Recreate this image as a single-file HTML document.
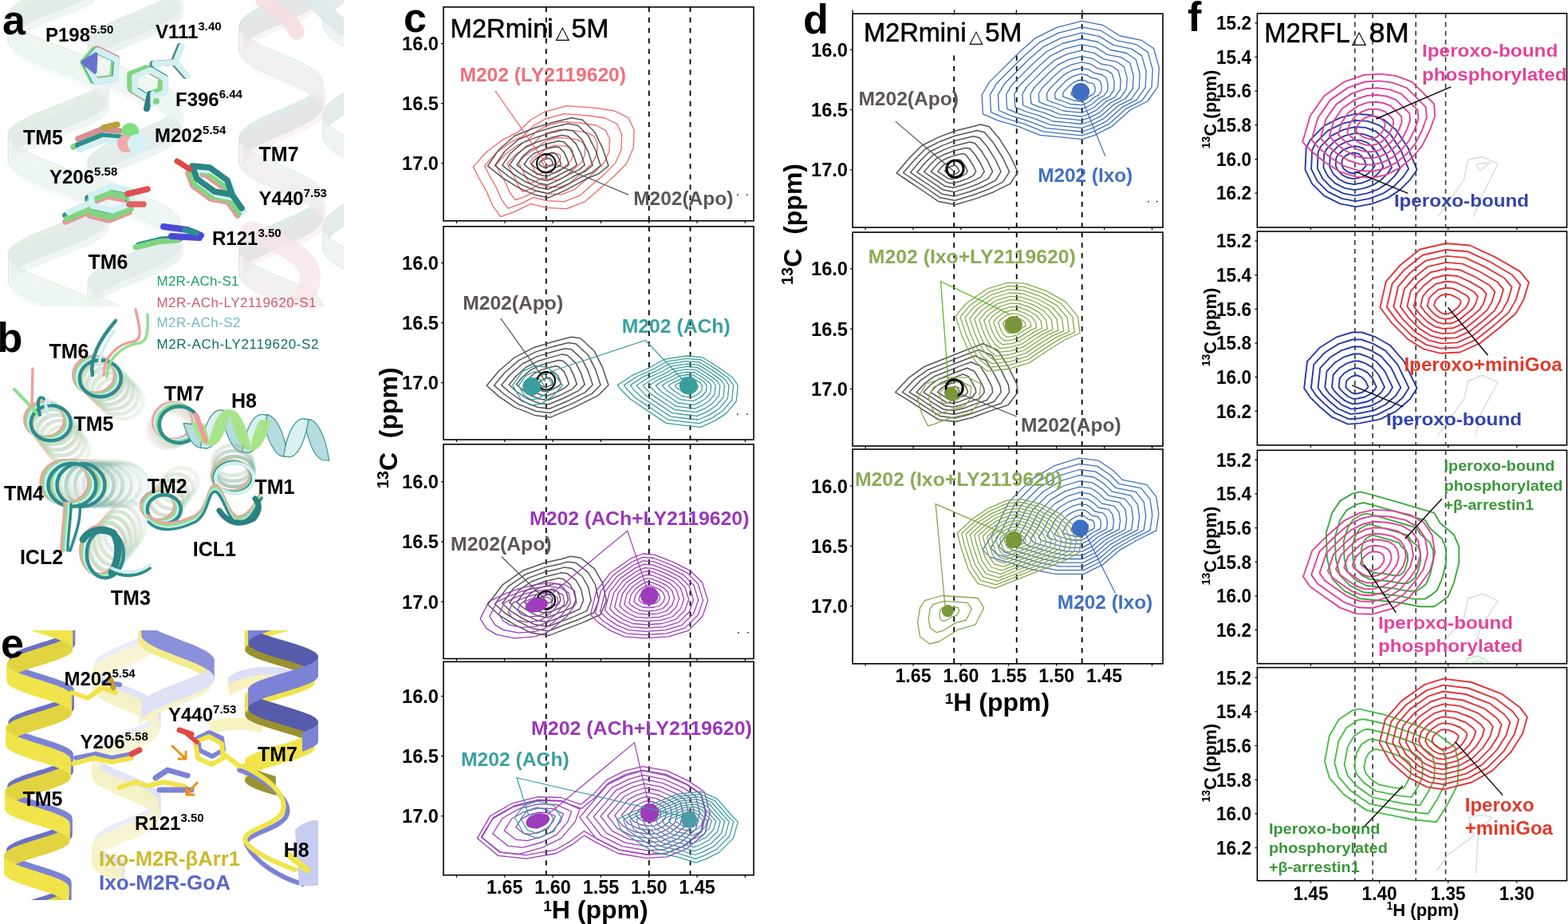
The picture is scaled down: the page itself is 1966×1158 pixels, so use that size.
<!DOCTYPE html>
<html><head><meta charset="utf-8"><title>figure</title>
<style>html,body{margin:0;padding:0;background:#fff;width:1966px;height:1158px;overflow:hidden}
svg{display:block;font-family:"Liberation Sans",Arial,sans-serif}</style></head>
<body><svg width="1966" height="1158" viewBox="0 0 1966 1158">
<rect width="1966" height="1158" fill="#fff"/>
<rect x="556" y="8.8" width="389" height="268" fill="#fff" stroke="#000" stroke-width="1.6"/>
<line x1="684.8" y1="8.8" x2="684.8" y2="276.8" stroke="#000" stroke-width="1.8" stroke-dasharray="6.3 6.8"/>
<line x1="813.8" y1="8.8" x2="813.8" y2="276.8" stroke="#000" stroke-width="1.8" stroke-dasharray="6.3 6.8"/>
<line x1="865.5" y1="8.8" x2="865.5" y2="276.8" stroke="#000" stroke-width="1.8" stroke-dasharray="6.3 6.8"/>
<rect x="556" y="283.8" width="389" height="267.2" fill="#fff" stroke="#000" stroke-width="1.6"/>
<line x1="684.8" y1="283.8" x2="684.8" y2="551" stroke="#000" stroke-width="1.8" stroke-dasharray="6.3 6.8"/>
<line x1="813.8" y1="283.8" x2="813.8" y2="551" stroke="#000" stroke-width="1.8" stroke-dasharray="6.3 6.8"/>
<line x1="865.5" y1="283.8" x2="865.5" y2="551" stroke="#000" stroke-width="1.8" stroke-dasharray="6.3 6.8"/>
<rect x="556" y="556.8" width="389" height="268.7" fill="#fff" stroke="#000" stroke-width="1.6"/>
<line x1="684.8" y1="556.8" x2="684.8" y2="825.5" stroke="#000" stroke-width="1.8" stroke-dasharray="6.3 6.8"/>
<line x1="813.8" y1="556.8" x2="813.8" y2="825.5" stroke="#000" stroke-width="1.8" stroke-dasharray="6.3 6.8"/>
<line x1="865.5" y1="556.8" x2="865.5" y2="825.5" stroke="#000" stroke-width="1.8" stroke-dasharray="6.3 6.8"/>
<rect x="556" y="829.3" width="389" height="267.4" fill="#fff" stroke="#000" stroke-width="1.6"/>
<line x1="684.8" y1="829.3" x2="684.8" y2="1096.7" stroke="#000" stroke-width="1.8" stroke-dasharray="6.3 6.8"/>
<line x1="813.8" y1="829.3" x2="813.8" y2="1096.7" stroke="#000" stroke-width="1.8" stroke-dasharray="6.3 6.8"/>
<line x1="865.5" y1="829.3" x2="865.5" y2="1096.7" stroke="#000" stroke-width="1.8" stroke-dasharray="6.3 6.8"/>
<line x1="572.5" y1="276.8" x2="572.5" y2="279.8" stroke="#000" stroke-width="1.2"/>
<line x1="632.8" y1="276.8" x2="632.8" y2="279.8" stroke="#000" stroke-width="1.2"/>
<line x1="693.1" y1="276.8" x2="693.1" y2="279.8" stroke="#000" stroke-width="1.2"/>
<line x1="753.4" y1="276.8" x2="753.4" y2="279.8" stroke="#000" stroke-width="1.2"/>
<line x1="813.7" y1="276.8" x2="813.7" y2="279.8" stroke="#000" stroke-width="1.2"/>
<line x1="874" y1="276.8" x2="874" y2="279.8" stroke="#000" stroke-width="1.2"/>
<line x1="934.3" y1="276.8" x2="934.3" y2="279.8" stroke="#000" stroke-width="1.2"/>
<line x1="572.5" y1="551" x2="572.5" y2="554" stroke="#000" stroke-width="1.2"/>
<line x1="632.8" y1="551" x2="632.8" y2="554" stroke="#000" stroke-width="1.2"/>
<line x1="693.1" y1="551" x2="693.1" y2="554" stroke="#000" stroke-width="1.2"/>
<line x1="753.4" y1="551" x2="753.4" y2="554" stroke="#000" stroke-width="1.2"/>
<line x1="813.7" y1="551" x2="813.7" y2="554" stroke="#000" stroke-width="1.2"/>
<line x1="874" y1="551" x2="874" y2="554" stroke="#000" stroke-width="1.2"/>
<line x1="934.3" y1="551" x2="934.3" y2="554" stroke="#000" stroke-width="1.2"/>
<line x1="572.5" y1="825.5" x2="572.5" y2="828.5" stroke="#000" stroke-width="1.2"/>
<line x1="632.8" y1="825.5" x2="632.8" y2="828.5" stroke="#000" stroke-width="1.2"/>
<line x1="693.1" y1="825.5" x2="693.1" y2="828.5" stroke="#000" stroke-width="1.2"/>
<line x1="753.4" y1="825.5" x2="753.4" y2="828.5" stroke="#000" stroke-width="1.2"/>
<line x1="813.7" y1="825.5" x2="813.7" y2="828.5" stroke="#000" stroke-width="1.2"/>
<line x1="874" y1="825.5" x2="874" y2="828.5" stroke="#000" stroke-width="1.2"/>
<line x1="934.3" y1="825.5" x2="934.3" y2="828.5" stroke="#000" stroke-width="1.2"/>
<line x1="572.5" y1="1096.7" x2="572.5" y2="1099.7" stroke="#000" stroke-width="1.2"/>
<line x1="632.8" y1="1096.7" x2="632.8" y2="1099.7" stroke="#000" stroke-width="1.2"/>
<line x1="693.1" y1="1096.7" x2="693.1" y2="1099.7" stroke="#000" stroke-width="1.2"/>
<line x1="753.4" y1="1096.7" x2="753.4" y2="1099.7" stroke="#000" stroke-width="1.2"/>
<line x1="813.7" y1="1096.7" x2="813.7" y2="1099.7" stroke="#000" stroke-width="1.2"/>
<line x1="874" y1="1096.7" x2="874" y2="1099.7" stroke="#000" stroke-width="1.2"/>
<line x1="934.3" y1="1096.7" x2="934.3" y2="1099.7" stroke="#000" stroke-width="1.2"/>
<text x="550" y="63.1" font-size="24" fill="#000" font-weight="bold" text-anchor="end" textLength="46" lengthAdjust="spacingAndGlyphs" >16.0</text>
<line x1="553" y1="54.6" x2="556" y2="54.6" stroke="#000" stroke-width="1.2"/>
<text x="550" y="138.2" font-size="24" fill="#000" font-weight="bold" text-anchor="end" textLength="46" lengthAdjust="spacingAndGlyphs" >16.5</text>
<line x1="553" y1="129.7" x2="556" y2="129.7" stroke="#000" stroke-width="1.2"/>
<text x="550" y="213.3" font-size="24" fill="#000" font-weight="bold" text-anchor="end" textLength="46" lengthAdjust="spacingAndGlyphs" >17.0</text>
<line x1="553" y1="204.8" x2="556" y2="204.8" stroke="#000" stroke-width="1.2"/>
<text x="550" y="338" font-size="24" fill="#000" font-weight="bold" text-anchor="end" textLength="46" lengthAdjust="spacingAndGlyphs" >16.0</text>
<line x1="553" y1="329.5" x2="556" y2="329.5" stroke="#000" stroke-width="1.2"/>
<text x="550" y="413.1" font-size="24" fill="#000" font-weight="bold" text-anchor="end" textLength="46" lengthAdjust="spacingAndGlyphs" >16.5</text>
<line x1="553" y1="404.6" x2="556" y2="404.6" stroke="#000" stroke-width="1.2"/>
<text x="550" y="488.2" font-size="24" fill="#000" font-weight="bold" text-anchor="end" textLength="46" lengthAdjust="spacingAndGlyphs" >17.0</text>
<line x1="553" y1="479.7" x2="556" y2="479.7" stroke="#000" stroke-width="1.2"/>
<text x="550" y="612.3" font-size="24" fill="#000" font-weight="bold" text-anchor="end" textLength="46" lengthAdjust="spacingAndGlyphs" >16.0</text>
<line x1="553" y1="603.8" x2="556" y2="603.8" stroke="#000" stroke-width="1.2"/>
<text x="550" y="687.4" font-size="24" fill="#000" font-weight="bold" text-anchor="end" textLength="46" lengthAdjust="spacingAndGlyphs" >16.5</text>
<line x1="553" y1="678.9" x2="556" y2="678.9" stroke="#000" stroke-width="1.2"/>
<text x="550" y="762.5" font-size="24" fill="#000" font-weight="bold" text-anchor="end" textLength="46" lengthAdjust="spacingAndGlyphs" >17.0</text>
<line x1="553" y1="754" x2="556" y2="754" stroke="#000" stroke-width="1.2"/>
<text x="550" y="881" font-size="24" fill="#000" font-weight="bold" text-anchor="end" textLength="46" lengthAdjust="spacingAndGlyphs" >16.0</text>
<line x1="553" y1="872.5" x2="556" y2="872.5" stroke="#000" stroke-width="1.2"/>
<text x="550" y="956.1" font-size="24" fill="#000" font-weight="bold" text-anchor="end" textLength="46" lengthAdjust="spacingAndGlyphs" >16.5</text>
<line x1="553" y1="947.6" x2="556" y2="947.6" stroke="#000" stroke-width="1.2"/>
<text x="550" y="1031.2" font-size="24" fill="#000" font-weight="bold" text-anchor="end" textLength="46" lengthAdjust="spacingAndGlyphs" >17.0</text>
<line x1="553" y1="1022.7" x2="556" y2="1022.7" stroke="#000" stroke-width="1.2"/>
<text x="632.8" y="1120" font-size="24" fill="#000" font-weight="bold" text-anchor="middle" textLength="45.5" lengthAdjust="spacingAndGlyphs" >1.65</text>
<text x="693.1" y="1120" font-size="24" fill="#000" font-weight="bold" text-anchor="middle" textLength="45.5" lengthAdjust="spacingAndGlyphs" >1.60</text>
<text x="753.4" y="1120" font-size="24" fill="#000" font-weight="bold" text-anchor="middle" textLength="45.5" lengthAdjust="spacingAndGlyphs" >1.55</text>
<text x="813.7" y="1120" font-size="24" fill="#000" font-weight="bold" text-anchor="middle" textLength="45.5" lengthAdjust="spacingAndGlyphs" >1.50</text>
<text x="874" y="1120" font-size="24" fill="#000" font-weight="bold" text-anchor="middle" textLength="45.5" lengthAdjust="spacingAndGlyphs" >1.45</text>
<text x="747" y="1151" font-size="32" font-weight="bold" text-anchor="middle" fill="#000"><tspan font-size="19" dy="-9">1</tspan><tspan dy="9">H (ppm)</tspan></text>
<text transform="translate(498 536.3) rotate(-90)" font-size="32" font-weight="bold" text-anchor="middle" fill="#000" style="white-space:pre"><tspan font-size="20" dy="-11">13</tspan><tspan dy="11">C  (ppm)</tspan></text>
<text x="564.6" y="46.5" font-size="33" fill="#000" font-weight="normal" text-anchor="start" textLength="129" lengthAdjust="spacingAndGlyphs" stroke="#000" stroke-width="0.55">M2Rmini</text>
<text x="696.6" y="48" font-size="23" font-family="DejaVu Sans" fill="#000" textLength="17.7" lengthAdjust="spacingAndGlyphs" transform="translate(0 46.5) scale(1 0.97) translate(0 -46.5)">△</text>
<text x="716.6" y="46.5" font-size="33" fill="#000" font-weight="normal" text-anchor="start" textLength="46.9" lengthAdjust="spacingAndGlyphs" stroke="#000" stroke-width="0.55">5M</text>
<path d="M593.4 209.1 L610.2 190.3 L630.2 175.3 L650.3 165.2 L665.3 150.2 L682.8 140.2 L710.4 132.7 L745.4 135.2 L770.5 139 L788 147.7 L795 162.7 L794.2 185.3 L785.5 205.3 L770.5 220.3 L750.4 237.9 L732.9 252.9 L710.4 261.6 L685.3 260.4 L665.3 255.4 L645.3 265.4 L627.7 271.7 L617.7 257.9 L610.2 240.4 L600.2 222.8Z" fill="none" stroke="#f2666a" stroke-width="1.3" stroke-linejoin="round" />
<path d="M607.6 207.8 L622 191.8 L639.1 178.9 L656.1 170.4 L669 157.6 L683.9 149 L707.4 142.6 L737.3 144.8 L758.7 148 L773.7 155.4 L779.6 168.3 L779 187.5 L771.5 204.6 L758.7 217.4 L741.6 232.3 L726.7 245.2 L707.4 252.6 L686.1 251.6 L669 247.3 L651.9 255.9 L636.9 261.2 L628.4 249.4 L622 234.5 L613.4 219.5Z" fill="none" stroke="#f2666a" stroke-width="1.3" stroke-linejoin="round" />
<path d="M621.9 206.5 L633.7 193.2 L647.9 182.6 L662 175.5 L672.6 164.9 L685 157.8 L704.5 152.5 L729.3 154.3 L746.9 157 L759.3 163.1 L764.3 173.8 L763.8 189.7 L757.6 203.8 L746.9 214.5 L732.8 226.8 L720.4 237.5 L704.5 243.6 L686.8 242.8 L672.6 239.2 L658.5 246.3 L646.1 250.7 L639 241 L633.7 228.6 L626.6 216.2Z" fill="none" stroke="#f2666a" stroke-width="1.3" stroke-linejoin="round" />
<path d="M636.1 205.2 L645.5 194.7 L656.7 186.3 L667.9 180.7 L676.3 172.3 L686.1 166.6 L701.5 162.4 L721.2 163.8 L735.2 165.9 L745 170.9 L748.9 179.3 L748.5 191.9 L743.6 203.1 L735.2 211.5 L724 221.3 L714.2 229.7 L701.5 234.7 L687.5 234 L676.3 231.1 L665.1 236.8 L655.3 240.3 L649.7 232.5 L645.5 222.7 L639.9 212.9Z" fill="none" stroke="#f2666a" stroke-width="1.3" stroke-linejoin="round" />
<path d="M650.3 203.9 L657.2 196.2 L665.5 190 L673.8 185.8 L680 179.6 L687.2 175.5 L698.6 172.4 L713.1 173.4 L723.4 174.9 L730.7 178.6 L733.6 184.8 L733.3 194.1 L729.7 202.4 L723.4 208.6 L715.2 215.8 L707.9 222 L698.6 225.7 L688.3 225.1 L680 223.1 L671.7 227.2 L664.5 229.8 L660.3 224.1 L657.2 216.9 L653.1 209.6Z" fill="none" stroke="#f2666a" stroke-width="1.3" stroke-linejoin="round" />
<path d="M664.5 202.6 L669 197.6 L674.3 193.6 L679.6 191 L683.7 186.9 L688.3 184.3 L695.7 182.3 L705 182.9 L711.7 183.9 L716.4 186.3 L718.2 190.3 L718 196.3 L715.7 201.6 L711.7 205.6 L706.4 210.3 L701.7 214.3 L695.7 216.7 L689 216.3 L683.7 215 L678.3 217.7 L673.6 219.3 L671 215.7 L669 211 L666.3 206.3Z" fill="none" stroke="#f2666a" stroke-width="1.3" stroke-linejoin="round" />
<path d="M678.7 201.4 L680.7 199.1 L683.1 197.3 L685.5 196.1 L687.3 194.3 L689.4 193.1 L692.7 192.2 L696.9 192.5 L699.9 192.9 L702 194 L702.9 195.8 L702.8 198.5 L701.7 200.9 L699.9 202.7 L697.5 204.8 L695.4 206.6 L692.7 207.7 L689.7 207.5 L687.3 206.9 L684.9 208.1 L682.8 208.9 L681.6 207.2 L680.7 205.1 L679.5 203Z" fill="none" stroke="#f2666a" stroke-width="1.3" stroke-linejoin="round" />
<path d="M611.5 207.8 L625.2 187.8 L645.3 170.3 L670.3 160.2 L695.3 152.7 L716.6 147.7 L730.4 150.2 L745.4 165.2 L755.4 185.3 L762.9 207.8 L750.4 217.8 L732.9 225.3 L710.4 237.9 L687.8 247.9 L670.3 244.1 L650.3 235.4 L630.2 222.8Z" fill="none" stroke="#555555" stroke-width="1.5" stroke-linejoin="round" />
<path d="M620.6 207.5 L632.6 190 L650.1 174.7 L672 165.9 L693.9 159.3 L712.5 155 L724.6 157.2 L737.7 170.3 L746.5 187.8 L753 207.5 L742.1 216.3 L726.8 222.8 L707.1 233.8 L687.4 242.5 L672 239.2 L654.5 231.6 L637 220.6Z" fill="none" stroke="#555555" stroke-width="1.5" stroke-linejoin="round" />
<path d="M629.7 207.2 L640 192.2 L655 179.1 L673.8 171.6 L692.5 165.9 L708.4 162.2 L718.7 164.1 L730 175.3 L737.5 190.3 L743.1 207.2 L733.7 214.7 L720.6 220.3 L703.8 229.7 L686.9 237.2 L673.8 234.4 L658.8 227.8 L643.8 218.4Z" fill="none" stroke="#555555" stroke-width="1.5" stroke-linejoin="round" />
<path d="M638.8 206.9 L647.4 194.4 L659.9 183.5 L675.5 177.2 L691.1 172.6 L704.3 169.4 L712.9 171 L722.3 180.4 L728.5 192.8 L733.2 206.9 L725.4 213.1 L714.5 217.8 L700.4 225.6 L686.4 231.8 L675.5 229.5 L663 224 L650.5 216.2Z" fill="none" stroke="#555555" stroke-width="1.5" stroke-linejoin="round" />
<path d="M648 206.6 L654.8 196.6 L664.8 187.9 L677.2 182.9 L689.7 179.2 L700.3 176.7 L707.1 177.9 L714.6 185.4 L719.5 195.4 L723.3 206.6 L717.1 211.5 L708.3 215.3 L697.1 221.5 L685.9 226.5 L677.2 224.6 L667.3 220.2 L657.3 214Z" fill="none" stroke="#555555" stroke-width="1.5" stroke-linejoin="round" />
<path d="M657.1 206.2 L662.2 198.8 L669.7 192.3 L679 188.6 L688.3 185.8 L696.2 183.9 L701.3 184.8 L706.9 190.4 L710.6 197.9 L713.4 206.2 L708.7 210 L702.2 212.7 L693.8 217.4 L685.5 221.1 L679 219.7 L671.5 216.5 L664.1 211.8Z" fill="none" stroke="#555555" stroke-width="1.5" stroke-linejoin="round" />
<path d="M666.2 205.9 L669.6 201 L674.5 196.7 L680.7 194.2 L686.8 192.4 L692.1 191.2 L695.5 191.8 L699.1 195.5 L701.6 200.4 L703.5 205.9 L700.4 208.4 L696.1 210.2 L690.5 213.3 L685 215.8 L680.7 214.8 L675.8 212.7 L670.8 209.6Z" fill="none" stroke="#555555" stroke-width="1.5" stroke-linejoin="round" />
<path d="M675.4 205.6 L677 203.2 L679.4 201.1 L682.4 199.9 L685.4 199 L688 198.4 L689.6 198.7 L691.4 200.5 L692.6 202.9 L693.5 205.6 L692 206.8 L689.9 207.7 L687.2 209.2 L684.5 210.4 L682.4 210 L680 208.9 L677.6 207.4Z" fill="none" stroke="#555555" stroke-width="1.5" stroke-linejoin="round" />
<circle cx="684.8" cy="204.8" r="11.8" fill="none" stroke="#000" stroke-width="1.9"/>
<path d="M621 113.9 L684.8 205.3" fill="none" stroke="#f2666a" stroke-width="1.2"/>
<path d="M695.3 205.3 L788 244.1" fill="none" stroke="#555555" stroke-width="1.2"/>
<text x="576.4" y="102.2" font-size="24" fill="#f0707a" font-weight="bold" text-anchor="start" textLength="208.6" lengthAdjust="spacingAndGlyphs" >M202 (LY2119620)</text>
<text x="794.2" y="256.6" font-size="24" fill="#5b5555" font-weight="bold" text-anchor="start" textLength="125.2" lengthAdjust="spacingAndGlyphs" >M202(Apo)</text>
<path d="M610.2 483.3 L625.2 465.3 L645.3 447.8 L670.3 435.2 L695.3 427.7 L716.6 422.2 L727.9 424 L745.4 440.3 L755.4 460.3 L762.9 482.8 L750.4 495.3 L720.4 510.4 L690.3 522.9 L670.3 520.4 L645.3 510.4 L625.2 496.6Z" fill="none" stroke="#555555" stroke-width="1.5" stroke-linejoin="round" />
<path d="M619.5 482.9 L632.6 467.2 L650.1 451.9 L672 440.9 L693.9 434.3 L712.5 429.5 L722.4 431.1 L737.7 445.3 L746.5 462.8 L753 482.5 L742.1 493.4 L715.8 506.6 L689.5 517.5 L672 515.3 L650.1 506.6 L632.6 494.5Z" fill="none" stroke="#555555" stroke-width="1.5" stroke-linejoin="round" />
<path d="M628.8 482.6 L640 469.1 L655 456 L673.8 446.6 L692.5 441 L708.4 436.8 L716.9 438.1 L730 450.3 L737.5 465.3 L743.1 482.2 L733.7 491.6 L711.2 502.8 L688.8 512.2 L673.8 510.3 L655 502.8 L640 492.5Z" fill="none" stroke="#555555" stroke-width="1.5" stroke-linejoin="round" />
<path d="M638.1 482.2 L647.4 471 L659.9 460 L675.5 452.2 L691.1 447.6 L704.3 444.1 L711.4 445.2 L722.3 455.4 L728.5 467.8 L733.2 481.9 L725.4 489.7 L706.7 499 L688 506.8 L675.5 505.3 L659.9 499 L647.4 490.5Z" fill="none" stroke="#555555" stroke-width="1.5" stroke-linejoin="round" />
<path d="M647.4 481.8 L654.8 472.8 L664.8 464.1 L677.2 457.9 L689.7 454.2 L700.3 451.4 L705.9 452.3 L714.6 460.4 L719.5 470.4 L723.3 481.6 L717.1 487.8 L702.1 495.3 L687.2 501.5 L677.2 500.2 L664.8 495.3 L654.8 488.4Z" fill="none" stroke="#555555" stroke-width="1.5" stroke-linejoin="round" />
<path d="M656.6 481.4 L662.2 474.7 L669.7 468.2 L679 463.6 L688.3 460.8 L696.2 458.7 L700.3 459.4 L706.9 465.4 L710.6 472.9 L713.4 481.2 L708.7 485.9 L697.6 491.5 L686.4 496.1 L679 495.2 L669.7 491.5 L662.2 486.4Z" fill="none" stroke="#555555" stroke-width="1.5" stroke-linejoin="round" />
<path d="M665.9 481.1 L669.6 476.6 L674.5 472.3 L680.7 469.2 L686.8 467.4 L692.1 466 L694.8 466.5 L699.1 470.5 L701.6 475.4 L703.5 480.9 L700.4 484 L693 487.7 L685.6 490.8 L680.7 490.2 L674.5 487.7 L669.6 484.3Z" fill="none" stroke="#555555" stroke-width="1.5" stroke-linejoin="round" />
<path d="M675.2 480.7 L677 478.5 L679.4 476.4 L682.4 474.9 L685.4 474 L688 473.3 L689.3 473.6 L691.4 475.5 L692.6 477.9 L693.5 480.6 L692 482.1 L688.4 483.9 L684.8 485.4 L682.4 485.1 L679.4 483.9 L677 482.3Z" fill="none" stroke="#555555" stroke-width="1.5" stroke-linejoin="round" />
<path d="M642.8 482.8 L655.3 465.3 L670.3 458.3 L687.8 460.3 L705.4 482.8 L692.8 496.6 L677.8 506.6 L665.3 507.9 L652.8 500.3Z" fill="none" stroke="#3a9e9e" stroke-width="1.3" stroke-linejoin="round" />
<path d="M650.3 483.2 L659 470.9 L669.5 466 L681.8 467.4 L694.1 483.2 L685.3 492.8 L674.8 499.8 L666 500.7 L657.3 495.5Z" fill="none" stroke="#3a9e9e" stroke-width="1.3" stroke-linejoin="round" />
<path d="M657.8 483.6 L662.8 476.6 L668.8 473.8 L675.8 474.6 L682.8 483.6 L677.8 489.1 L671.8 493.1 L666.8 493.6 L661.8 490.6Z" fill="none" stroke="#3a9e9e" stroke-width="1.3" stroke-linejoin="round" />
<path d="M774.2 482.8 L793 470.3 L815.5 460.3 L833 450.3 L860.6 446 L880.6 447.8 L900.6 460.3 L918.2 472.8 L925.2 482.8 L923.2 502.8 L910.7 517.9 L895.6 527.9 L878.1 535.4 L855.6 532.9 L835.5 530.4 L820.5 520.4 L805.5 510.4 L790.5 500.3 L780.5 490.3Z" fill="none" stroke="#3a9e9e" stroke-width="1.3" stroke-linejoin="round" />
<path d="M782.2 482.9 L799.3 471.5 L819.8 462.4 L835.7 453.2 L860.8 449.4 L879 451 L897.3 462.4 L913.2 473.8 L919.6 482.9 L917.8 501.1 L906.4 514.8 L892.7 523.9 L876.8 530.7 L856.3 528.4 L838 526.2 L824.4 517 L810.7 507.9 L797 498.8 L787.9 489.7Z" fill="none" stroke="#3a9e9e" stroke-width="1.3" stroke-linejoin="round" />
<path d="M790.2 482.9 L805.6 472.6 L824.1 464.4 L838.5 456.2 L861 452.7 L877.5 454.2 L893.9 464.4 L908.3 474.7 L914 482.9 L912.4 499.3 L902.1 511.7 L889.8 519.9 L875.4 526 L856.9 524 L840.5 521.9 L828.2 513.7 L815.9 505.5 L803.6 497.3 L795.3 489.1Z" fill="none" stroke="#3a9e9e" stroke-width="1.3" stroke-linejoin="round" />
<path d="M798.2 483 L811.9 473.8 L828.4 466.5 L841.2 459.2 L861.3 456.1 L875.9 457.4 L890.5 466.5 L903.3 475.6 L908.4 483 L907 497.6 L897.8 508.5 L886.9 515.9 L874.1 521.3 L857.6 519.5 L843 517.7 L832 510.4 L821.1 503.1 L810.1 495.7 L802.8 488.4Z" fill="none" stroke="#3a9e9e" stroke-width="1.3" stroke-linejoin="round" />
<path d="M806.2 483 L818.2 475 L832.6 468.6 L843.9 462.2 L861.5 459.4 L874.3 460.6 L887.1 468.6 L898.3 476.6 L902.8 483 L901.5 495.8 L893.5 505.4 L883.9 511.8 L872.7 516.6 L858.3 515 L845.5 513.4 L835.8 507 L826.2 500.6 L816.6 494.2 L810.2 487.8Z" fill="none" stroke="#3a9e9e" stroke-width="1.3" stroke-linejoin="round" />
<path d="M814.2 483 L824.5 476.2 L836.9 470.7 L846.6 465.1 L861.7 462.8 L872.7 463.8 L883.7 470.7 L893.4 477.5 L897.2 483 L896.1 494.1 L889.3 502.3 L881 507.8 L871.4 512 L859 510.6 L847.9 509.2 L839.7 503.7 L831.4 498.2 L823.2 492.7 L817.6 487.2Z" fill="none" stroke="#3a9e9e" stroke-width="1.3" stroke-linejoin="round" />
<path d="M822.2 483.1 L830.8 477.3 L841.2 472.7 L849.3 468.1 L861.9 466.2 L871.2 467 L880.4 472.7 L888.4 478.5 L891.7 483.1 L890.7 492.3 L885 499.2 L878.1 503.8 L870 507.3 L859.6 506.1 L850.4 505 L843.5 500.4 L836.6 495.8 L829.7 491.2 L825.1 486.5Z" fill="none" stroke="#3a9e9e" stroke-width="1.3" stroke-linejoin="round" />
<path d="M830.2 483.1 L837.2 478.5 L845.5 474.8 L852 471.1 L862.2 469.5 L869.6 470.2 L877 474.8 L883.5 479.4 L886.1 483.1 L885.3 490.5 L880.7 496.1 L875.1 499.8 L868.6 502.6 L860.3 501.7 L852.9 500.7 L847.3 497 L841.8 493.3 L836.2 489.6 L832.5 485.9Z" fill="none" stroke="#3a9e9e" stroke-width="1.3" stroke-linejoin="round" />
<path d="M838.2 483.2 L843.5 479.7 L849.8 476.9 L854.7 474.1 L862.4 472.9 L868 473.4 L873.6 476.9 L878.5 480.4 L880.5 483.2 L879.9 488.8 L876.4 493 L872.2 495.8 L867.3 497.9 L861 497.2 L855.4 496.5 L851.2 493.7 L847 490.9 L842.8 488.1 L840 485.3Z" fill="none" stroke="#3a9e9e" stroke-width="1.3" stroke-linejoin="round" />
<path d="M846.2 483.2 L849.8 480.8 L854.1 478.9 L857.4 477 L862.6 476.2 L866.4 476.6 L870.2 478.9 L873.6 481.3 L874.9 483.2 L874.5 487 L872.1 489.9 L869.3 491.8 L865.9 493.2 L861.7 492.7 L857.9 492.3 L855 490.4 L852.1 488.5 L849.3 486.6 L847.4 484.7Z" fill="none" stroke="#3a9e9e" stroke-width="1.3" stroke-linejoin="round" />
<path d="M854.2 483.3 L856.1 482 L858.3 481 L860.1 480 L862.8 479.6 L864.8 479.8 L866.8 481 L868.6 482.3 L869.3 483.3 L869.1 485.3 L867.8 486.8 L866.3 487.8 L864.6 488.5 L862.3 488.3 L860.3 488 L858.8 487 L857.3 486 L855.8 485 L854.8 484Z" fill="none" stroke="#3a9e9e" stroke-width="1.3" stroke-linejoin="round" />
<circle cx="684.8" cy="477.3" r="11.3" fill="none" stroke="#000" stroke-width="1.9"/>
<circle cx="666.5" cy="484.6" r="11.3" fill="#3a9e9e"/>
<circle cx="863.1" cy="483.3" r="11.3" fill="#3a9e9e"/>
<path d="M627.7 398.9 L684.1 477.8" fill="none" stroke="#555555" stroke-width="1.2"/>
<path d="M687.8 466.5 L809.3 426.5 L863.1 483.3" fill="none" stroke="#3a9e9e" stroke-width="1.2"/>
<text x="580.2" y="387.7" font-size="24" fill="#5b5555" font-weight="bold" text-anchor="start" textLength="125.9" lengthAdjust="spacingAndGlyphs" >M202(Apo)</text>
<text x="779.7" y="416.5" font-size="24" fill="#3aa0a0" font-weight="bold" text-anchor="start" textLength="136" lengthAdjust="spacingAndGlyphs" >M202 (ACh)</text>
<path d="M611.5 757.8 L630.2 732.8 L655.3 715.3 L682.8 705.2 L705.4 700.2 L715.4 697.2 L727.9 699 L745.4 712.8 L755.4 730.3 L760.4 752.8 L752.9 770.3 L730.4 780.4 L710.4 787.9 L687.8 796.6 L665.3 792.9 L645.3 782.9 L625.2 770.3Z" fill="none" stroke="#555555" stroke-width="1.5" stroke-linejoin="round" />
<path d="M620.6 757 L637 735.1 L658.9 719.8 L683 711.1 L702.7 706.7 L711.4 704.1 L722.4 705.6 L737.7 717.6 L746.5 733 L750.8 752.7 L744.3 768 L724.6 776.7 L707.1 783.3 L687.4 791 L667.7 787.7 L650.1 778.9 L632.6 768Z" fill="none" stroke="#555555" stroke-width="1.5" stroke-linejoin="round" />
<path d="M629.7 756.3 L643.8 737.5 L662.5 724.4 L683.1 716.9 L700 713.1 L707.5 710.9 L716.9 712.2 L730 722.5 L737.5 735.6 L741.2 752.5 L735.6 765.6 L718.7 773.1 L703.8 778.7 L686.9 785.3 L670 782.5 L655 775 L640 765.6Z" fill="none" stroke="#555555" stroke-width="1.5" stroke-linejoin="round" />
<path d="M638.8 755.5 L650.5 739.9 L666.1 729 L683.3 722.7 L697.3 719.6 L703.6 717.7 L711.4 718.8 L722.3 727.4 L728.5 738.3 L731.6 752.3 L727 763.3 L712.9 769.5 L700.4 774.2 L686.4 779.6 L672.4 777.3 L659.9 771.1 L647.4 763.3Z" fill="none" stroke="#555555" stroke-width="1.5" stroke-linejoin="round" />
<path d="M648 754.7 L657.3 742.2 L669.8 733.5 L683.4 728.5 L694.7 726.1 L699.6 724.6 L705.9 725.4 L714.6 732.3 L719.5 741 L722 752.2 L718.3 760.9 L707.1 765.9 L697.1 769.6 L685.9 774 L674.7 772.1 L664.8 767.1 L654.8 760.9Z" fill="none" stroke="#555555" stroke-width="1.5" stroke-linejoin="round" />
<path d="M657.1 753.9 L664.1 744.6 L673.4 738.1 L683.6 734.4 L692 732.5 L695.7 731.4 L700.3 732 L706.9 737.2 L710.6 743.7 L712.4 752 L709.6 758.5 L701.3 762.3 L693.8 765.1 L685.5 768.3 L677.1 766.9 L669.7 763.2 L662.2 758.5Z" fill="none" stroke="#555555" stroke-width="1.5" stroke-linejoin="round" />
<path d="M666.2 753.1 L670.8 747 L677 742.6 L683.8 740.2 L689.3 739 L691.8 738.2 L694.8 738.6 L699.1 742 L701.6 746.3 L702.8 751.9 L701 756.2 L695.5 758.6 L690.5 760.5 L685 762.6 L679.5 761.7 L674.5 759.3 L669.6 756.2Z" fill="none" stroke="#555555" stroke-width="1.5" stroke-linejoin="round" />
<path d="M675.4 752.3 L677.6 749.3 L680.6 747.2 L683.9 746 L686.6 745.4 L687.8 745 L689.3 745.3 L691.4 746.9 L692.6 749 L693.2 751.7 L692.3 753.8 L689.6 755 L687.2 755.9 L684.5 757 L681.8 756.5 L679.4 755.3 L677 753.8Z" fill="none" stroke="#555555" stroke-width="1.5" stroke-linejoin="round" />
<path d="M602.2 775.4 L612.7 754.1 L630.2 745.3 L650.3 737.8 L670.3 732.8 L690.3 730.3 L707.9 732.8 L720.4 740.3 L722.9 755.3 L710.4 772.8 L695.3 785.4 L685.3 792.9 L670.3 797.9 L645.3 799.9 L622.7 795.4 L610.2 787.9Z" fill="none" stroke="#9d3cbd" stroke-width="1.3" stroke-linejoin="round" />
<path d="M613.9 772.5 L622.7 754.7 L637.5 747.3 L654.3 741 L671.1 736.8 L687.9 734.7 L702.6 736.8 L713.2 743.1 L715.3 755.7 L704.8 770.4 L692.1 781 L683.7 787.3 L671.1 791.5 L650.1 793.2 L631.1 789.4 L620.6 783.1Z" fill="none" stroke="#9d3cbd" stroke-width="1.3" stroke-linejoin="round" />
<path d="M625.6 769.7 L632.7 755.3 L644.7 749.3 L658.3 744.2 L671.9 740.8 L685.5 739.1 L697.4 740.8 L706 745.9 L707.7 756.1 L699.1 768 L688.9 776.6 L682.1 781.7 L671.9 785.1 L654.9 786.4 L639.6 783.4 L631 778.3Z" fill="none" stroke="#9d3cbd" stroke-width="1.3" stroke-linejoin="round" />
<path d="M637.3 766.9 L642.8 755.9 L651.9 751.3 L662.3 747.4 L672.7 744.8 L683.1 743.5 L692.2 744.8 L698.7 748.7 L700 756.5 L693.5 765.6 L685.7 772.1 L680.5 776.1 L672.7 778.7 L659.7 779.7 L648 777.4 L641.5 773.5Z" fill="none" stroke="#9d3cbd" stroke-width="1.3" stroke-linejoin="round" />
<path d="M649 764.1 L652.8 756.5 L659.1 753.3 L666.3 750.6 L673.5 748.8 L680.7 747.9 L687 748.8 L691.5 751.5 L692.4 756.9 L687.9 763.2 L682.5 767.7 L678.9 770.4 L673.5 772.2 L664.5 773 L656.4 771.3 L651.9 768.6Z" fill="none" stroke="#9d3cbd" stroke-width="1.3" stroke-linejoin="round" />
<path d="M660.7 761.3 L662.8 757.1 L666.3 755.3 L670.3 753.8 L674.3 752.8 L678.3 752.3 L681.8 752.8 L684.3 754.3 L684.8 757.3 L682.3 760.8 L679.3 763.3 L677.3 764.8 L674.3 765.8 L669.3 766.2 L664.8 765.3 L662.3 763.8Z" fill="none" stroke="#9d3cbd" stroke-width="1.3" stroke-linejoin="round" />
<path d="M740.4 770.3 L747.9 740.3 L765.4 717.8 L790.5 700.2 L805.5 694 L820.5 695.2 L845.6 705.2 L865.6 715.3 L880.6 730.3 L887.6 752.8 L880.6 772.8 L863.1 790.4 L838.1 797.9 L808 799.9 L783 797.9 L765.4 790.4 L750.4 780.4Z" fill="none" stroke="#9d3cbd" stroke-width="1.3" stroke-linejoin="round" />
<path d="M746.4 768.5 L753.3 740.9 L769.4 720.2 L792.4 704.1 L806.2 698.4 L820 699.5 L843 708.7 L861.4 717.9 L875.2 731.7 L881.6 752.4 L875.2 770.8 L859.1 786.9 L836.1 793.8 L808.5 795.6 L785.5 793.8 L769.4 786.9 L755.6 777.7Z" fill="none" stroke="#9d3cbd" stroke-width="1.3" stroke-linejoin="round" />
<path d="M752.5 766.7 L758.8 741.5 L773.4 722.7 L794.4 708 L806.9 702.8 L819.5 703.8 L840.4 712.2 L857.2 720.6 L869.8 733.2 L875.6 752 L869.8 768.8 L855.1 783.4 L834.2 789.7 L809 791.4 L788.1 789.7 L773.4 783.4 L760.9 775Z" fill="none" stroke="#9d3cbd" stroke-width="1.3" stroke-linejoin="round" />
<path d="M758.5 764.8 L764.2 742.1 L777.4 725.1 L796.3 711.9 L807.7 707.2 L819 708.1 L837.9 715.7 L853 723.3 L864.3 734.6 L869.6 751.6 L864.3 766.7 L851.1 779.9 L832.2 785.6 L809.5 787.1 L790.7 785.6 L777.4 779.9 L766.1 772.4Z" fill="none" stroke="#9d3cbd" stroke-width="1.3" stroke-linejoin="round" />
<path d="M764.6 763 L769.6 742.8 L781.4 727.6 L798.3 715.8 L808.4 711.6 L818.5 712.4 L835.3 719.2 L848.8 725.9 L858.9 736 L863.6 751.2 L858.9 764.7 L847.1 776.4 L830.3 781.5 L810.1 782.8 L793.2 781.5 L781.4 776.4 L771.3 769.7Z" fill="none" stroke="#9d3cbd" stroke-width="1.3" stroke-linejoin="round" />
<path d="M770.6 761.1 L775.1 743.4 L785.4 730.1 L800.2 719.7 L809.1 716 L818 716.7 L832.8 722.7 L844.6 728.6 L853.5 737.5 L857.6 750.8 L853.5 762.6 L843.1 773 L828.3 777.4 L810.6 778.6 L795.8 777.4 L785.4 773 L776.5 767Z" fill="none" stroke="#9d3cbd" stroke-width="1.3" stroke-linejoin="round" />
<path d="M776.7 759.3 L780.5 744 L789.4 732.5 L802.2 723.6 L809.8 720.4 L817.5 721 L830.2 726.1 L840.4 731.2 L848 738.9 L851.6 750.4 L848 760.6 L839.1 769.5 L826.4 773.3 L811.1 774.3 L798.3 773.3 L789.4 769.5 L781.8 764.4Z" fill="none" stroke="#9d3cbd" stroke-width="1.3" stroke-linejoin="round" />
<path d="M782.7 757.4 L785.9 744.6 L793.4 735 L804.1 727.5 L810.5 724.8 L816.9 725.3 L827.6 729.6 L836.2 733.9 L842.6 740.3 L845.6 750 L842.6 758.5 L835.1 766 L824.4 769.2 L811.6 770.1 L800.9 769.2 L793.4 766 L787 761.7Z" fill="none" stroke="#9d3cbd" stroke-width="1.3" stroke-linejoin="round" />
<path d="M788.8 755.6 L791.3 745.2 L797.4 737.4 L806 731.4 L811.2 729.2 L816.4 729.6 L825.1 733.1 L832 736.6 L837.2 741.8 L839.6 749.5 L837.2 756.5 L831.1 762.5 L822.5 765.1 L812.1 765.8 L803.5 765.1 L797.4 762.5 L792.2 759.1Z" fill="none" stroke="#9d3cbd" stroke-width="1.3" stroke-linejoin="round" />
<path d="M794.8 753.8 L796.8 745.8 L801.4 739.9 L808 735.3 L812 733.6 L815.9 734 L822.5 736.6 L827.8 739.2 L831.8 743.2 L833.6 749.1 L831.8 754.4 L827.1 759 L820.5 761 L812.6 761.5 L806 761 L801.4 759 L797.4 756.4Z" fill="none" stroke="#9d3cbd" stroke-width="1.3" stroke-linejoin="round" />
<path d="M800.8 751.9 L802.2 746.4 L805.4 742.3 L809.9 739.2 L812.7 738 L815.4 738.3 L820 740.1 L823.6 741.9 L826.3 744.6 L827.6 748.7 L826.3 752.4 L823.1 755.6 L818.6 756.9 L813.1 757.3 L808.6 756.9 L805.4 755.6 L802.7 753.7Z" fill="none" stroke="#9d3cbd" stroke-width="1.3" stroke-linejoin="round" />
<path d="M806.9 750.1 L807.6 747.1 L809.4 744.8 L811.9 743.1 L813.4 742.4 L814.9 742.6 L817.4 743.6 L819.4 744.6 L820.9 746.1 L821.6 748.3 L820.9 750.3 L819.1 752.1 L816.6 752.8 L813.6 753 L811.1 752.8 L809.4 752.1 L807.9 751.1Z" fill="none" stroke="#9d3cbd" stroke-width="1.3" stroke-linejoin="round" />
<circle cx="684.8" cy="752.3" r="11.3" fill="none" stroke="#000" stroke-width="1.9"/>
<ellipse cx="672.8" cy="758.3" rx="14.5" ry="8.8" fill="#9d3cbd" transform="rotate(-15 672.8 758.3)"/>
<circle cx="814.3" cy="746.6" r="11.3" fill="#9d3cbd"/>
<path d="M629 697.7 L682.8 750.3" fill="none" stroke="#555555" stroke-width="1.2"/>
<path d="M690.3 745.3 L786.7 665.2 L814.3 746.6" fill="none" stroke="#9d3cbd" stroke-width="1.2"/>
<text x="664" y="657.7" font-size="24" fill="#9a36bb" font-weight="bold" text-anchor="start" textLength="275.4" lengthAdjust="spacingAndGlyphs" >M202 (ACh+LY2119620)</text>
<text x="565.1" y="690.2" font-size="24" fill="#5b5555" font-weight="bold" text-anchor="start" textLength="126.4" lengthAdjust="spacingAndGlyphs" >M202(Apo)</text>
<path d="M598.4 1050.6 L624.7 1072.4 L659.7 1076.2 L697.6 1069.5 L718.1 1057.9 L732.7 1047.1 L745.8 1054.9 L775 1069.5 L810 1075.4 L836.3 1073.9 L861.1 1063.7 L883.8 1044.7 L890.3 1018.5 L883 992.2 L864 979.1 L836.3 965.9 L805.6 960.7 L783.7 965.9 L760.4 977.6 L744.3 995.1 L728.3 1008.2 L703.5 999.5 L674.3 998.6 L642.2 1006.8 L614.5 1022.8Z" fill="none" stroke="#9d3cbd" stroke-width="1.3" stroke-linejoin="round" />
<path d="M604.2 1049.5 L626.5 1068.1 L659.5 1071.7 L696.1 1065.2 L715.6 1054.1 L732.4 1041.6 L748 1051 L776.4 1065.2 L810.2 1070.8 L835.3 1069.5 L858.7 1059.8 L879.8 1042.2 L885.6 1018.5 L879.1 995 L861.7 983 L834.9 970.3 L805.8 965.3 L785.3 970.2 L763.1 981.2 L747.4 998.4 L729.2 1013.3 L702.6 1004 L674.8 1003.1 L643.9 1011 L617.8 1026.1Z" fill="none" stroke="#9d3cbd" stroke-width="1.3" stroke-linejoin="round" />
<path d="M603.4 1049.1 L618.8 1024.3 L645.1 1009.7 L674.3 1002.4 L703.5 1003.3 L726.8 1014.1 L721 1030.1 L703.5 1050.6 L680.1 1062.2 L650.9 1070.4 L627.6 1068.1Z" fill="none" stroke="#9d3cbd" stroke-width="1.3" stroke-linejoin="round" />
<path d="M617.8 1045 L630.2 1025.2 L651.2 1013.5 L674.6 1007.7 L697.9 1008.4 L716.6 1017 L711.9 1029.8 L697.9 1046.2 L679.3 1055.5 L655.9 1062.1 L637.2 1060.2Z" fill="none" stroke="#9d3cbd" stroke-width="1.3" stroke-linejoin="round" />
<path d="M632.3 1040.9 L641.6 1026 L657.4 1017.3 L674.9 1012.9 L692.4 1013.4 L706.4 1019.9 L702.9 1029.5 L692.4 1041.8 L678.4 1048.8 L660.9 1053.7 L646.9 1052.3Z" fill="none" stroke="#9d3cbd" stroke-width="1.3" stroke-linejoin="round" />
<path d="M646.8 1036.8 L653 1026.9 L663.5 1021.1 L675.2 1018.2 L686.8 1018.5 L696.2 1022.8 L693.8 1029.3 L686.8 1037.4 L677.5 1042.1 L665.8 1045.4 L656.5 1044.4Z" fill="none" stroke="#9d3cbd" stroke-width="1.3" stroke-linejoin="round" />
<path d="M661.3 1032.8 L664.4 1027.8 L669.6 1024.9 L675.5 1023.4 L681.3 1023.6 L686 1025.7 L684.8 1029 L681.3 1033 L676.6 1035.4 L670.8 1037 L666.1 1036.5Z" fill="none" stroke="#9d3cbd" stroke-width="1.3" stroke-linejoin="round" />
<path d="M726.8 1024.3 L744.3 1003.9 L761.8 983.4 L785.2 971.8 L805.6 965.9 L834.8 971.8 L861.1 983.4 L878.6 995.1 L884.4 1018.5 L878.6 1041.8 L858.2 1059.3 L834.8 1069.5 L811.5 1071 L776.4 1065.1 L747.3 1050.6Z" fill="none" stroke="#9d3cbd" stroke-width="1.3" stroke-linejoin="round" />
<path d="M735.6 1023.9 L751.3 1005.5 L767.1 987.1 L788.1 976.6 L806.5 971.3 L832.8 976.6 L856.4 987.1 L872.2 997.6 L877.4 1018.6 L872.2 1039.6 L853.8 1055.4 L832.8 1064.6 L811.7 1065.9 L780.2 1060.6 L754 1047.5Z" fill="none" stroke="#9d3cbd" stroke-width="1.3" stroke-linejoin="round" />
<path d="M744.3 1023.4 L758.3 1007.1 L772.3 990.7 L791 981.4 L807.4 976.7 L830.7 981.4 L851.7 990.7 L865.7 1000.1 L870.4 1018.7 L865.7 1037.4 L849.4 1051.4 L830.7 1059.6 L812 1060.8 L784 1056.1 L760.7 1044.4Z" fill="none" stroke="#9d3cbd" stroke-width="1.3" stroke-linejoin="round" />
<path d="M753.1 1023 L765.3 1008.7 L777.6 994.4 L793.9 986.2 L808.2 982.1 L828.7 986.2 L847.1 994.4 L859.3 1002.5 L863.4 1018.9 L859.3 1035.2 L845 1047.5 L828.7 1054.6 L812.3 1055.7 L787.8 1051.6 L767.4 1041.4Z" fill="none" stroke="#9d3cbd" stroke-width="1.3" stroke-linejoin="round" />
<path d="M761.8 1022.5 L772.3 1010.3 L782.9 998 L796.9 991 L809.1 987.5 L826.6 991 L842.4 998 L852.9 1005 L856.4 1019 L852.9 1033 L840.6 1043.6 L826.6 1049.7 L812.6 1050.6 L791.6 1047.1 L774.1 1038.3Z" fill="none" stroke="#9d3cbd" stroke-width="1.3" stroke-linejoin="round" />
<path d="M770.6 1022.1 L779.4 1011.9 L788.1 1001.7 L799.8 995.8 L810 992.9 L824.6 995.8 L837.7 1001.7 L846.5 1007.5 L849.4 1019.2 L846.5 1030.9 L836.3 1039.6 L824.6 1044.7 L812.9 1045.4 L795.4 1042.5 L780.8 1035.2Z" fill="none" stroke="#9d3cbd" stroke-width="1.3" stroke-linejoin="round" />
<path d="M779.4 1021.7 L786.4 1013.5 L793.4 1005.3 L802.7 1000.7 L810.9 998.3 L822.5 1000.7 L833.1 1005.3 L840.1 1010 L842.4 1019.3 L840.1 1028.7 L831.9 1035.7 L822.5 1039.8 L813.2 1040.3 L799.2 1038 L787.5 1032.2Z" fill="none" stroke="#9d3cbd" stroke-width="1.3" stroke-linejoin="round" />
<path d="M788.1 1021.2 L793.4 1015.1 L798.6 1009 L805.6 1005.5 L811.7 1003.7 L820.5 1005.5 L828.4 1009 L833.6 1012.5 L835.4 1019.5 L833.6 1026.5 L827.5 1031.7 L820.5 1034.8 L813.5 1035.2 L803 1033.5 L794.2 1029.1Z" fill="none" stroke="#9d3cbd" stroke-width="1.3" stroke-linejoin="round" />
<path d="M796.9 1020.8 L800.4 1016.7 L803.9 1012.6 L808.5 1010.3 L812.6 1009.1 L818.5 1010.3 L823.7 1012.6 L827.2 1015 L828.4 1019.6 L827.2 1024.3 L823.1 1027.8 L818.5 1029.8 L813.8 1030.1 L806.8 1029 L800.9 1026Z" fill="none" stroke="#9d3cbd" stroke-width="1.3" stroke-linejoin="round" />
<path d="M805.6 1020.4 L807.4 1018.3 L809.1 1016.3 L811.5 1015.1 L813.5 1014.5 L816.4 1015.1 L819 1016.3 L820.8 1017.4 L821.4 1019.8 L820.8 1022.1 L818.8 1023.9 L816.4 1024.9 L814.1 1025 L810.6 1024.4 L807.7 1023Z" fill="none" stroke="#9d3cbd" stroke-width="1.3" stroke-linejoin="round" />
<path d="M645.1 1024.3 L656.8 1009.7 L674.3 1003.9 L694.7 1009.7 L703.5 1024.3 L694.7 1041.8 L674.3 1050.6 L656.8 1044.7Z" fill="none" stroke="#3a9e9e" stroke-width="1.3" stroke-linejoin="round" />
<path d="M653 1026 L661.2 1015.8 L673.4 1011.7 L687.7 1015.8 L693.8 1026 L687.7 1038.3 L673.4 1044.4 L661.2 1040.3Z" fill="none" stroke="#3a9e9e" stroke-width="1.3" stroke-linejoin="round" />
<path d="M660.9 1027.8 L665.5 1022 L672.5 1019.6 L680.7 1022 L684.2 1027.8 L680.7 1034.8 L672.5 1038.3 L665.5 1036Z" fill="none" stroke="#3a9e9e" stroke-width="1.3" stroke-linejoin="round" />
<path d="M773.5 1027.2 L791 1018.5 L820.2 1006.8 L849.4 995.1 L878.6 992.2 L899 1000.9 L919.4 1024.3 L925.3 1030.1 L919.4 1050.6 L901.9 1068.1 L884.4 1076.8 L872.7 1081.2 L849.4 1073.9 L820.2 1068.1 L796.9 1053.5 L779.4 1041.8Z" fill="none" stroke="#3a9e9e" stroke-width="1.3" stroke-linejoin="round" />
<path d="M781.7 1027.2 L797.6 1019.2 L824.2 1008.6 L850.7 998 L877.3 995.3 L895.9 1003.3 L914.4 1024.6 L919.8 1029.9 L914.4 1048.5 L898.5 1064.4 L882.6 1072.4 L872 1076.3 L850.7 1069.7 L824.2 1064.4 L802.9 1051.1 L787 1040.5Z" fill="none" stroke="#3a9e9e" stroke-width="1.3" stroke-linejoin="round" />
<path d="M789.8 1027.2 L804.2 1020 L828.1 1010.5 L852 1000.9 L876 998.5 L892.7 1005.7 L909.5 1024.8 L914.2 1029.6 L909.5 1046.4 L895.1 1060.7 L880.7 1067.9 L871.2 1071.5 L852 1065.5 L828.1 1060.7 L808.9 1048.7 L794.6 1039.2Z" fill="none" stroke="#3a9e9e" stroke-width="1.3" stroke-linejoin="round" />
<path d="M797.9 1027.2 L810.7 1020.8 L832 1012.3 L853.3 1003.8 L874.6 1001.6 L889.6 1008 L904.5 1025.1 L908.7 1029.3 L904.5 1044.3 L891.7 1057 L878.9 1063.4 L870.4 1066.6 L853.3 1061.3 L832 1057 L815 1046.4 L802.2 1037.9Z" fill="none" stroke="#3a9e9e" stroke-width="1.3" stroke-linejoin="round" />
<path d="M806.1 1027.2 L817.3 1021.6 L836 1014.1 L854.6 1006.7 L873.3 1004.8 L886.4 1010.4 L899.5 1025.3 L903.2 1029.1 L899.5 1042.2 L888.3 1053.4 L877.1 1059 L869.6 1061.8 L854.6 1057.1 L836 1053.4 L821 1044 L809.8 1036.5Z" fill="none" stroke="#3a9e9e" stroke-width="1.3" stroke-linejoin="round" />
<path d="M814.2 1027.2 L823.9 1022.4 L839.9 1016 L856 1009.6 L872 1007.9 L883.2 1012.8 L894.5 1025.6 L897.7 1028.8 L894.5 1040 L884.9 1049.7 L875.2 1054.5 L868.8 1056.9 L856 1052.9 L839.9 1049.7 L827.1 1041.7 L817.4 1035.2Z" fill="none" stroke="#3a9e9e" stroke-width="1.3" stroke-linejoin="round" />
<path d="M822.4 1027.2 L830.4 1023.2 L843.9 1017.8 L857.3 1012.4 L870.7 1011.1 L880.1 1015.1 L889.5 1025.9 L892.2 1028.6 L889.5 1037.9 L881.4 1046 L873.4 1050 L868 1052 L857.3 1048.7 L843.9 1046 L833.1 1039.3 L825.1 1033.9Z" fill="none" stroke="#3a9e9e" stroke-width="1.3" stroke-linejoin="round" />
<path d="M830.5 1027.2 L837 1024 L847.8 1019.6 L858.6 1015.3 L869.4 1014.3 L876.9 1017.5 L884.5 1026.1 L886.7 1028.3 L884.5 1035.8 L878 1042.3 L871.5 1045.6 L867.2 1047.2 L858.6 1044.5 L847.8 1042.3 L839.2 1036.9 L832.7 1032.6Z" fill="none" stroke="#3a9e9e" stroke-width="1.3" stroke-linejoin="round" />
<path d="M838.7 1027.2 L843.6 1024.8 L851.7 1021.5 L859.9 1018.2 L868.1 1017.4 L873.8 1019.9 L879.5 1026.4 L881.1 1028 L879.5 1033.7 L874.6 1038.6 L869.7 1041.1 L866.4 1042.3 L859.9 1040.3 L851.7 1038.6 L845.2 1034.6 L840.3 1031.3Z" fill="none" stroke="#3a9e9e" stroke-width="1.3" stroke-linejoin="round" />
<path d="M846.8 1027.2 L850.1 1025.5 L855.7 1023.3 L861.2 1021.1 L866.8 1020.6 L870.6 1022.2 L874.5 1026.7 L875.6 1027.8 L874.5 1031.6 L871.2 1035 L867.9 1036.6 L865.7 1037.5 L861.2 1036.1 L855.7 1035 L851.2 1032.2 L847.9 1030Z" fill="none" stroke="#3a9e9e" stroke-width="1.3" stroke-linejoin="round" />
<path d="M854.9 1027.2 L856.7 1026.3 L859.6 1025.2 L862.5 1024 L865.4 1023.7 L867.5 1024.6 L869.5 1026.9 L870.1 1027.5 L869.5 1029.5 L867.8 1031.3 L866 1032.2 L864.9 1032.6 L862.5 1031.9 L859.6 1031.3 L857.3 1029.8 L855.5 1028.7Z" fill="none" stroke="#3a9e9e" stroke-width="1.3" stroke-linejoin="round" />
<circle cx="864" cy="1027.2" r="10.2" fill="#4a9aa8"/>
<ellipse cx="674.3" cy="1028.7" rx="15.2" ry="8.8" fill="#9d3cbd" transform="rotate(-15 674.3 1028.7)"/>
<circle cx="814.4" cy="1018.5" r="11.7" fill="#9d3cbd"/>
<path d="M662.6 1021.4 L648 974.7 L861.1 1024.3" fill="none" stroke="#3a9e9e" stroke-width="1.2"/>
<path d="M686 1021.4 L795.4 930.9 L815.8 1018.5" fill="none" stroke="#9d3cbd" stroke-width="1.2"/>
<text x="666.1" y="920.7" font-size="24" fill="#9a36bb" font-weight="bold" text-anchor="start" textLength="276.7" lengthAdjust="spacingAndGlyphs" >M202 (ACh+LY2119620)</text>
<text x="578" y="960.1" font-size="24" fill="#3aa0a0" font-weight="bold" text-anchor="start" textLength="135.7" lengthAdjust="spacingAndGlyphs" >M202 (ACh)</text>
<rect x="1069" y="17.2" width="389" height="267.8" fill="#fff" stroke="#000" stroke-width="1.6"/>
<line x1="1196.2" y1="17.2" x2="1196.2" y2="285" stroke="#000" stroke-width="1.8" stroke-dasharray="6.3 6.8"/>
<line x1="1274.7" y1="17.2" x2="1274.7" y2="285" stroke="#000" stroke-width="1.8" stroke-dasharray="6.3 6.8"/>
<line x1="1356.7" y1="17.2" x2="1356.7" y2="285" stroke="#000" stroke-width="1.8" stroke-dasharray="6.3 6.8"/>
<rect x="1069" y="291.1" width="389" height="267.9" fill="#fff" stroke="#000" stroke-width="1.6"/>
<line x1="1196.2" y1="291.1" x2="1196.2" y2="559" stroke="#000" stroke-width="1.8" stroke-dasharray="6.3 6.8"/>
<line x1="1274.7" y1="291.1" x2="1274.7" y2="559" stroke="#000" stroke-width="1.8" stroke-dasharray="6.3 6.8"/>
<line x1="1356.7" y1="291.1" x2="1356.7" y2="559" stroke="#000" stroke-width="1.8" stroke-dasharray="6.3 6.8"/>
<rect x="1069" y="563" width="389" height="268.8" fill="#fff" stroke="#000" stroke-width="1.6"/>
<line x1="1196.2" y1="563" x2="1196.2" y2="831.8" stroke="#000" stroke-width="1.8" stroke-dasharray="6.3 6.8"/>
<line x1="1274.7" y1="563" x2="1274.7" y2="831.8" stroke="#000" stroke-width="1.8" stroke-dasharray="6.3 6.8"/>
<line x1="1356.7" y1="563" x2="1356.7" y2="831.8" stroke="#000" stroke-width="1.8" stroke-dasharray="6.3 6.8"/>
<line x1="1085.1" y1="285" x2="1085.1" y2="288" stroke="#000" stroke-width="1.2"/>
<line x1="1145" y1="285" x2="1145" y2="288" stroke="#000" stroke-width="1.2"/>
<line x1="1204.9" y1="285" x2="1204.9" y2="288" stroke="#000" stroke-width="1.2"/>
<line x1="1264.8" y1="285" x2="1264.8" y2="288" stroke="#000" stroke-width="1.2"/>
<line x1="1324.7" y1="285" x2="1324.7" y2="288" stroke="#000" stroke-width="1.2"/>
<line x1="1384.6" y1="285" x2="1384.6" y2="288" stroke="#000" stroke-width="1.2"/>
<line x1="1444.5" y1="285" x2="1444.5" y2="288" stroke="#000" stroke-width="1.2"/>
<line x1="1085.1" y1="559" x2="1085.1" y2="562" stroke="#000" stroke-width="1.2"/>
<line x1="1145" y1="559" x2="1145" y2="562" stroke="#000" stroke-width="1.2"/>
<line x1="1204.9" y1="559" x2="1204.9" y2="562" stroke="#000" stroke-width="1.2"/>
<line x1="1264.8" y1="559" x2="1264.8" y2="562" stroke="#000" stroke-width="1.2"/>
<line x1="1324.7" y1="559" x2="1324.7" y2="562" stroke="#000" stroke-width="1.2"/>
<line x1="1384.6" y1="559" x2="1384.6" y2="562" stroke="#000" stroke-width="1.2"/>
<line x1="1444.5" y1="559" x2="1444.5" y2="562" stroke="#000" stroke-width="1.2"/>
<line x1="1085.1" y1="831.8" x2="1085.1" y2="834.8" stroke="#000" stroke-width="1.2"/>
<line x1="1145" y1="831.8" x2="1145" y2="834.8" stroke="#000" stroke-width="1.2"/>
<line x1="1204.9" y1="831.8" x2="1204.9" y2="834.8" stroke="#000" stroke-width="1.2"/>
<line x1="1264.8" y1="831.8" x2="1264.8" y2="834.8" stroke="#000" stroke-width="1.2"/>
<line x1="1324.7" y1="831.8" x2="1324.7" y2="834.8" stroke="#000" stroke-width="1.2"/>
<line x1="1384.6" y1="831.8" x2="1384.6" y2="834.8" stroke="#000" stroke-width="1.2"/>
<line x1="1444.5" y1="831.8" x2="1444.5" y2="834.8" stroke="#000" stroke-width="1.2"/>
<text x="1063" y="70.7" font-size="24" fill="#000" font-weight="bold" text-anchor="end" textLength="46" lengthAdjust="spacingAndGlyphs" >16.0</text>
<line x1="1066" y1="62.2" x2="1069" y2="62.2" stroke="#000" stroke-width="1.2"/>
<text x="1063" y="146" font-size="24" fill="#000" font-weight="bold" text-anchor="end" textLength="46" lengthAdjust="spacingAndGlyphs" >16.5</text>
<line x1="1066" y1="137.5" x2="1069" y2="137.5" stroke="#000" stroke-width="1.2"/>
<text x="1063" y="221.3" font-size="24" fill="#000" font-weight="bold" text-anchor="end" textLength="46" lengthAdjust="spacingAndGlyphs" >17.0</text>
<line x1="1066" y1="212.8" x2="1069" y2="212.8" stroke="#000" stroke-width="1.2"/>
<text x="1063" y="345.4" font-size="24" fill="#000" font-weight="bold" text-anchor="end" textLength="46" lengthAdjust="spacingAndGlyphs" >16.0</text>
<line x1="1066" y1="336.9" x2="1069" y2="336.9" stroke="#000" stroke-width="1.2"/>
<text x="1063" y="420.7" font-size="24" fill="#000" font-weight="bold" text-anchor="end" textLength="46" lengthAdjust="spacingAndGlyphs" >16.5</text>
<line x1="1066" y1="412.2" x2="1069" y2="412.2" stroke="#000" stroke-width="1.2"/>
<text x="1063" y="496" font-size="24" fill="#000" font-weight="bold" text-anchor="end" textLength="46" lengthAdjust="spacingAndGlyphs" >17.0</text>
<line x1="1066" y1="487.5" x2="1069" y2="487.5" stroke="#000" stroke-width="1.2"/>
<text x="1063" y="617.5" font-size="24" fill="#000" font-weight="bold" text-anchor="end" textLength="46" lengthAdjust="spacingAndGlyphs" >16.0</text>
<line x1="1066" y1="609" x2="1069" y2="609" stroke="#000" stroke-width="1.2"/>
<text x="1063" y="692.8" font-size="24" fill="#000" font-weight="bold" text-anchor="end" textLength="46" lengthAdjust="spacingAndGlyphs" >16.5</text>
<line x1="1066" y1="684.3" x2="1069" y2="684.3" stroke="#000" stroke-width="1.2"/>
<text x="1063" y="768.1" font-size="24" fill="#000" font-weight="bold" text-anchor="end" textLength="46" lengthAdjust="spacingAndGlyphs" >17.0</text>
<line x1="1066" y1="759.6" x2="1069" y2="759.6" stroke="#000" stroke-width="1.2"/>
<text x="1145" y="855" font-size="24" fill="#000" font-weight="bold" text-anchor="middle" textLength="45" lengthAdjust="spacingAndGlyphs" >1.65</text>
<text x="1204.9" y="855" font-size="24" fill="#000" font-weight="bold" text-anchor="middle" textLength="45" lengthAdjust="spacingAndGlyphs" >1.60</text>
<text x="1264.8" y="855" font-size="24" fill="#000" font-weight="bold" text-anchor="middle" textLength="45" lengthAdjust="spacingAndGlyphs" >1.55</text>
<text x="1324.7" y="855" font-size="24" fill="#000" font-weight="bold" text-anchor="middle" textLength="45" lengthAdjust="spacingAndGlyphs" >1.50</text>
<text x="1384.6" y="855" font-size="24" fill="#000" font-weight="bold" text-anchor="middle" textLength="45" lengthAdjust="spacingAndGlyphs" >1.45</text>
<text x="1250.5" y="891" font-size="32" font-weight="bold" text-anchor="middle" fill="#000"><tspan font-size="19" dy="-9">1</tspan><tspan dy="9">H (ppm)</tspan></text>
<text transform="translate(1005 281) rotate(-90)" font-size="32" font-weight="bold" text-anchor="middle" fill="#000" style="white-space:pre"><tspan font-size="20" dy="-11">13</tspan><tspan dy="11">C  (ppm)</tspan></text>
<path d="M1070.5 18.5 L1296 18.5 L1296 52 L1278 66 L1070.5 66 Z" fill="#fff"/>
<text x="1082.9" y="51.5" font-size="33" fill="#000" font-weight="normal" text-anchor="start" textLength="128.5" lengthAdjust="spacingAndGlyphs" stroke="#000" stroke-width="0.55">M2Rmini</text>
<text x="1215.3" y="53" font-size="23" font-family="DejaVu Sans" fill="#000" textLength="17.4" lengthAdjust="spacingAndGlyphs" transform="translate(0 51.5) scale(1 0.97) translate(0 -51.5)">△</text>
<text x="1235" y="51.5" font-size="33" fill="#000" font-weight="normal" text-anchor="start" textLength="46.5" lengthAdjust="spacingAndGlyphs" stroke="#000" stroke-width="0.55">5M</text>
<path d="M1124 216.9 L1139.8 198.4 L1155.7 182.5 L1176.9 171.9 L1198 164 L1229.8 156 L1240.3 158.7 L1253.6 174.6 L1266.8 195.7 L1276.1 215.6 L1266.8 230.1 L1245.6 240.7 L1224.5 248.6 L1198 256.5 L1176.9 252.6 L1155.7 238 L1139.8 227.5Z" fill="none" stroke="#555555" stroke-width="1.5" stroke-linejoin="round" />
<path d="M1132.6 216.5 L1146.5 200.4 L1160.4 186.5 L1178.9 177.2 L1197.4 170.3 L1225.1 163.4 L1234.4 165.7 L1245.9 179.5 L1257.5 198 L1265.6 215.4 L1257.5 228.1 L1239 237.4 L1220.5 244.3 L1197.4 251.2 L1178.9 247.8 L1160.4 235 L1146.5 225.8Z" fill="none" stroke="#555555" stroke-width="1.5" stroke-linejoin="round" />
<path d="M1141.3 216.2 L1153.1 202.4 L1165 190.5 L1180.9 182.6 L1196.7 176.6 L1220.5 170.7 L1228.4 172.7 L1238.3 184.5 L1248.2 200.4 L1255.1 215.2 L1248.2 226.1 L1232.3 234 L1216.5 240 L1196.7 245.9 L1180.9 242.9 L1165 232 L1153.1 224.1Z" fill="none" stroke="#555555" stroke-width="1.5" stroke-linejoin="round" />
<path d="M1149.9 215.9 L1159.8 204.3 L1169.7 194.5 L1182.9 187.9 L1196 182.9 L1215.8 178 L1222.4 179.6 L1230.6 189.5 L1238.9 202.7 L1244.6 215.1 L1238.9 224.1 L1225.7 230.7 L1212.5 235.6 L1196 240.6 L1182.9 238.1 L1169.7 229.1 L1159.8 222.5Z" fill="none" stroke="#555555" stroke-width="1.5" stroke-linejoin="round" />
<path d="M1158.6 215.5 L1166.4 206.3 L1174.3 198.5 L1184.9 193.2 L1195.4 189.2 L1211.2 185.3 L1216.4 186.6 L1223 194.5 L1229.6 205 L1234.2 214.9 L1229.6 222.1 L1219 227.4 L1208.5 231.3 L1195.4 235.3 L1184.9 233.3 L1174.3 226.1 L1166.4 220.8Z" fill="none" stroke="#555555" stroke-width="1.5" stroke-linejoin="round" />
<path d="M1167.2 215.2 L1173.1 208.3 L1179 202.4 L1186.8 198.5 L1194.7 195.6 L1206.5 192.6 L1210.4 193.6 L1215.3 199.5 L1220.2 207.4 L1223.7 214.7 L1220.2 220.1 L1212.4 224.1 L1204.5 227 L1194.7 229.9 L1186.8 228.5 L1179 223.1 L1173.1 219.1Z" fill="none" stroke="#555555" stroke-width="1.5" stroke-linejoin="round" />
<path d="M1175.8 214.9 L1179.7 210.3 L1183.6 206.4 L1188.8 203.8 L1194 201.9 L1201.8 199.9 L1204.4 200.6 L1207.7 204.5 L1210.9 209.7 L1213.2 214.6 L1210.9 218.1 L1205.7 220.7 L1200.5 222.7 L1194 224.6 L1188.8 223.7 L1183.6 220.1 L1179.7 217.5Z" fill="none" stroke="#555555" stroke-width="1.5" stroke-linejoin="round" />
<path d="M1184.5 214.5 L1186.4 212.3 L1188.3 210.4 L1190.8 209.2 L1193.4 208.2 L1197.2 207.2 L1198.5 207.6 L1200 209.5 L1201.6 212 L1202.7 214.4 L1201.6 216.1 L1199.1 217.4 L1196.6 218.4 L1193.4 219.3 L1190.8 218.8 L1188.3 217.1 L1186.4 215.8Z" fill="none" stroke="#555555" stroke-width="1.5" stroke-linejoin="round" />
<path d="M1231.1 119 L1240.3 103.1 L1258.9 84.6 L1277.4 66.1 L1298.5 47.6 L1325 34.4 L1356.7 26.4 L1383.2 31.7 L1404.3 45 L1430.8 50.3 L1446.6 60.8 L1453.3 84.6 L1451.9 108.4 L1438.7 127 L1417.6 137.5 L1393.7 158.7 L1372.6 169.3 L1356.7 174.6 L1330.3 171.9 L1303.8 169.3 L1277.4 158.7 L1250.9 150.8 L1232.4 142.8Z" fill="none" stroke="#3f6fc0" stroke-width="1.3" stroke-linejoin="round" />
<path d="M1241.3 118.8 L1249.8 104.2 L1266.8 87.2 L1283.8 70.2 L1303.2 53.2 L1327.5 41.1 L1356.6 33.8 L1380.9 38.7 L1400.3 50.8 L1424.6 55.7 L1439.2 65.4 L1445.2 87.2 L1444 109.1 L1431.9 126.1 L1412.5 135.8 L1390.6 155.2 L1371.2 164.9 L1356.6 169.8 L1332.3 167.4 L1308 164.9 L1283.8 155.2 L1259.5 147.9 L1242.5 140.7Z" fill="none" stroke="#3f6fc0" stroke-width="1.3" stroke-linejoin="round" />
<path d="M1251.4 118.6 L1259.2 105.3 L1274.7 89.8 L1290.1 74.3 L1307.8 58.9 L1330 47.8 L1356.5 41.2 L1378.6 45.6 L1396.3 56.6 L1418.4 61.1 L1431.7 69.9 L1437.2 89.8 L1436.1 109.7 L1425.1 125.2 L1407.4 134.1 L1387.5 151.8 L1369.8 160.6 L1356.5 165 L1334.4 162.8 L1312.3 160.6 L1290.1 151.8 L1268 145.1 L1252.5 138.5Z" fill="none" stroke="#3f6fc0" stroke-width="1.3" stroke-linejoin="round" />
<path d="M1261.6 118.4 L1268.6 106.4 L1282.6 92.4 L1296.5 78.5 L1312.5 64.5 L1332.4 54.5 L1356.4 48.5 L1376.4 52.5 L1392.3 62.5 L1412.3 66.5 L1424.2 74.5 L1429.2 92.4 L1428.2 110.4 L1418.3 124.4 L1402.3 132.3 L1384.3 148.3 L1368.4 156.3 L1356.4 160.3 L1336.4 158.3 L1316.5 156.3 L1296.5 148.3 L1276.6 142.3 L1262.6 136.3Z" fill="none" stroke="#3f6fc0" stroke-width="1.3" stroke-linejoin="round" />
<path d="M1271.8 118.2 L1278 107.5 L1290.5 95 L1302.9 82.6 L1317.1 70.1 L1334.9 61.2 L1356.3 55.9 L1374.1 59.4 L1388.3 68.3 L1406.1 71.9 L1416.8 79 L1421.2 95 L1420.3 111 L1411.4 123.5 L1397.2 130.6 L1381.2 144.8 L1367 152 L1356.3 155.5 L1338.5 153.7 L1320.7 152 L1302.9 144.8 L1285.1 139.5 L1272.7 134.2Z" fill="none" stroke="#3f6fc0" stroke-width="1.3" stroke-linejoin="round" />
<path d="M1281.9 117.9 L1287.4 108.6 L1298.4 97.6 L1309.3 86.7 L1321.8 75.7 L1337.4 67.9 L1356.2 63.2 L1371.8 66.4 L1384.3 74.2 L1399.9 77.3 L1409.3 83.6 L1413.2 97.6 L1412.4 111.7 L1404.6 122.6 L1392.1 128.9 L1378.1 141.4 L1365.6 147.6 L1356.2 150.8 L1340.6 149.2 L1324.9 147.6 L1309.3 141.4 L1293.7 136.7 L1282.7 132Z" fill="none" stroke="#3f6fc0" stroke-width="1.3" stroke-linejoin="round" />
<path d="M1292.1 117.7 L1296.8 109.6 L1306.3 100.2 L1315.7 90.8 L1326.4 81.4 L1339.9 74.6 L1356.1 70.6 L1369.5 73.3 L1380.3 80 L1393.8 82.7 L1401.9 88.1 L1405.2 100.2 L1404.5 112.3 L1397.8 121.8 L1387 127.1 L1374.9 137.9 L1364.1 143.3 L1356.1 146 L1342.6 144.6 L1329.1 143.3 L1315.7 137.9 L1302.2 133.9 L1292.8 129.8Z" fill="none" stroke="#3f6fc0" stroke-width="1.3" stroke-linejoin="round" />
<path d="M1302.3 117.5 L1306.2 110.7 L1314.2 102.8 L1322.1 94.9 L1331.1 87 L1342.4 81.3 L1356 77.9 L1367.3 80.2 L1376.3 85.9 L1387.6 88.1 L1394.4 92.6 L1397.2 102.8 L1396.6 113 L1391 120.9 L1382 125.4 L1371.8 134.5 L1362.7 139 L1356 141.2 L1344.7 140.1 L1333.4 139 L1322.1 134.5 L1310.8 131.1 L1302.9 127.7Z" fill="none" stroke="#3f6fc0" stroke-width="1.3" stroke-linejoin="round" />
<path d="M1312.5 117.3 L1315.7 111.8 L1322 105.4 L1328.4 99 L1335.8 92.6 L1344.9 88 L1355.9 85.3 L1365 87.1 L1372.3 91.7 L1381.4 93.5 L1386.9 97.2 L1389.2 105.4 L1388.7 113.6 L1384.2 120 L1376.9 123.7 L1368.6 131 L1361.3 134.6 L1355.9 136.5 L1346.7 135.6 L1337.6 134.6 L1328.4 131 L1319.3 128.2 L1312.9 125.5Z" fill="none" stroke="#3f6fc0" stroke-width="1.3" stroke-linejoin="round" />
<path d="M1322.6 117.1 L1325.1 112.9 L1329.9 108 L1334.8 103.1 L1340.4 98.2 L1347.4 94.8 L1355.7 92.7 L1362.7 94.1 L1368.3 97.5 L1375.3 98.9 L1379.5 101.7 L1381.2 108 L1380.8 114.3 L1377.4 119.2 L1371.8 121.9 L1365.5 127.5 L1359.9 130.3 L1355.7 131.7 L1348.8 131 L1341.8 130.3 L1334.8 127.5 L1327.9 125.4 L1323 123.3Z" fill="none" stroke="#3f6fc0" stroke-width="1.3" stroke-linejoin="round" />
<path d="M1332.8 116.9 L1334.5 114 L1337.8 110.6 L1341.2 107.2 L1345.1 103.9 L1349.9 101.5 L1355.6 100 L1360.4 101 L1364.3 103.4 L1369.1 104.3 L1372 106.3 L1373.2 110.6 L1372.9 114.9 L1370.5 118.3 L1366.7 120.2 L1362.4 124.1 L1358.5 126 L1355.6 127 L1350.8 126.5 L1346 126 L1341.2 124.1 L1336.4 122.6 L1333 121.2Z" fill="none" stroke="#3f6fc0" stroke-width="1.3" stroke-linejoin="round" />
<path d="M1343 116.6 L1343.9 115 L1345.7 113.2 L1347.6 111.3 L1349.7 109.5 L1352.4 108.2 L1355.5 107.4 L1358.2 107.9 L1360.3 109.2 L1362.9 109.8 L1364.5 110.8 L1365.2 113.2 L1365.1 115.6 L1363.7 117.4 L1361.6 118.5 L1359.2 120.6 L1357.1 121.7 L1355.5 122.2 L1352.9 121.9 L1350.2 121.7 L1347.6 120.6 L1345 119.8 L1343.1 119Z" fill="none" stroke="#3f6fc0" stroke-width="1.3" stroke-linejoin="round" />
<circle cx="1197.5" cy="211.6" r="10.6" fill="none" stroke="#000" stroke-width="3"/>
<circle cx="1354.9" cy="115" r="11.1" fill="#3f6fc0"/>
<path d="M1122.7 152.1 L1195.4 214.2" fill="none" stroke="#555555" stroke-width="1.2"/>
<path d="M1356.7 124.3 L1385.8 195.7" fill="none" stroke="#3f6fc0" stroke-width="1.2"/>
<text x="1076.4" y="132.2" font-size="24" fill="#5b5555" font-weight="bold" text-anchor="start" textLength="125.6" lengthAdjust="spacingAndGlyphs" >M202(Apo)</text>
<text x="1301.2" y="227.5" font-size="24" fill="#4070c0" font-weight="bold" text-anchor="start" textLength="119" lengthAdjust="spacingAndGlyphs" >M202 (Ixo)</text>
<path d="M1122.7 491.6 L1139.8 473.1 L1158.4 459.8 L1184.8 449.3 L1211.3 438.7 L1232.4 430.8 L1250.9 438.7 L1264.2 459.8 L1274.7 481 L1276.1 491.6 L1264.2 507.5 L1240.3 515.4 L1219.2 523.3 L1198 528.6 L1176.9 526 L1155.7 512.7 L1139.8 502.2Z" fill="none" stroke="#555555" stroke-width="1.5" stroke-linejoin="round" />
<path d="M1131.5 491.6 L1146.5 475.4 L1162.7 463.8 L1185.8 454.6 L1208.9 445.3 L1227.4 438.4 L1243.6 445.3 L1255.2 463.8 L1264.4 482.3 L1265.6 491.6 L1255.2 505.5 L1234.4 512.4 L1215.9 519.3 L1197.4 524 L1178.9 521.6 L1160.4 510.1 L1146.5 500.8Z" fill="none" stroke="#555555" stroke-width="1.5" stroke-linejoin="round" />
<path d="M1140.3 491.6 L1153.1 477.7 L1167 467.8 L1186.8 459.9 L1206.6 452 L1222.4 446 L1236.3 452 L1246.2 467.8 L1254.1 483.7 L1255.1 491.6 L1246.2 503.5 L1228.4 509.4 L1212.5 515.3 L1196.7 519.3 L1180.9 517.3 L1165 507.4 L1153.1 499.5Z" fill="none" stroke="#555555" stroke-width="1.5" stroke-linejoin="round" />
<path d="M1149.1 491.6 L1159.8 480.1 L1171.3 471.8 L1187.8 465.2 L1204.3 458.6 L1217.5 453.7 L1229 458.6 L1237.2 471.8 L1243.8 485 L1244.6 491.6 L1237.2 501.5 L1222.4 506.4 L1209.2 511.4 L1196 514.6 L1182.9 513 L1169.7 504.8 L1159.8 498.2Z" fill="none" stroke="#555555" stroke-width="1.5" stroke-linejoin="round" />
<path d="M1157.9 491.6 L1166.4 482.4 L1175.6 475.8 L1188.8 470.5 L1201.9 465.3 L1212.5 461.3 L1221.7 465.3 L1228.2 475.8 L1233.5 486.3 L1234.2 491.6 L1228.2 499.5 L1216.4 503.4 L1205.9 507.4 L1195.4 510 L1184.9 508.7 L1174.3 502.1 L1166.4 496.8Z" fill="none" stroke="#555555" stroke-width="1.5" stroke-linejoin="round" />
<path d="M1166.7 491.6 L1173.1 484.7 L1180 479.8 L1189.8 475.9 L1199.6 471.9 L1207.5 469 L1214.4 471.9 L1219.3 479.8 L1223.2 487.7 L1223.7 491.6 L1219.3 497.5 L1210.4 500.4 L1202.6 503.4 L1194.7 505.3 L1186.8 504.4 L1179 499.4 L1173.1 495.5Z" fill="none" stroke="#555555" stroke-width="1.5" stroke-linejoin="round" />
<path d="M1175.5 491.6 L1179.7 487 L1184.3 483.8 L1190.8 481.2 L1197.3 478.6 L1202.5 476.6 L1207 478.6 L1210.3 483.8 L1212.9 489 L1213.2 491.6 L1210.3 495.5 L1204.4 497.4 L1199.2 499.4 L1194 500.7 L1188.8 500 L1183.6 496.8 L1179.7 494.2Z" fill="none" stroke="#555555" stroke-width="1.5" stroke-linejoin="round" />
<path d="M1184.3 491.6 L1186.4 489.4 L1188.6 487.8 L1191.8 486.5 L1195 485.2 L1197.5 484.3 L1199.7 485.2 L1201.3 487.8 L1202.6 490.3 L1202.7 491.6 L1201.3 493.5 L1198.5 494.4 L1195.9 495.4 L1193.4 496 L1190.8 495.7 L1188.3 494.1 L1186.4 492.9Z" fill="none" stroke="#555555" stroke-width="1.5" stroke-linejoin="round" />
<path d="M1198 396.4 L1211.3 380.5 L1237.7 362 L1264.2 354.1 L1285.3 355.4 L1311.8 364.6 L1335.6 377.9 L1351.4 396.4 L1354.1 417.5 L1335.6 425.5 L1314.4 438.7 L1290.6 454.6 L1264.2 462.5 L1237.7 465.1 L1224.5 454.6 L1213.9 438.7 L1206 420.2Z" fill="none" stroke="#88a84c" stroke-width="1.3" stroke-linejoin="round" />
<path d="M1204 397.2 L1216.1 382.7 L1240.4 365.7 L1264.7 358.4 L1284.1 359.6 L1308.4 368.1 L1330.3 380.2 L1344.8 397.2 L1347.3 416.7 L1330.3 423.9 L1310.8 436.1 L1289 450.7 L1264.7 457.9 L1240.4 460.4 L1228.3 450.7 L1218.6 436.1 L1211.3 419.1Z" fill="none" stroke="#88a84c" stroke-width="1.3" stroke-linejoin="round" />
<path d="M1209.9 398.1 L1221 384.8 L1243.1 369.3 L1265.2 362.7 L1282.9 363.8 L1305.1 371.6 L1325 382.6 L1338.2 398.1 L1340.4 415.8 L1325 422.4 L1307.3 433.5 L1287.4 446.8 L1265.2 453.4 L1243.1 455.6 L1232.1 446.8 L1223.2 433.5 L1216.6 418Z" fill="none" stroke="#88a84c" stroke-width="1.3" stroke-linejoin="round" />
<path d="M1215.9 399 L1225.9 387 L1245.8 373 L1265.8 367 L1281.7 368 L1301.7 375 L1319.7 385 L1331.6 399 L1333.6 414.9 L1319.7 420.9 L1303.7 430.9 L1285.7 442.9 L1265.8 448.9 L1245.8 450.9 L1235.8 442.9 L1227.9 430.9 L1221.9 416.9Z" fill="none" stroke="#88a84c" stroke-width="1.3" stroke-linejoin="round" />
<path d="M1221.8 399.8 L1230.7 389.2 L1248.5 376.7 L1266.3 371.4 L1280.6 372.3 L1298.3 378.5 L1314.4 387.4 L1325 399.8 L1326.8 414.1 L1314.4 419.4 L1300.1 428.3 L1284.1 439 L1266.3 444.3 L1248.5 446.1 L1239.6 439 L1232.5 428.3 L1227.2 415.8Z" fill="none" stroke="#88a84c" stroke-width="1.3" stroke-linejoin="round" />
<path d="M1227.8 400.7 L1235.6 391.3 L1251.2 380.4 L1266.9 375.7 L1279.4 376.5 L1295 381.9 L1309.1 389.8 L1318.4 400.7 L1320 413.2 L1309.1 417.9 L1296.6 425.7 L1282.5 435.1 L1266.9 439.8 L1251.2 441.3 L1243.4 435.1 L1237.2 425.7 L1232.5 414.8Z" fill="none" stroke="#88a84c" stroke-width="1.3" stroke-linejoin="round" />
<path d="M1233.7 401.6 L1240.5 393.5 L1253.9 384.1 L1267.4 380 L1278.2 380.7 L1291.6 385.4 L1303.8 392.1 L1311.8 401.6 L1313.2 412.3 L1303.8 416.4 L1293 423.1 L1280.9 431.2 L1267.4 435.2 L1253.9 436.6 L1247.2 431.2 L1241.8 423.1 L1237.8 413.7Z" fill="none" stroke="#88a84c" stroke-width="1.3" stroke-linejoin="round" />
<path d="M1239.7 402.4 L1245.3 395.7 L1256.6 387.7 L1267.9 384.3 L1277 384.9 L1288.3 388.9 L1298.5 394.5 L1305.2 402.4 L1306.4 411.5 L1298.5 414.9 L1289.4 420.5 L1279.2 427.3 L1267.9 430.7 L1256.6 431.8 L1251 427.3 L1246.5 420.5 L1243.1 412.6Z" fill="none" stroke="#88a84c" stroke-width="1.3" stroke-linejoin="round" />
<path d="M1245.6 403.3 L1250.2 397.8 L1259.3 391.4 L1268.5 388.7 L1275.8 389.1 L1284.9 392.3 L1293.1 396.9 L1298.6 403.3 L1299.5 410.6 L1293.1 413.3 L1285.8 417.9 L1277.6 423.4 L1268.5 426.1 L1259.3 427.1 L1254.8 423.4 L1251.1 417.9 L1248.4 411.5Z" fill="none" stroke="#88a84c" stroke-width="1.3" stroke-linejoin="round" />
<path d="M1251.6 404.2 L1255.1 400 L1262 395.1 L1269 393 L1274.6 393.4 L1281.6 395.8 L1287.8 399.3 L1292 404.2 L1292.7 409.7 L1287.8 411.8 L1282.3 415.3 L1276 419.5 L1269 421.6 L1262 422.3 L1258.6 419.5 L1255.8 415.3 L1253.7 410.4Z" fill="none" stroke="#88a84c" stroke-width="1.3" stroke-linejoin="round" />
<path d="M1257.5 405 L1259.9 402.1 L1264.8 398.8 L1269.6 397.3 L1273.4 397.6 L1278.2 399.3 L1282.5 401.7 L1285.4 405 L1285.9 408.9 L1282.5 410.3 L1278.7 412.7 L1274.4 415.6 L1269.6 417 L1264.8 417.5 L1262.3 415.6 L1260.4 412.7 L1259 409.4Z" fill="none" stroke="#88a84c" stroke-width="1.3" stroke-linejoin="round" />
<path d="M1263.5 405.9 L1264.8 404.3 L1267.5 402.5 L1270.1 401.7 L1272.2 401.8 L1274.9 402.7 L1277.2 404 L1278.8 405.9 L1279.1 408 L1277.2 408.8 L1275.1 410.1 L1272.7 411.7 L1270.1 412.5 L1267.5 412.8 L1266.1 411.7 L1265.1 410.1 L1264.3 408.3Z" fill="none" stroke="#88a84c" stroke-width="1.3" stroke-linejoin="round" />
<path d="M1150.4 499.5 L1161 481 L1184.8 473.1 L1213.9 473.1 L1229.8 481 L1227.1 504.8 L1216.5 518 L1192.7 523.3 L1171.6 531.3 L1163.6 533.9 L1155.7 518Z" fill="none" stroke="#88a84c" stroke-width="1.3" stroke-linejoin="round" />
<path d="M1164.2 496.9 L1171.3 484.4 L1187.4 479.1 L1207 479.1 L1217.7 484.4 L1216 500.5 L1208.8 509.4 L1192.7 513 L1178.5 518.4 L1173.1 520.1 L1167.7 509.4Z" fill="none" stroke="#88a84c" stroke-width="1.3" stroke-linejoin="round" />
<path d="M1177.9 494.4 L1181.6 487.9 L1190 485.1 L1200.1 485.1 L1205.7 487.9 L1204.8 496.2 L1201.1 500.8 L1192.7 502.7 L1185.3 505.5 L1182.6 506.4 L1179.8 500.8Z" fill="none" stroke="#88a84c" stroke-width="1.3" stroke-linejoin="round" />
<circle cx="1196.7" cy="486.3" r="10.6" fill="none" stroke="#000" stroke-width="3"/>
<circle cx="1270.8" cy="407" r="11.1" fill="#7a9638"/>
<circle cx="1192.7" cy="493.7" r="8.5" fill="#7a9638"/>
<path d="M1265.5 393.7 L1179.5 352.7 L1188.8 477" fill="none" stroke="#55bb22" stroke-width="1.3"/>
<path d="M1206 494.2 L1274.7 522" fill="none" stroke="#555555" stroke-width="1.2"/>
<text x="1088.8" y="330.3" font-size="24" fill="#8cab57" font-weight="bold" text-anchor="start" textLength="260" lengthAdjust="spacingAndGlyphs" >M202 (Ixo+LY2119620)</text>
<text x="1280" y="540.5" font-size="24" fill="#5b5555" font-weight="bold" text-anchor="start" textLength="125.6" lengthAdjust="spacingAndGlyphs" >M202(Apo)</text>
<path d="M1232.1 689.1 L1247.2 664.9 L1265.3 628.6 L1292.6 601.4 L1322.8 583.3 L1353 574.2 L1377.2 577.2 L1395.3 589.3 L1407.4 601.4 L1437.7 607.4 L1449.8 622.6 L1452.8 643.7 L1449.8 664.9 L1425.6 677 L1404.4 689.1 L1383.3 707.2 L1359.1 719.3 L1322.8 719.3 L1292.6 713.3 L1262.3 704.2 L1241.2 698.1Z" fill="none" stroke="#3f6fc0" stroke-width="1.3" stroke-linejoin="round" />
<path d="M1242.1 686.8 L1256 664.6 L1272.6 631.3 L1297.6 606.3 L1325.4 589.7 L1353.1 581.4 L1375.4 584.1 L1392 595.2 L1403.1 606.3 L1430.9 611.9 L1442 625.8 L1444.8 645.2 L1442 664.6 L1419.8 675.7 L1400.3 686.8 L1380.9 703.5 L1358.7 714.6 L1325.4 714.6 L1297.6 709.1 L1269.9 700.7 L1250.4 695.2Z" fill="none" stroke="#3f6fc0" stroke-width="1.3" stroke-linejoin="round" />
<path d="M1252.1 684.6 L1264.8 664.4 L1279.9 634 L1302.7 611.3 L1328 596.1 L1353.3 588.5 L1373.5 591.1 L1388.7 601.2 L1398.8 611.3 L1424.1 616.3 L1434.2 629 L1436.7 646.7 L1434.2 664.4 L1414 674.5 L1396.3 684.6 L1378.6 699.8 L1358.3 709.9 L1328 709.9 L1302.7 704.8 L1277.4 697.3 L1259.7 692.2Z" fill="none" stroke="#3f6fc0" stroke-width="1.3" stroke-linejoin="round" />
<path d="M1262.1 682.4 L1273.6 664.1 L1287.2 636.8 L1307.8 616.2 L1330.6 602.5 L1353.4 595.7 L1371.6 598 L1385.3 607.1 L1394.5 616.2 L1417.3 620.8 L1426.4 632.2 L1428.7 648.2 L1426.4 664.1 L1408.1 673.3 L1392.2 682.4 L1376.2 696.1 L1358 705.2 L1330.6 705.2 L1307.8 700.6 L1285 693.8 L1269 689.2Z" fill="none" stroke="#3f6fc0" stroke-width="1.3" stroke-linejoin="round" />
<path d="M1272.2 680.2 L1282.3 663.9 L1294.5 639.5 L1312.8 621.2 L1333.2 609 L1353.5 602.9 L1369.8 604.9 L1382 613 L1390.1 621.2 L1410.5 625.3 L1418.6 635.4 L1420.6 649.7 L1418.6 663.9 L1402.3 672 L1388.1 680.2 L1373.9 692.4 L1357.6 700.5 L1333.2 700.5 L1312.8 696.4 L1292.5 690.3 L1278.3 686.3Z" fill="none" stroke="#3f6fc0" stroke-width="1.3" stroke-linejoin="round" />
<path d="M1282.2 677.9 L1291.1 663.6 L1301.8 642.2 L1317.9 626.1 L1335.8 615.4 L1353.6 610.1 L1367.9 611.8 L1378.7 619 L1385.8 626.1 L1403.7 629.7 L1410.8 638.6 L1412.6 651.1 L1410.8 663.6 L1396.5 670.8 L1384 677.9 L1371.5 688.7 L1357.2 695.8 L1335.8 695.8 L1317.9 692.2 L1300 686.9 L1287.5 683.3Z" fill="none" stroke="#3f6fc0" stroke-width="1.3" stroke-linejoin="round" />
<path d="M1292.2 675.7 L1299.9 663.4 L1309.1 644.9 L1323 631.1 L1338.4 621.8 L1353.8 617.2 L1366.1 618.8 L1375.3 624.9 L1381.5 631.1 L1396.9 634.2 L1403 641.9 L1404.6 652.6 L1403 663.4 L1390.7 669.6 L1379.9 675.7 L1369.2 684.9 L1356.8 691.1 L1338.4 691.1 L1323 688 L1307.6 683.4 L1296.8 680.3Z" fill="none" stroke="#3f6fc0" stroke-width="1.3" stroke-linejoin="round" />
<path d="M1302.2 673.5 L1308.7 663.2 L1316.4 647.7 L1328.1 636 L1341 628.3 L1353.9 624.4 L1364.2 625.7 L1372 630.9 L1377.1 636 L1390.1 638.6 L1395.2 645.1 L1396.5 654.1 L1395.2 663.2 L1384.9 668.3 L1375.8 673.5 L1366.8 681.2 L1356.5 686.4 L1341 686.4 L1328.1 683.8 L1315.1 679.9 L1306.1 677.4Z" fill="none" stroke="#3f6fc0" stroke-width="1.3" stroke-linejoin="round" />
<path d="M1312.2 671.3 L1317.5 662.9 L1323.7 650.4 L1333.1 641 L1343.6 634.7 L1354 631.6 L1362.4 632.6 L1368.6 636.8 L1372.8 641 L1383.3 643.1 L1387.4 648.3 L1388.5 655.6 L1387.4 662.9 L1379.1 667.1 L1371.8 671.3 L1364.5 677.5 L1356.1 681.7 L1343.6 681.7 L1333.1 679.6 L1322.7 676.5 L1315.4 674.4Z" fill="none" stroke="#3f6fc0" stroke-width="1.3" stroke-linejoin="round" />
<path d="M1322.3 669 L1326.2 662.7 L1331 653.1 L1338.2 645.9 L1346.2 641.1 L1354.1 638.7 L1360.5 639.5 L1365.3 642.7 L1368.5 645.9 L1376.5 647.5 L1379.6 651.5 L1380.4 657.1 L1379.6 662.7 L1373.3 665.8 L1367.7 669 L1362.1 673.8 L1355.7 677 L1346.2 677 L1338.2 675.4 L1330.2 673 L1324.6 671.4Z" fill="none" stroke="#3f6fc0" stroke-width="1.3" stroke-linejoin="round" />
<path d="M1332.3 666.8 L1335 662.4 L1338.3 655.8 L1343.3 650.9 L1348.8 647.6 L1354.3 645.9 L1358.7 646.5 L1362 648.7 L1364.2 650.9 L1369.7 652 L1371.8 654.7 L1372.4 658.6 L1371.8 662.4 L1367.5 664.6 L1363.6 666.8 L1359.8 670.1 L1355.4 672.3 L1348.8 672.3 L1343.3 671.2 L1337.8 669.6 L1333.9 668.5Z" fill="none" stroke="#3f6fc0" stroke-width="1.3" stroke-linejoin="round" />
<path d="M1342.3 664.6 L1343.8 662.2 L1345.6 658.5 L1348.3 655.8 L1351.4 654 L1354.4 653.1 L1356.8 653.4 L1358.6 654.6 L1359.8 655.8 L1362.8 656.4 L1364.1 657.9 L1364.4 660 L1364.1 662.2 L1361.6 663.4 L1359.5 664.6 L1357.4 666.4 L1355 667.6 L1351.4 667.6 L1348.3 667 L1345.3 666.1 L1343.2 665.5Z" fill="none" stroke="#3f6fc0" stroke-width="1.3" stroke-linejoin="round" />
<path d="M1200.3 667.9 L1220 649.8 L1238.1 637.7 L1262.3 627.1 L1280.5 625.6 L1304.7 631.6 L1328.8 643.7 L1347 658.8 L1356 677 L1353 692.1 L1337.9 701.2 L1307.7 713.3 L1277.4 725.3 L1247.2 737.4 L1226 731.4 L1214 713.3 L1204.9 686Z" fill="none" stroke="#88a84c" stroke-width="1.3" stroke-linejoin="round" />
<path d="M1205.7 668.6 L1223.9 651.8 L1240.6 640.6 L1263 630.8 L1279.8 629.4 L1302.2 635 L1324.5 646.2 L1341.3 660.2 L1349.7 677 L1346.9 691 L1332.9 699.3 L1305 710.5 L1277 721.7 L1249 732.9 L1229.4 727.3 L1218.3 710.5 L1209.9 685.4Z" fill="none" stroke="#88a84c" stroke-width="1.3" stroke-linejoin="round" />
<path d="M1211 669.3 L1227.7 653.8 L1243.1 643.6 L1263.7 634.6 L1279.1 633.3 L1299.7 638.4 L1320.2 648.7 L1335.6 661.6 L1343.3 677 L1340.8 689.8 L1327.9 697.5 L1302.2 707.8 L1276.5 718.1 L1250.8 728.4 L1232.8 723.2 L1222.6 707.8 L1214.9 684.7Z" fill="none" stroke="#88a84c" stroke-width="1.3" stroke-linejoin="round" />
<path d="M1216.3 669.9 L1231.6 655.9 L1245.6 646.5 L1264.4 638.3 L1278.4 637.1 L1297.2 641.8 L1315.9 651.2 L1330 662.9 L1337 677 L1334.7 688.7 L1322.9 695.7 L1299.5 705.1 L1276.1 714.5 L1252.7 723.8 L1236.2 719.2 L1226.9 705.1 L1219.8 684Z" fill="none" stroke="#88a84c" stroke-width="1.3" stroke-linejoin="round" />
<path d="M1221.7 670.6 L1235.4 657.9 L1248.1 649.5 L1265 642.1 L1277.7 641 L1294.7 645.2 L1311.6 653.7 L1324.3 664.3 L1330.7 677 L1328.5 687.6 L1318 693.9 L1296.8 702.4 L1275.6 710.8 L1254.5 719.3 L1239.7 715.1 L1231.2 702.4 L1224.8 683.3Z" fill="none" stroke="#88a84c" stroke-width="1.3" stroke-linejoin="round" />
<path d="M1227 671.3 L1239.3 660 L1250.6 652.4 L1265.7 645.8 L1277.1 644.9 L1292.2 648.6 L1307.3 656.2 L1318.6 665.6 L1324.3 677 L1322.4 686.4 L1313 692.1 L1294.1 699.7 L1275.2 707.2 L1256.3 714.8 L1243.1 711 L1235.5 699.7 L1229.8 682.6Z" fill="none" stroke="#88a84c" stroke-width="1.3" stroke-linejoin="round" />
<path d="M1232.3 672 L1243.1 662 L1253.1 655.4 L1266.4 649.5 L1276.4 648.7 L1289.7 652 L1303 658.7 L1313 667 L1318 677 L1316.3 685.3 L1308 690.3 L1291.3 696.9 L1274.7 703.6 L1258.1 710.2 L1246.5 706.9 L1239.8 696.9 L1234.8 682Z" fill="none" stroke="#88a84c" stroke-width="1.3" stroke-linejoin="round" />
<path d="M1237.6 672.7 L1247 664.1 L1255.6 658.3 L1267.1 653.3 L1275.7 652.6 L1287.2 655.4 L1298.7 661.2 L1307.3 668.4 L1311.6 677 L1310.2 684.2 L1303 688.5 L1288.6 694.2 L1274.3 700 L1259.9 705.7 L1249.9 702.8 L1244.1 694.2 L1239.8 681.3Z" fill="none" stroke="#88a84c" stroke-width="1.3" stroke-linejoin="round" />
<path d="M1243 673.3 L1250.8 666.1 L1258.1 661.3 L1267.8 657 L1275 656.4 L1284.7 658.8 L1294.4 663.7 L1301.6 669.7 L1305.3 677 L1304 683 L1298 686.7 L1285.9 691.5 L1273.8 696.3 L1261.7 701.2 L1253.3 698.7 L1248.4 691.5 L1244.8 680.6Z" fill="none" stroke="#88a84c" stroke-width="1.3" stroke-linejoin="round" />
<path d="M1248.3 674 L1254.7 668.1 L1260.6 664.2 L1268.4 660.8 L1274.3 660.3 L1282.2 662.2 L1290.1 666.2 L1296 671.1 L1298.9 677 L1297.9 681.9 L1293 684.8 L1283.2 688.8 L1273.4 692.7 L1263.5 696.6 L1256.7 694.7 L1252.7 688.8 L1249.8 679.9Z" fill="none" stroke="#88a84c" stroke-width="1.3" stroke-linejoin="round" />
<path d="M1253.6 674.7 L1258.5 670.2 L1263.1 667.2 L1269.1 664.5 L1273.7 664.1 L1279.7 665.6 L1285.8 668.7 L1290.3 672.4 L1292.6 677 L1291.8 680.8 L1288 683 L1280.5 686 L1272.9 689.1 L1265.3 692.1 L1260.1 690.6 L1257 686 L1254.8 679.2Z" fill="none" stroke="#88a84c" stroke-width="1.3" stroke-linejoin="round" />
<path d="M1259 675.4 L1262.4 672.2 L1265.6 670.1 L1269.8 668.2 L1273 668 L1277.2 669 L1281.4 671.2 L1284.6 673.8 L1286.2 677 L1285.7 679.6 L1283 681.2 L1277.7 683.3 L1272.5 685.4 L1267.2 687.6 L1263.5 686.5 L1261.3 683.3 L1259.8 678.6Z" fill="none" stroke="#88a84c" stroke-width="1.3" stroke-linejoin="round" />
<path d="M1264.3 676.1 L1266.3 674.3 L1268.1 673 L1270.5 672 L1272.3 671.8 L1274.7 672.4 L1277.1 673.7 L1279 675.2 L1279.9 677 L1279.6 678.5 L1278 679.4 L1275 680.6 L1272 681.8 L1269 683 L1266.9 682.4 L1265.7 680.6 L1264.7 677.9Z" fill="none" stroke="#88a84c" stroke-width="1.3" stroke-linejoin="round" />
<path d="M1153.5 761.6 L1159.5 752.6 L1180.7 746.5 L1226 749.5 L1233.6 761.6 L1223 782.8 L1201.9 788.8 L1177.7 804 L1165.6 807 L1153.5 797.9 L1150.5 779.8Z" fill="none" stroke="#88a84c" stroke-width="1.3" stroke-linejoin="round" />
<path d="M1166.2 763.2 L1170.1 757.3 L1183.9 753.4 L1213.3 755.4 L1218.3 763.2 L1211.4 777 L1197.6 780.9 L1181.9 790.7 L1174 792.7 L1166.2 786.8 L1164.2 775Z" fill="none" stroke="#88a84c" stroke-width="1.3" stroke-linejoin="round" />
<path d="M1178.9 764.8 L1180.7 762.1 L1187 760.3 L1200.7 761.2 L1202.9 764.8 L1199.7 771.2 L1193.4 773 L1186.1 777.5 L1182.5 778.4 L1178.9 775.7 L1178 770.2Z" fill="none" stroke="#88a84c" stroke-width="1.3" stroke-linejoin="round" />
<circle cx="1354.5" cy="661.9" r="10.6" fill="#3f6fc0"/>
<circle cx="1271.4" cy="676.4" r="10.6" fill="#7a9638"/>
<circle cx="1188.3" cy="765.6" r="7.6" fill="#7a9638"/>
<path d="M1266.9 672.4 L1173.1 631.6 L1185.2 761.6" fill="none" stroke="#88a84c" stroke-width="1.3"/>
<path d="M1359.1 664.9 L1398.4 743.5" fill="none" stroke="#3f6fc0" stroke-width="1.2"/>
<text x="1071.9" y="609" font-size="24" fill="#8cab57" font-weight="bold" text-anchor="start" textLength="260" lengthAdjust="spacingAndGlyphs" >M202 (Ixo+LY2119620)</text>
<text x="1325.8" y="763.1" font-size="24" fill="#4070c0" font-weight="bold" text-anchor="start" textLength="119.4" lengthAdjust="spacingAndGlyphs" >M202 (Ixo)</text>
<rect x="1576.4" y="16.8" width="388.1" height="268.2" fill="#fff" stroke="#000" stroke-width="1.6"/>
<line x1="1698.8" y1="16.8" x2="1698.8" y2="285" stroke="#333" stroke-width="1.6" stroke-dasharray="6 5"/>
<line x1="1721.1" y1="16.8" x2="1721.1" y2="285" stroke="#333" stroke-width="1.6" stroke-dasharray="6 5"/>
<line x1="1775.2" y1="16.8" x2="1775.2" y2="285" stroke="#333" stroke-width="1.6" stroke-dasharray="6 5"/>
<line x1="1812.6" y1="16.8" x2="1812.6" y2="285" stroke="#333" stroke-width="1.6" stroke-dasharray="6 5"/>
<rect x="1576.4" y="290" width="388.1" height="267.9" fill="#fff" stroke="#000" stroke-width="1.6"/>
<line x1="1698.8" y1="290" x2="1698.8" y2="557.9" stroke="#333" stroke-width="1.6" stroke-dasharray="6 5"/>
<line x1="1721.1" y1="290" x2="1721.1" y2="557.9" stroke="#333" stroke-width="1.6" stroke-dasharray="6 5"/>
<line x1="1775.2" y1="290" x2="1775.2" y2="557.9" stroke="#333" stroke-width="1.6" stroke-dasharray="6 5"/>
<line x1="1812.6" y1="290" x2="1812.6" y2="557.9" stroke="#333" stroke-width="1.6" stroke-dasharray="6 5"/>
<rect x="1576.4" y="564.3" width="388.1" height="267.4" fill="#fff" stroke="#000" stroke-width="1.6"/>
<line x1="1698.8" y1="564.3" x2="1698.8" y2="831.7" stroke="#333" stroke-width="1.6" stroke-dasharray="6 5"/>
<line x1="1721.1" y1="564.3" x2="1721.1" y2="831.7" stroke="#333" stroke-width="1.6" stroke-dasharray="6 5"/>
<line x1="1775.2" y1="564.3" x2="1775.2" y2="831.7" stroke="#333" stroke-width="1.6" stroke-dasharray="6 5"/>
<line x1="1812.6" y1="564.3" x2="1812.6" y2="831.7" stroke="#333" stroke-width="1.6" stroke-dasharray="6 5"/>
<rect x="1576.4" y="836.6" width="388.1" height="267.1" fill="#fff" stroke="#000" stroke-width="1.6"/>
<line x1="1698.8" y1="836.6" x2="1698.8" y2="1103.7" stroke="#333" stroke-width="1.6" stroke-dasharray="6 5"/>
<line x1="1721.1" y1="836.6" x2="1721.1" y2="1103.7" stroke="#333" stroke-width="1.6" stroke-dasharray="6 5"/>
<line x1="1775.2" y1="836.6" x2="1775.2" y2="1103.7" stroke="#333" stroke-width="1.6" stroke-dasharray="6 5"/>
<line x1="1812.6" y1="836.6" x2="1812.6" y2="1103.7" stroke="#333" stroke-width="1.6" stroke-dasharray="6 5"/>
<line x1="1643.5" y1="285" x2="1643.5" y2="288" stroke="#000" stroke-width="1.2"/>
<line x1="1729.6" y1="285" x2="1729.6" y2="288" stroke="#000" stroke-width="1.2"/>
<line x1="1815.7" y1="285" x2="1815.7" y2="288" stroke="#000" stroke-width="1.2"/>
<line x1="1901.8" y1="285" x2="1901.8" y2="288" stroke="#000" stroke-width="1.2"/>
<line x1="1643.5" y1="557.9" x2="1643.5" y2="560.9" stroke="#000" stroke-width="1.2"/>
<line x1="1729.6" y1="557.9" x2="1729.6" y2="560.9" stroke="#000" stroke-width="1.2"/>
<line x1="1815.7" y1="557.9" x2="1815.7" y2="560.9" stroke="#000" stroke-width="1.2"/>
<line x1="1901.8" y1="557.9" x2="1901.8" y2="560.9" stroke="#000" stroke-width="1.2"/>
<line x1="1643.5" y1="831.7" x2="1643.5" y2="834.7" stroke="#000" stroke-width="1.2"/>
<line x1="1729.6" y1="831.7" x2="1729.6" y2="834.7" stroke="#000" stroke-width="1.2"/>
<line x1="1815.7" y1="831.7" x2="1815.7" y2="834.7" stroke="#000" stroke-width="1.2"/>
<line x1="1901.8" y1="831.7" x2="1901.8" y2="834.7" stroke="#000" stroke-width="1.2"/>
<line x1="1643.5" y1="1103.7" x2="1643.5" y2="1106.7" stroke="#000" stroke-width="1.2"/>
<line x1="1729.6" y1="1103.7" x2="1729.6" y2="1106.7" stroke="#000" stroke-width="1.2"/>
<line x1="1815.7" y1="1103.7" x2="1815.7" y2="1106.7" stroke="#000" stroke-width="1.2"/>
<line x1="1901.8" y1="1103.7" x2="1901.8" y2="1106.7" stroke="#000" stroke-width="1.2"/>
<text x="1569" y="37.1" font-size="23" fill="#000" font-weight="bold" text-anchor="end" textLength="44" lengthAdjust="spacingAndGlyphs" >15.2</text>
<line x1="1573.4" y1="28.8" x2="1576.4" y2="28.8" stroke="#000" stroke-width="1.2"/>
<text x="1569" y="79.8" font-size="23" fill="#000" font-weight="bold" text-anchor="end" textLength="44" lengthAdjust="spacingAndGlyphs" >15.4</text>
<line x1="1573.4" y1="71.5" x2="1576.4" y2="71.5" stroke="#000" stroke-width="1.2"/>
<text x="1569" y="122.4" font-size="23" fill="#000" font-weight="bold" text-anchor="end" textLength="44" lengthAdjust="spacingAndGlyphs" >15.6</text>
<line x1="1573.4" y1="114.1" x2="1576.4" y2="114.1" stroke="#000" stroke-width="1.2"/>
<text x="1569" y="165.1" font-size="23" fill="#000" font-weight="bold" text-anchor="end" textLength="44" lengthAdjust="spacingAndGlyphs" >15.8</text>
<line x1="1573.4" y1="156.8" x2="1576.4" y2="156.8" stroke="#000" stroke-width="1.2"/>
<text x="1569" y="207.7" font-size="23" fill="#000" font-weight="bold" text-anchor="end" textLength="44" lengthAdjust="spacingAndGlyphs" >16.0</text>
<line x1="1573.4" y1="199.4" x2="1576.4" y2="199.4" stroke="#000" stroke-width="1.2"/>
<text x="1569" y="250.4" font-size="23" fill="#000" font-weight="bold" text-anchor="end" textLength="44" lengthAdjust="spacingAndGlyphs" >16.2</text>
<line x1="1573.4" y1="242.1" x2="1576.4" y2="242.1" stroke="#000" stroke-width="1.2"/>
<text transform="translate(1525 136.9) rotate(-90)" font-size="22" font-weight="bold" text-anchor="middle" fill="#000"><tspan font-size="14" dy="-8">13</tspan><tspan dy="8">C (ppm)</tspan></text>
<text x="1569" y="310.3" font-size="23" fill="#000" font-weight="bold" text-anchor="end" textLength="44" lengthAdjust="spacingAndGlyphs" >15.2</text>
<line x1="1573.4" y1="302" x2="1576.4" y2="302" stroke="#000" stroke-width="1.2"/>
<text x="1569" y="352.9" font-size="23" fill="#000" font-weight="bold" text-anchor="end" textLength="44" lengthAdjust="spacingAndGlyphs" >15.4</text>
<line x1="1573.4" y1="344.6" x2="1576.4" y2="344.6" stroke="#000" stroke-width="1.2"/>
<text x="1569" y="395.6" font-size="23" fill="#000" font-weight="bold" text-anchor="end" textLength="44" lengthAdjust="spacingAndGlyphs" >15.6</text>
<line x1="1573.4" y1="387.3" x2="1576.4" y2="387.3" stroke="#000" stroke-width="1.2"/>
<text x="1569" y="438.2" font-size="23" fill="#000" font-weight="bold" text-anchor="end" textLength="44" lengthAdjust="spacingAndGlyphs" >15.8</text>
<line x1="1573.4" y1="429.9" x2="1576.4" y2="429.9" stroke="#000" stroke-width="1.2"/>
<text x="1569" y="480.9" font-size="23" fill="#000" font-weight="bold" text-anchor="end" textLength="44" lengthAdjust="spacingAndGlyphs" >16.0</text>
<line x1="1573.4" y1="472.6" x2="1576.4" y2="472.6" stroke="#000" stroke-width="1.2"/>
<text x="1569" y="523.5" font-size="23" fill="#000" font-weight="bold" text-anchor="end" textLength="44" lengthAdjust="spacingAndGlyphs" >16.2</text>
<line x1="1573.4" y1="515.2" x2="1576.4" y2="515.2" stroke="#000" stroke-width="1.2"/>
<text transform="translate(1525 409.9) rotate(-90)" font-size="22" font-weight="bold" text-anchor="middle" fill="#000"><tspan font-size="14" dy="-8">13</tspan><tspan dy="8">C (ppm)</tspan></text>
<text x="1569" y="584.6" font-size="23" fill="#000" font-weight="bold" text-anchor="end" textLength="44" lengthAdjust="spacingAndGlyphs" >15.2</text>
<line x1="1573.4" y1="576.3" x2="1576.4" y2="576.3" stroke="#000" stroke-width="1.2"/>
<text x="1569" y="627.2" font-size="23" fill="#000" font-weight="bold" text-anchor="end" textLength="44" lengthAdjust="spacingAndGlyphs" >15.4</text>
<line x1="1573.4" y1="618.9" x2="1576.4" y2="618.9" stroke="#000" stroke-width="1.2"/>
<text x="1569" y="669.9" font-size="23" fill="#000" font-weight="bold" text-anchor="end" textLength="44" lengthAdjust="spacingAndGlyphs" >15.6</text>
<line x1="1573.4" y1="661.6" x2="1576.4" y2="661.6" stroke="#000" stroke-width="1.2"/>
<text x="1569" y="712.5" font-size="23" fill="#000" font-weight="bold" text-anchor="end" textLength="44" lengthAdjust="spacingAndGlyphs" >15.8</text>
<line x1="1573.4" y1="704.2" x2="1576.4" y2="704.2" stroke="#000" stroke-width="1.2"/>
<text x="1569" y="755.2" font-size="23" fill="#000" font-weight="bold" text-anchor="end" textLength="44" lengthAdjust="spacingAndGlyphs" >16.0</text>
<line x1="1573.4" y1="746.9" x2="1576.4" y2="746.9" stroke="#000" stroke-width="1.2"/>
<text x="1569" y="797.8" font-size="23" fill="#000" font-weight="bold" text-anchor="end" textLength="44" lengthAdjust="spacingAndGlyphs" >16.2</text>
<line x1="1573.4" y1="789.5" x2="1576.4" y2="789.5" stroke="#000" stroke-width="1.2"/>
<text transform="translate(1525 684) rotate(-90)" font-size="22" font-weight="bold" text-anchor="middle" fill="#000"><tspan font-size="14" dy="-8">13</tspan><tspan dy="8">C (ppm)</tspan></text>
<text x="1569" y="857.5" font-size="23" fill="#000" font-weight="bold" text-anchor="end" textLength="44" lengthAdjust="spacingAndGlyphs" >15.2</text>
<line x1="1573.4" y1="849.2" x2="1576.4" y2="849.2" stroke="#000" stroke-width="1.2"/>
<text x="1569" y="900.1" font-size="23" fill="#000" font-weight="bold" text-anchor="end" textLength="44" lengthAdjust="spacingAndGlyphs" >15.4</text>
<line x1="1573.4" y1="891.9" x2="1576.4" y2="891.9" stroke="#000" stroke-width="1.2"/>
<text x="1569" y="942.8" font-size="23" fill="#000" font-weight="bold" text-anchor="end" textLength="44" lengthAdjust="spacingAndGlyphs" >15.6</text>
<line x1="1573.4" y1="934.5" x2="1576.4" y2="934.5" stroke="#000" stroke-width="1.2"/>
<text x="1569" y="985.5" font-size="23" fill="#000" font-weight="bold" text-anchor="end" textLength="44" lengthAdjust="spacingAndGlyphs" >15.8</text>
<line x1="1573.4" y1="977.2" x2="1576.4" y2="977.2" stroke="#000" stroke-width="1.2"/>
<text x="1569" y="1028.1" font-size="23" fill="#000" font-weight="bold" text-anchor="end" textLength="44" lengthAdjust="spacingAndGlyphs" >16.0</text>
<line x1="1573.4" y1="1019.8" x2="1576.4" y2="1019.8" stroke="#000" stroke-width="1.2"/>
<text x="1569" y="1070.8" font-size="23" fill="#000" font-weight="bold" text-anchor="end" textLength="44" lengthAdjust="spacingAndGlyphs" >16.2</text>
<line x1="1573.4" y1="1062.5" x2="1576.4" y2="1062.5" stroke="#000" stroke-width="1.2"/>
<text transform="translate(1525 956.2) rotate(-90)" font-size="22" font-weight="bold" text-anchor="middle" fill="#000"><tspan font-size="14" dy="-8">13</tspan><tspan dy="8">C (ppm)</tspan></text>
<text x="1643.5" y="1128" font-size="23" fill="#000" font-weight="bold" text-anchor="middle" textLength="44" lengthAdjust="spacingAndGlyphs" >1.45</text>
<text x="1729.6" y="1128" font-size="23" fill="#000" font-weight="bold" text-anchor="middle" textLength="44" lengthAdjust="spacingAndGlyphs" >1.40</text>
<text x="1815.7" y="1128" font-size="23" fill="#000" font-weight="bold" text-anchor="middle" textLength="44" lengthAdjust="spacingAndGlyphs" >1.35</text>
<text x="1901.8" y="1128" font-size="23" fill="#000" font-weight="bold" text-anchor="middle" textLength="44" lengthAdjust="spacingAndGlyphs" >1.30</text>
<text x="1784" y="1148" font-size="22" font-weight="bold" text-anchor="middle" fill="#000"><tspan font-size="14" dy="-8">1</tspan><tspan dy="8">H (ppm)</tspan></text>
<text x="1585.2" y="52.6" font-size="35" fill="#000" font-weight="normal" text-anchor="start" textLength="107.6" lengthAdjust="spacingAndGlyphs" stroke="#000" stroke-width="0.55">M2RFL</text>
<text x="1694.8" y="54.1" font-size="23" font-family="DejaVu Sans" fill="#000" textLength="18.6" lengthAdjust="spacingAndGlyphs" transform="translate(0 52.6) scale(1 0.97) translate(0 -52.6)">△</text>
<text x="1716.6" y="52.6" font-size="35" fill="#000" font-weight="normal" text-anchor="start" textLength="50.1" lengthAdjust="spacingAndGlyphs" stroke="#000" stroke-width="0.55">8M</text>
<path d="M1636.5 212.8 L1637.7 185.3 L1642.7 175.3 L1660.3 157.7 L1680.3 147.7 L1700.3 142.7 L1717.9 144 L1735.4 150.2 L1750.4 162.7 L1765.4 185.3 L1776.7 212.8 L1767.9 225.3 L1755.4 237.9 L1740.4 247.9 L1720.4 255.4 L1700.3 259.1 L1680.3 255.4 L1660.3 245.4 L1645.2 230.3Z" fill="none" stroke="#2a3aa8" stroke-width="1.9" stroke-linejoin="round" />
<path d="M1644.1 211.8 L1645.2 187.9 L1649.6 179.2 L1664.8 163.9 L1682.3 155.2 L1699.7 150.9 L1714.9 151.9 L1730.2 157.4 L1743.2 168.3 L1756.3 187.9 L1766.1 211.8 L1758.5 222.7 L1747.6 233.6 L1734.5 242.3 L1717.1 248.9 L1699.7 252.1 L1682.3 248.9 L1664.8 240.2 L1651.8 227.1Z" fill="none" stroke="#2a3aa8" stroke-width="1.9" stroke-linejoin="round" />
<path d="M1651.8 210.9 L1652.7 190.5 L1656.4 183.1 L1669.4 170.1 L1684.2 162.7 L1699 159 L1712 159.9 L1725 164.5 L1736.1 173.8 L1747.2 190.5 L1755.5 210.9 L1749.1 220.1 L1739.8 229.4 L1728.7 236.8 L1713.9 242.4 L1699 245.1 L1684.2 242.4 L1669.4 235 L1658.3 223.8Z" fill="none" stroke="#2a3aa8" stroke-width="1.9" stroke-linejoin="round" />
<path d="M1659.4 209.9 L1660.2 193.1 L1663.2 187 L1673.9 176.3 L1686.2 170.2 L1698.4 167.1 L1709.1 167.9 L1719.8 171.7 L1728.9 179.3 L1738.1 193.1 L1745 209.9 L1739.6 217.5 L1732 225.2 L1722.8 231.3 L1710.6 235.9 L1698.4 238.1 L1686.2 235.9 L1673.9 229.7 L1664.8 220.6Z" fill="none" stroke="#2a3aa8" stroke-width="1.9" stroke-linejoin="round" />
<path d="M1667.1 208.9 L1667.7 195.7 L1670.1 190.9 L1678.5 182.5 L1688.1 177.7 L1697.7 175.3 L1706.1 175.9 L1714.6 178.9 L1721.8 184.9 L1729 195.7 L1734.4 208.9 L1730.2 214.9 L1724.2 220.9 L1717 225.7 L1707.3 229.3 L1697.7 231.1 L1688.1 229.3 L1678.5 224.5 L1671.3 217.3Z" fill="none" stroke="#2a3aa8" stroke-width="1.9" stroke-linejoin="round" />
<path d="M1674.7 207.9 L1675.2 198.3 L1676.9 194.8 L1683.1 188.7 L1690.1 185.2 L1697.1 183.4 L1703.2 183.8 L1709.3 186 L1714.6 190.4 L1719.9 198.3 L1723.8 207.9 L1720.7 212.3 L1716.4 216.7 L1711.1 220.2 L1704.1 222.8 L1697.1 224.1 L1690.1 222.8 L1683.1 219.3 L1677.8 214.1Z" fill="none" stroke="#2a3aa8" stroke-width="1.9" stroke-linejoin="round" />
<path d="M1682.4 207 L1682.7 200.9 L1683.8 198.7 L1687.6 194.8 L1692 192.6 L1696.4 191.5 L1700.3 191.8 L1704.1 193.2 L1707.4 195.9 L1710.7 200.9 L1713.2 207 L1711.3 209.7 L1708.5 212.5 L1705.2 214.7 L1700.8 216.3 L1696.4 217.2 L1692 216.3 L1687.6 214.1 L1684.3 210.8Z" fill="none" stroke="#2a3aa8" stroke-width="1.9" stroke-linejoin="round" />
<path d="M1633.2 177.8 L1642.7 145.2 L1660.3 120.2 L1685.3 102.7 L1710.3 93.9 L1730.4 92.6 L1750.4 95.1 L1770.4 102.7 L1785.5 117.7 L1798 130.2 L1799.2 145.2 L1793 162.7 L1783 182.8 L1770.4 197.8 L1755.4 210.3 L1737.9 219.1 L1720.4 222.8 L1700.3 221.6 L1680.3 215.3 L1660.3 202.8 L1645.2 190.3Z" fill="none" stroke="#e0409a" stroke-width="1.9" stroke-linejoin="round" />
<path d="M1644.4 175.5 L1652.7 147.2 L1667.9 125.4 L1689.7 110.1 L1711.5 102.5 L1728.9 101.4 L1746.3 103.6 L1763.8 110.1 L1776.8 123.2 L1787.7 134.1 L1788.8 147.2 L1783.4 162.4 L1774.7 179.8 L1763.8 192.9 L1750.7 203.8 L1735.4 211.4 L1720.2 214.7 L1702.8 213.6 L1685.3 208.2 L1667.9 197.3 L1654.8 186.4Z" fill="none" stroke="#e0409a" stroke-width="1.9" stroke-linejoin="round" />
<path d="M1655.6 173.2 L1662.6 149.1 L1675.6 130.6 L1694.1 117.6 L1712.6 111.1 L1727.4 110.2 L1742.3 112.1 L1757.1 117.6 L1768.2 128.7 L1777.5 138 L1778.4 149.1 L1773.8 162.1 L1766.4 176.9 L1757.1 188 L1746 197.3 L1733 203.8 L1720 206.6 L1705.2 205.6 L1690.4 201 L1675.6 191.7 L1664.5 182.5Z" fill="none" stroke="#e0409a" stroke-width="1.9" stroke-linejoin="round" />
<path d="M1666.7 170.9 L1672.5 151.1 L1683.2 135.8 L1698.5 125.1 L1713.8 119.8 L1726 119 L1738.2 120.5 L1750.4 125.1 L1759.6 134.3 L1767.2 141.9 L1768 151.1 L1764.2 161.8 L1758.1 174 L1750.4 183.1 L1741.3 190.8 L1730.6 196.1 L1719.9 198.4 L1707.7 197.7 L1695.4 193.8 L1683.2 186.2 L1674.1 178.6Z" fill="none" stroke="#e0409a" stroke-width="1.9" stroke-linejoin="round" />
<path d="M1677.9 168.7 L1682.5 153 L1690.9 141 L1702.9 132.6 L1714.9 128.4 L1724.5 127.8 L1734.1 129 L1743.7 132.6 L1751 139.8 L1757 145.8 L1757.6 153 L1754.6 161.4 L1749.8 171.1 L1743.7 178.3 L1736.5 184.3 L1728.1 188.5 L1719.7 190.3 L1710.1 189.7 L1700.5 186.7 L1690.9 180.7 L1683.7 174.7Z" fill="none" stroke="#e0409a" stroke-width="1.9" stroke-linejoin="round" />
<path d="M1689.1 166.4 L1692.4 155 L1698.5 146.2 L1707.3 140.1 L1716 137 L1723.1 136.6 L1730.1 137.5 L1737.1 140.1 L1742.3 145.3 L1746.7 149.7 L1747.2 155 L1745 161.1 L1741.5 168.1 L1737.1 173.4 L1731.8 177.8 L1725.7 180.8 L1719.5 182.1 L1712.5 181.7 L1705.5 179.5 L1698.5 175.1 L1693.3 170.8Z" fill="none" stroke="#e0409a" stroke-width="1.9" stroke-linejoin="round" />
<path d="M1700.2 164.1 L1702.3 156.9 L1706.2 151.4 L1711.7 147.6 L1717.2 145.6 L1721.6 145.4 L1726 145.9 L1730.4 147.6 L1733.7 150.9 L1736.5 153.6 L1736.7 156.9 L1735.4 160.8 L1733.2 165.2 L1730.4 168.5 L1727.1 171.3 L1723.2 173.2 L1719.4 174 L1715 173.7 L1710.6 172.4 L1706.2 169.6 L1702.9 166.9Z" fill="none" stroke="#e0409a" stroke-width="1.9" stroke-linejoin="round" />
<path d="M1803 271.7 L1835.5 225.3 L1840.5 200.3 L1858.1 196.5 L1878.1 205.3 L1855.6 250.4 L1848.1 271.7" fill="none" stroke="#d8d8d8" stroke-width="1.3"/>
<path d="M1850.6 205.3 L1868.1 204.1 L1855.6 214.1 L1850.6 205.3" fill="none" stroke="#d8d8d8" stroke-width="1.3"/>
<path d="M1725.4 149 L1819.3 108.9" fill="none" stroke="#000" stroke-width="1.4"/>
<path d="M1700.3 215.3 L1765.4 242.4" fill="none" stroke="#000" stroke-width="1.4"/>
<text x="1783" y="71.4" font-size="22" fill="#e2449c" font-weight="bold" text-anchor="start" textLength="170.3" lengthAdjust="spacingAndGlyphs" >Iperoxo-bound</text>
<text x="1783" y="101.4" font-size="22" fill="#e2449c" font-weight="bold" text-anchor="start" textLength="181.5" lengthAdjust="spacingAndGlyphs" >phosphorylated</text>
<text x="1747.9" y="259.1" font-size="22" fill="#3344aa" font-weight="bold" text-anchor="start" textLength="169" lengthAdjust="spacingAndGlyphs" >Iperoxo-bound</text>
<path d="M1730.4 385.2 L1737.9 352.6 L1755.4 332.6 L1780.5 312.5 L1813 305 L1843 307.5 L1875.6 322.6 L1905.6 340.1 L1916.9 353.9 L1910.6 375.1 L1900.6 392.7 L1880.6 410.2 L1855.6 430.2 L1830.5 441.5 L1805.5 442.7 L1785.5 437.7 L1765.4 425.2 L1745.4 405.2Z" fill="none" stroke="#e2333a" stroke-width="1.9" stroke-linejoin="round" />
<path d="M1738.8 384.9 L1745.6 355.7 L1761.3 337.7 L1783.8 319.7 L1813 313 L1840 315.2 L1869.2 328.7 L1896.1 344.5 L1906.3 356.8 L1900.6 375.9 L1891.6 391.6 L1873.7 407.4 L1851.2 425.3 L1828.7 435.5 L1806.3 436.6 L1788.3 432.1 L1770.3 420.9 L1752.3 402.9Z" fill="none" stroke="#e2333a" stroke-width="1.9" stroke-linejoin="round" />
<path d="M1747.3 384.6 L1753.3 358.8 L1767.2 342.8 L1787.1 326.9 L1813 320.9 L1836.9 322.9 L1862.8 334.9 L1886.6 348.8 L1895.6 359.8 L1890.6 376.7 L1882.7 390.6 L1866.7 404.5 L1846.8 420.5 L1826.9 429.4 L1807 430.4 L1791.1 426.4 L1775.2 416.5 L1759.3 400.6Z" fill="none" stroke="#e2333a" stroke-width="1.9" stroke-linejoin="round" />
<path d="M1755.8 384.4 L1761 361.8 L1773.1 348 L1790.5 334.1 L1813 328.9 L1833.8 330.6 L1856.3 341 L1877.2 353.2 L1885 362.7 L1880.6 377.5 L1873.7 389.6 L1859.8 401.7 L1842.5 415.6 L1825.1 423.4 L1807.8 424.3 L1793.9 420.8 L1780.1 412.1 L1766.2 398.3Z" fill="none" stroke="#e2333a" stroke-width="1.9" stroke-linejoin="round" />
<path d="M1764.3 384.1 L1768.7 364.9 L1779 353.1 L1793.8 341.3 L1813 336.9 L1830.7 338.3 L1849.9 347.2 L1867.7 357.5 L1874.3 365.7 L1870.6 378.2 L1864.7 388.6 L1852.9 398.9 L1838.1 410.7 L1823.3 417.4 L1808.6 418.1 L1796.8 415.2 L1784.9 407.8 L1773.1 395.9Z" fill="none" stroke="#e2333a" stroke-width="1.9" stroke-linejoin="round" />
<path d="M1772.7 383.9 L1776.4 368 L1784.9 358.2 L1797.1 348.5 L1813 344.8 L1827.6 346 L1843.5 353.4 L1858.2 361.9 L1863.7 368.6 L1860.6 379 L1855.7 387.5 L1846 396.1 L1833.7 405.8 L1821.5 411.3 L1809.3 411.9 L1799.6 409.5 L1789.8 403.4 L1780 393.6Z" fill="none" stroke="#e2333a" stroke-width="1.9" stroke-linejoin="round" />
<path d="M1781.2 383.6 L1784.1 371.1 L1790.8 363.4 L1800.5 355.7 L1813 352.8 L1824.6 353.7 L1837.1 359.5 L1848.7 366.3 L1853 371.6 L1850.6 379.8 L1846.7 386.5 L1839 393.3 L1829.4 401 L1819.7 405.3 L1810.1 405.8 L1802.4 403.9 L1794.7 399 L1787 391.3Z" fill="none" stroke="#e2333a" stroke-width="1.9" stroke-linejoin="round" />
<path d="M1789.7 383.4 L1791.8 374.2 L1796.7 368.5 L1803.8 362.8 L1813 360.7 L1821.5 361.4 L1830.7 365.7 L1839.2 370.6 L1842.4 374.5 L1840.6 380.5 L1837.8 385.5 L1832.1 390.4 L1825 396.1 L1818 399.3 L1810.9 399.6 L1805.2 398.2 L1799.6 394.7 L1793.9 389Z" fill="none" stroke="#e2333a" stroke-width="1.9" stroke-linejoin="round" />
<path d="M1798.1 383.1 L1799.5 377.2 L1802.6 373.6 L1807.1 370 L1813 368.7 L1818.4 369.1 L1824.3 371.8 L1829.7 375 L1831.7 377.5 L1830.6 381.3 L1828.8 384.5 L1825.2 387.6 L1820.7 391.2 L1816.2 393.2 L1811.6 393.5 L1808 392.6 L1804.4 390.3 L1800.8 386.7Z" fill="none" stroke="#e2333a" stroke-width="1.9" stroke-linejoin="round" />
<path d="M1635.2 486.6 L1639 452.8 L1655.3 435.2 L1675.3 422.7 L1695.3 416.5 L1707.8 416.5 L1725.4 422.7 L1742.9 432.7 L1760.4 452.8 L1776.7 486.6 L1767.9 500.3 L1750.4 515.4 L1730.4 525.4 L1705.3 530.4 L1690.3 531.6 L1670.3 522.9 L1655.3 510.3 L1642.7 497.8Z" fill="none" stroke="#2a3aa8" stroke-width="1.9" stroke-linejoin="round" />
<path d="M1643.9 486.2 L1647.2 456.9 L1661.3 441.7 L1678.6 430.9 L1696 425.5 L1706.8 425.5 L1722 430.9 L1737.2 439.6 L1752.4 456.9 L1766.5 486.2 L1758.9 498.2 L1743.7 511.2 L1726.4 519.9 L1704.7 524.2 L1691.7 525.3 L1674.3 517.7 L1661.3 506.8 L1650.4 496Z" fill="none" stroke="#2a3aa8" stroke-width="1.9" stroke-linejoin="round" />
<path d="M1652.6 485.9 L1655.3 461.1 L1667.3 448.3 L1682 439.1 L1696.7 434.5 L1705.8 434.5 L1718.7 439.1 L1731.5 446.4 L1744.4 461.1 L1756.3 485.9 L1749.9 496 L1737.1 507 L1722.4 514.4 L1704 518 L1693 518.9 L1678.3 512.5 L1667.3 503.3 L1658.1 494.2Z" fill="none" stroke="#2a3aa8" stroke-width="1.9" stroke-linejoin="round" />
<path d="M1661.3 485.6 L1663.5 465.3 L1673.3 454.8 L1685.3 447.3 L1697.3 443.5 L1704.8 443.5 L1715.4 447.3 L1725.9 453.3 L1736.4 465.3 L1746.1 485.6 L1740.9 493.8 L1730.4 502.8 L1718.4 508.8 L1703.3 511.8 L1694.3 512.6 L1682.3 507.3 L1673.3 499.8 L1665.8 492.3Z" fill="none" stroke="#2a3aa8" stroke-width="1.9" stroke-linejoin="round" />
<path d="M1670 485.2 L1671.7 469.5 L1679.3 461.3 L1688.6 455.4 L1698 452.5 L1703.8 452.5 L1712 455.4 L1720.2 460.1 L1728.4 469.5 L1736 485.2 L1731.9 491.7 L1723.7 498.7 L1714.4 503.3 L1702.7 505.7 L1695.7 506.3 L1686.3 502.2 L1679.3 496.3 L1673.5 490.5Z" fill="none" stroke="#2a3aa8" stroke-width="1.9" stroke-linejoin="round" />
<path d="M1678.6 484.9 L1679.9 473.6 L1685.3 467.8 L1692 463.6 L1698.7 461.5 L1702.8 461.5 L1708.7 463.6 L1714.5 466.9 L1720.4 473.6 L1725.8 484.9 L1722.9 489.5 L1717 494.5 L1710.3 497.8 L1702 499.5 L1697 499.9 L1690.3 497 L1685.3 492.8 L1681.1 488.6Z" fill="none" stroke="#2a3aa8" stroke-width="1.9" stroke-linejoin="round" />
<path d="M1687.3 484.6 L1688.1 477.8 L1691.3 474.3 L1695.3 471.8 L1699.3 470.5 L1701.8 470.5 L1705.3 471.8 L1708.8 473.8 L1712.3 477.8 L1715.6 484.6 L1713.9 487.3 L1710.3 490.3 L1706.3 492.3 L1701.3 493.3 L1698.3 493.6 L1694.3 491.8 L1691.3 489.3 L1688.8 486.8Z" fill="none" stroke="#2a3aa8" stroke-width="1.9" stroke-linejoin="round" />
<path d="M1803 545.4 L1835.5 500.3 L1840.5 477.8 L1858.1 470.3 L1878.1 479 L1855.6 520.4 L1850.6 545.4" fill="none" stroke="#d8d8d8" stroke-width="1.3"/>
<path d="M1815.5 385.2 L1865.6 445.2" fill="none" stroke="#000" stroke-width="1.4"/>
<path d="M1695.3 482.8 L1759.2 509.8" fill="none" stroke="#000" stroke-width="1.4"/>
<text x="1760.4" y="465.3" font-size="23" fill="#e03a2a" font-weight="bold" text-anchor="start" textLength="198.3" lengthAdjust="spacingAndGlyphs" >Iperoxo+miniGoa</text>
<text x="1737.9" y="532.9" font-size="22" fill="#3344aa" font-weight="bold" text-anchor="start" textLength="170.3" lengthAdjust="spacingAndGlyphs" >Iperoxo-bound</text>
<path d="M1662.8 667.7 L1670.3 642.6 L1680.3 627.6 L1695.3 618.9 L1705.3 616.3 L1720.4 620.1 L1755.4 630.1 L1780.5 637.6 L1798 642.6 L1805.5 655.2 L1823 670.2 L1829.3 685.2 L1829.3 705.2 L1823 730.3 L1815.5 747.8 L1805.5 755.3 L1798 760.3 L1780.5 760.3 L1755.4 755.3 L1730.4 752.8 L1705.3 750.3 L1685.3 740.3 L1670.3 725.3 L1664 700.2Z" fill="none" stroke="#3aaa3a" stroke-width="1.9" stroke-linejoin="round" />
<path d="M1673.8 673 L1680.1 652 L1688.4 639.4 L1701 632.1 L1709.4 630 L1722 633.1 L1751.3 641.5 L1772.3 647.8 L1787 652 L1793.3 662.5 L1808 675.1 L1813.2 687.6 L1813.2 704.4 L1808 725.4 L1801.7 740.1 L1793.3 746.4 L1787 750.6 L1772.3 750.6 L1751.3 746.4 L1730.4 744.3 L1709.4 742.2 L1692.6 733.8 L1680.1 721.2 L1674.8 700.2Z" fill="none" stroke="#3aaa3a" stroke-width="1.9" stroke-linejoin="round" />
<path d="M1684.7 678.3 L1689.8 661.4 L1696.6 651.2 L1706.7 645.3 L1713.5 643.6 L1723.6 646.1 L1747.3 652.9 L1764.2 658 L1776 661.4 L1781.1 669.8 L1792.9 679.9 L1797.1 690.1 L1797.1 703.6 L1792.9 720.5 L1787.8 732.3 L1781.1 737.4 L1776 740.8 L1764.2 740.8 L1747.3 737.4 L1730.4 735.7 L1713.5 734 L1700 727.3 L1689.8 717.1 L1685.6 700.2Z" fill="none" stroke="#3aaa3a" stroke-width="1.9" stroke-linejoin="round" />
<path d="M1695.7 683.5 L1699.6 670.7 L1704.7 663 L1712.4 658.5 L1717.5 657.2 L1725.2 659.2 L1743.2 664.3 L1756 668.1 L1765 670.7 L1768.9 677.1 L1777.9 684.8 L1781.1 692.5 L1781.1 702.8 L1777.9 715.6 L1774 724.6 L1768.9 728.5 L1765 731 L1756 731 L1743.2 728.5 L1730.4 727.2 L1717.5 725.9 L1707.3 720.8 L1699.6 713.1 L1696.4 700.2Z" fill="none" stroke="#3aaa3a" stroke-width="1.9" stroke-linejoin="round" />
<path d="M1706.7 688.8 L1709.3 680.1 L1712.8 674.8 L1718.1 671.7 L1721.6 670.9 L1726.9 672.2 L1739.1 675.7 L1747.9 678.3 L1754 680.1 L1756.7 684.5 L1762.8 689.7 L1765 695 L1765 702 L1762.8 710.7 L1760.2 716.9 L1756.7 719.5 L1754 721.3 L1747.9 721.3 L1739.1 719.5 L1730.4 718.6 L1721.6 717.8 L1714.6 714.2 L1709.3 709 L1707.2 700.2Z" fill="none" stroke="#3aaa3a" stroke-width="1.9" stroke-linejoin="round" />
<path d="M1634 722.8 L1645.2 690.2 L1665.3 670.2 L1685.3 652.7 L1705.3 642.6 L1722.9 638.9 L1745.4 640.1 L1767.9 645.1 L1785.5 655.2 L1795.5 670.2 L1799.2 692.7 L1793 715.2 L1780.5 732.8 L1765.4 750.3 L1745.4 762.8 L1720.4 769.8 L1700.3 769.1 L1680.3 761.6 L1660.3 747.8 L1642.7 735.3Z" fill="none" stroke="#e0409a" stroke-width="1.9" stroke-linejoin="round" />
<path d="M1644.2 720.4 L1654.2 691.7 L1671.9 674 L1689.6 658.5 L1707.2 649.7 L1722.7 646.4 L1742.6 647.5 L1762.5 651.9 L1778 660.7 L1786.8 674 L1790.1 693.9 L1784.6 713.8 L1773.6 729.3 L1760.3 744.7 L1742.6 755.8 L1720.5 762 L1702.8 761.3 L1685.1 754.7 L1667.5 742.5 L1652 731.5Z" fill="none" stroke="#e0409a" stroke-width="1.9" stroke-linejoin="round" />
<path d="M1654.5 718.1 L1663.1 693.1 L1678.5 677.8 L1693.8 664.4 L1709.2 656.7 L1722.6 653.8 L1739.8 654.8 L1757.1 658.6 L1770.5 666.3 L1778.2 677.8 L1781 695.1 L1776.3 712.3 L1766.7 725.7 L1755.2 739.2 L1739.8 748.7 L1720.7 754.1 L1705.3 753.5 L1690 747.8 L1674.6 737.2 L1661.2 727.7Z" fill="none" stroke="#e0409a" stroke-width="1.9" stroke-linejoin="round" />
<path d="M1664.8 715.7 L1672.1 694.6 L1685.1 681.6 L1698.1 670.3 L1711.1 663.8 L1722.4 661.3 L1737 662.1 L1751.7 665.4 L1763 671.9 L1769.5 681.6 L1772 696.2 L1767.9 710.8 L1759.8 722.2 L1750 733.6 L1737 741.7 L1720.8 746.2 L1707.8 745.8 L1694.8 740.9 L1681.8 732 L1670.5 723.8Z" fill="none" stroke="#e0409a" stroke-width="1.9" stroke-linejoin="round" />
<path d="M1675 713.4 L1681 696.1 L1691.7 685.4 L1702.3 676.1 L1713 670.8 L1722.3 668.8 L1734.3 669.5 L1746.2 672.1 L1755.5 677.4 L1760.9 685.4 L1762.9 697.4 L1759.5 709.4 L1752.9 718.7 L1744.9 728 L1734.3 734.7 L1720.9 738.4 L1710.3 738 L1699.7 734 L1689 726.7 L1679.7 720Z" fill="none" stroke="#e0409a" stroke-width="1.9" stroke-linejoin="round" />
<path d="M1685.3 711 L1690 697.5 L1698.3 689.2 L1706.6 682 L1714.9 677.8 L1722.1 676.3 L1731.5 676.8 L1740.8 678.9 L1748.1 683 L1752.2 689.2 L1753.8 698.6 L1751.2 707.9 L1746 715.2 L1739.8 722.4 L1731.5 727.6 L1721.1 730.5 L1712.8 730.2 L1704.5 727.1 L1696.2 721.4 L1688.9 716.2Z" fill="none" stroke="#e0409a" stroke-width="1.9" stroke-linejoin="round" />
<path d="M1695.6 708.7 L1698.9 699 L1704.9 693.1 L1710.8 687.8 L1716.8 684.9 L1722 683.8 L1728.7 684.1 L1735.4 685.6 L1740.6 688.6 L1743.6 693.1 L1744.7 699.8 L1742.8 706.4 L1739.1 711.7 L1734.6 716.9 L1728.7 720.6 L1721.2 722.7 L1715.3 722.4 L1709.3 720.2 L1703.4 716.1 L1698.2 712.4Z" fill="none" stroke="#e0409a" stroke-width="1.9" stroke-linejoin="round" />
<path d="M1705.8 706.3 L1707.9 700.5 L1711.5 696.9 L1715.1 693.7 L1718.7 691.9 L1721.8 691.2 L1725.9 691.5 L1729.9 692.4 L1733.1 694.2 L1734.9 696.9 L1735.6 700.9 L1734.5 705 L1732.2 708.1 L1729.5 711.3 L1725.9 713.5 L1721.4 714.8 L1717.8 714.7 L1714.2 713.3 L1710.6 710.8 L1707.4 708.6Z" fill="none" stroke="#e0409a" stroke-width="1.9" stroke-linejoin="round" />
<path d="M1813 800.4 L1835.5 775.3 L1840.5 750.3 L1858.1 744 L1878.1 752.8 L1855.6 787.9 L1848.1 815.4" fill="none" stroke="#d8d8d8" stroke-width="1.3"/>
<path d="M1761.7 675.2 L1808 625.1" fill="none" stroke="#000" stroke-width="1.4"/>
<path d="M1710.3 707.7 L1750.4 767.8" fill="none" stroke="#000" stroke-width="1.4"/>
<text x="1810.5" y="590.1" font-size="18" fill="#3a963a" font-weight="bold" text-anchor="start" textLength="139" lengthAdjust="spacingAndGlyphs" >Iperoxo-bound</text>
<text x="1810.5" y="615.1" font-size="18" fill="#3a963a" font-weight="bold" text-anchor="start" textLength="149" lengthAdjust="spacingAndGlyphs" >phosphorylated</text>
<text x="1810.5" y="638.9" font-size="18" fill="#3a963a" font-weight="bold" text-anchor="start" textLength="112.7" lengthAdjust="spacingAndGlyphs" >+β-arrestin1</text>
<text x="1727.9" y="787.9" font-size="22" fill="#e2449c" font-weight="bold" text-anchor="start" textLength="169" lengthAdjust="spacingAndGlyphs" >Iperoxo-bound</text>
<text x="1727.9" y="816.6" font-size="22" fill="#e2449c" font-weight="bold" text-anchor="start" textLength="181.5" lengthAdjust="spacingAndGlyphs" >phosphorylated</text>
<path d="M1661 954.3 L1666.8 922.2 L1678.5 901.7 L1696 890.1 L1704.8 888.6 L1736.9 895.9 L1771.9 907.6 L1801.1 919.2 L1824.4 936.8 L1828.8 957.2 L1827.4 983.5 L1815.7 1006.8 L1801.1 1030.2 L1771.9 1027.2 L1742.7 1021.4 L1713.5 1015.6 L1684.3 995.1 L1666.8 974.7Z" fill="none" stroke="#4cbc4c" stroke-width="1.9" stroke-linejoin="round" />
<path d="M1673.3 956.2 L1678.2 929.3 L1688 912.2 L1702.6 902.4 L1710 901.2 L1736.9 907.3 L1766.2 917.1 L1790.6 926.8 L1810.2 941.5 L1813.9 958.6 L1812.6 980.6 L1802.9 1000.2 L1790.6 1019.7 L1766.2 1017.3 L1741.8 1012.4 L1717.3 1007.5 L1692.9 990.4 L1678.2 973.3Z" fill="none" stroke="#4cbc4c" stroke-width="1.9" stroke-linejoin="round" />
<path d="M1685.6 958.1 L1689.6 936.4 L1697.5 922.6 L1709.3 914.7 L1715.2 913.7 L1736.9 918.7 L1760.5 926.5 L1780.2 934.4 L1796 946.2 L1798.9 960 L1797.9 977.8 L1790.1 993.5 L1780.2 1009.3 L1760.5 1007.3 L1740.8 1003.4 L1721.1 999.4 L1701.4 985.6 L1689.6 971.9Z" fill="none" stroke="#4cbc4c" stroke-width="1.9" stroke-linejoin="round" />
<path d="M1698 960 L1701 943.5 L1706.9 933 L1715.9 927.1 L1720.4 926.3 L1736.9 930 L1754.8 936 L1769.8 942 L1781.7 951 L1784 961.5 L1783.2 974.9 L1777.3 986.9 L1769.8 998.9 L1754.8 997.4 L1739.9 994.4 L1724.9 991.4 L1709.9 980.9 L1701 970.4Z" fill="none" stroke="#4cbc4c" stroke-width="1.9" stroke-linejoin="round" />
<path d="M1710.3 961.9 L1712.3 950.6 L1716.4 943.5 L1722.6 939.4 L1725.6 938.9 L1736.9 941.4 L1749.1 945.5 L1759.3 949.6 L1767.5 955.7 L1769 962.9 L1768.5 972.1 L1764.5 980.2 L1759.3 988.4 L1749.1 987.4 L1738.9 985.4 L1728.7 983.3 L1718.5 976.2 L1712.3 969Z" fill="none" stroke="#4cbc4c" stroke-width="1.9" stroke-linejoin="round" />
<path d="M1729.6 930.9 L1736.9 901.7 L1757.3 878.4 L1786.5 857.9 L1809.8 850.6 L1844.9 855 L1882.8 869.6 L1906.2 887.1 L1914.9 898.8 L1909.1 919.2 L1894.5 942.6 L1871.1 965.9 L1844.9 980.5 L1809.8 989.3 L1789.4 986.4 L1766.1 974.7 L1742.7 954.3Z" fill="none" stroke="#e2333a" stroke-width="1.9" stroke-linejoin="round" />
<path d="M1737.8 930.6 L1744.3 904.4 L1762.7 883.5 L1788.9 865.1 L1809.8 858.6 L1841.3 862.5 L1875.3 875.6 L1896.3 891.3 L1904.2 901.8 L1898.9 920.1 L1885.8 941.1 L1864.9 962.1 L1841.3 975.2 L1809.8 983 L1791.5 980.4 L1770.5 969.9 L1749.6 951.6Z" fill="none" stroke="#e2333a" stroke-width="1.9" stroke-linejoin="round" />
<path d="M1746 930.3 L1751.8 907.1 L1768.1 888.6 L1791.3 872.3 L1809.8 866.5 L1837.7 870 L1867.9 881.6 L1886.4 895.5 L1893.4 904.8 L1888.7 921 L1877.1 939.6 L1858.6 958.2 L1837.7 969.8 L1809.8 976.7 L1793.6 974.4 L1775 965.1 L1756.5 948.9Z" fill="none" stroke="#e2333a" stroke-width="1.9" stroke-linejoin="round" />
<path d="M1754.3 930 L1759.3 909.8 L1773.5 893.6 L1793.7 879.5 L1809.8 874.4 L1834.1 877.5 L1860.4 887.6 L1876.5 899.7 L1882.6 907.8 L1878.6 921.9 L1868.5 938.1 L1852.3 954.3 L1834.1 964.4 L1809.8 970.4 L1795.7 968.4 L1779.5 960.3 L1763.3 946.2Z" fill="none" stroke="#e2333a" stroke-width="1.9" stroke-linejoin="round" />
<path d="M1762.5 929.7 L1766.8 912.5 L1778.8 898.7 L1796.1 886.7 L1809.8 882.4 L1830.5 884.9 L1852.9 893.6 L1866.7 903.9 L1871.8 910.8 L1868.4 922.8 L1859.8 936.6 L1846 950.4 L1830.5 959 L1809.8 964.2 L1797.8 962.4 L1784 955.6 L1770.2 943.5Z" fill="none" stroke="#e2333a" stroke-width="1.9" stroke-linejoin="round" />
<path d="M1770.7 929.4 L1774.3 915.2 L1784.2 903.8 L1798.5 893.8 L1809.8 890.3 L1826.9 892.4 L1845.4 899.5 L1856.8 908.1 L1861.1 913.8 L1858.2 923.7 L1851.1 935.1 L1839.7 946.5 L1826.9 953.6 L1809.8 957.9 L1799.9 956.5 L1788.5 950.8 L1777.1 940.8Z" fill="none" stroke="#e2333a" stroke-width="1.9" stroke-linejoin="round" />
<path d="M1778.9 929.1 L1781.7 917.9 L1789.6 908.9 L1800.8 901 L1809.8 898.2 L1823.3 899.9 L1837.9 905.5 L1846.9 912.3 L1850.3 916.8 L1848 924.6 L1842.4 933.6 L1833.4 942.6 L1823.3 948.2 L1809.8 951.6 L1802 950.5 L1793 946 L1784 938.1Z" fill="none" stroke="#e2333a" stroke-width="1.9" stroke-linejoin="round" />
<path d="M1787.2 928.8 L1789.2 920.6 L1795 914 L1803.2 908.2 L1809.8 906.1 L1819.7 907.4 L1830.5 911.5 L1837.1 916.5 L1839.5 919.8 L1837.9 925.5 L1833.8 932.1 L1827.2 938.7 L1819.7 942.8 L1809.8 945.3 L1804.1 944.5 L1797.5 941.2 L1790.9 935.4Z" fill="none" stroke="#e2333a" stroke-width="1.9" stroke-linejoin="round" />
<path d="M1795.4 928.5 L1796.7 923.3 L1800.4 919.1 L1805.6 915.4 L1809.8 914.1 L1816.1 914.9 L1823 917.5 L1827.2 920.6 L1828.8 922.7 L1827.7 926.4 L1825.1 930.6 L1820.9 934.8 L1816.1 937.5 L1809.8 939 L1806.2 938.5 L1802 936.4 L1797.8 932.7Z" fill="none" stroke="#e2333a" stroke-width="1.9" stroke-linejoin="round" />
<path d="M1801.1 1091.5 L1815.7 1071 L1847.8 1047.7 L1841.9 1024.3 L1859.5 1021.4 L1871.1 1024.3 L1853.6 1041.8 L1850.7 1094.4" fill="none" stroke="#d8d8d8" stroke-width="1.3"/>
<path d="M1758.8 984.9 L1710.6 1036" fill="none" stroke="#000" stroke-width="1.4"/>
<path d="M1824.4 929.5 L1884.3 996.6" fill="none" stroke="#000" stroke-width="1.4"/>
<text x="1836.7" y="1017" font-size="23" fill="#e03a2a" font-weight="bold" text-anchor="start" textLength="87" lengthAdjust="spacingAndGlyphs" >Iperoxo</text>
<text x="1836.7" y="1046.2" font-size="23" fill="#e03a2a" font-weight="bold" text-anchor="start" textLength="110.3" lengthAdjust="spacingAndGlyphs" >+miniGoa</text>
<text x="1590.9" y="1044.8" font-size="18" fill="#3a963a" font-weight="bold" text-anchor="start" textLength="139.5" lengthAdjust="spacingAndGlyphs" >Iperoxo-bound</text>
<text x="1590.9" y="1068.7" font-size="18" fill="#3a963a" font-weight="bold" text-anchor="start" textLength="148.9" lengthAdjust="spacingAndGlyphs" >phosphorylated</text>
<text x="1590.9" y="1092.9" font-size="18" fill="#3a963a" font-weight="bold" text-anchor="start" textLength="113.8" lengthAdjust="spacingAndGlyphs" >+β-arrestin1</text>
<rect x="924" y="243.4" width="1.6" height="1.6" fill="#222"/>
<rect x="936" y="243.4" width="1.6" height="1.6" fill="#222"/>
<rect x="924" y="518.4" width="1.6" height="1.6" fill="#222"/>
<rect x="936" y="518.4" width="1.6" height="1.6" fill="#222"/>
<rect x="925" y="792" width="1.6" height="1.6" fill="#222"/>
<rect x="937" y="792" width="1.6" height="1.6" fill="#222"/>
<rect x="1439" y="251.8" width="1.6" height="1.6" fill="#222"/>
<rect x="1450" y="251.8" width="1.6" height="1.6" fill="#222"/>
<line x1="1069" y1="12.5" x2="1069" y2="16.5" stroke="#000" stroke-width="1.3"/>
<line x1="1196.5" y1="12.5" x2="1196.5" y2="16.5" stroke="#000" stroke-width="1.3"/>
<line x1="1274.4" y1="12.5" x2="1274.4" y2="16.5" stroke="#000" stroke-width="1.3"/>
<line x1="1357" y1="12.5" x2="1357" y2="16.5" stroke="#000" stroke-width="1.3"/>
<path d="M1837.5 831 L1840 825 L1853 822 L1868 831 M1843 831 L1853 828 L1862 831" fill="none" stroke="#b4e4b4" stroke-width="1.3"/>
<defs><clipPath id="ca"><rect x="0" y="0" width="431" height="384"/></clipPath><clipPath id="ce"><rect x="0" y="790" width="399" height="338"/></clipPath><filter id="bl2"><feGaussianBlur stdDeviation="2"/></filter><filter id="bl4"><feGaussianBlur stdDeviation="4"/></filter></defs>
<g clip-path="url(#ca)">
<path d="M225.8 -20.0 L224.8 -16.9 L222.7 -13.8 L219.7 -10.6 L215.9 -7.5 L211.2 -4.4 L205.8 -1.2 L199.7 1.9 L193.1 5.0 L186.0 8.1 L178.7 11.2 L171.2 14.4 L163.6 17.5 L156.1 20.6 L148.8 23.8 L141.8 26.9 L135.3 30.0 L129.3 33.1 L124.0 36.2 L119.4 39.4 L115.7 42.5 L112.9 45.6 L111.0 48.8 L110.1 51.9 L110.2 55.0 L110.2 85.0 L110.1 81.9 L111.0 78.8 L112.9 75.6 L115.7 72.5 L119.4 69.4 L124.0 66.2 L129.3 63.1 L135.3 60.0 L141.8 56.9 L148.8 53.8 L156.1 50.6 L163.6 47.5 L171.2 44.4 L178.7 41.2 L186.0 38.1 L193.1 35.0 L199.7 31.9 L205.8 28.8 L211.2 25.6 L215.9 22.5 L219.7 19.4 L222.7 16.2 L224.8 13.1 L225.8 10.0Z" fill="#e6eeeb" stroke="#dbe4e1" stroke-width="0.8" stroke-linejoin="round" opacity="1.0"/>
<path d="M225.8 130.0 L224.8 133.1 L222.7 136.2 L219.7 139.4 L215.9 142.5 L211.2 145.6 L205.8 148.8 L199.7 151.9 L193.1 155.0 L186.0 158.1 L178.7 161.2 L171.2 164.4 L163.6 167.5 L156.1 170.6 L148.8 173.8 L141.8 176.9 L135.3 180.0 L129.3 183.1 L124.0 186.2 L119.4 189.4 L115.7 192.5 L112.9 195.6 L111.0 198.7 L110.1 201.9 L110.2 205.0 L110.2 235.0 L110.1 231.9 L111.0 228.7 L112.9 225.6 L115.7 222.5 L119.4 219.4 L124.0 216.2 L129.3 213.1 L135.3 210.0 L141.8 206.9 L148.8 203.8 L156.1 200.6 L163.6 197.5 L171.2 194.4 L178.7 191.2 L186.0 188.1 L193.1 185.0 L199.7 181.9 L205.8 178.8 L211.2 175.6 L215.9 172.5 L219.7 169.4 L222.7 166.2 L224.8 163.1 L225.8 160.0Z" fill="#e6eeeb" stroke="#dbe4e1" stroke-width="0.8" stroke-linejoin="round" opacity="1.0"/>
<path d="M225.8 280.0 L224.8 283.1 L222.7 286.2 L219.7 289.4 L215.9 292.5 L211.2 295.6 L205.8 298.8 L199.7 301.9 L193.1 305.0 L186.0 308.1 L178.7 311.2 L171.2 314.4 L163.6 317.5 L156.1 320.6 L148.8 323.8 L141.8 326.9 L135.3 330.0 L129.3 333.1 L124.0 336.2 L119.4 339.4 L115.7 342.5 L112.9 345.6 L111.0 348.8 L110.1 351.9 L110.2 355.0 L110.2 385.0 L110.1 381.9 L111.0 378.8 L112.9 375.6 L115.7 372.5 L119.4 369.4 L124.0 366.2 L129.3 363.1 L135.3 360.0 L141.8 356.9 L148.8 353.8 L156.1 350.6 L163.6 347.5 L171.2 344.4 L178.7 341.2 L186.0 338.1 L193.1 335.0 L199.7 331.9 L205.8 328.8 L211.2 325.6 L215.9 322.5 L219.7 319.4 L222.7 316.2 L224.8 313.1 L225.8 310.0Z" fill="#e6eeeb" stroke="#dbe4e1" stroke-width="0.8" stroke-linejoin="round" opacity="1.0"/>
<path d="M200.7 -45.0 L206.7 -41.9 L212.0 -38.8 L216.6 -35.6 L220.3 -32.5 L223.1 -29.4 L225.0 -26.2 L225.9 -23.1 L225.8 -20.0 L225.8 10.0 L225.9 6.9 L225.0 3.8 L223.1 0.6 L220.3 -2.5 L216.6 -5.6 L212.0 -8.8 L206.7 -11.9 L200.7 -15.0Z" fill="#f1f6f1" stroke="#dbe4e1" stroke-width="0.8" stroke-linejoin="round" opacity="1.0"/>
<path d="M110.2 55.0 L111.2 58.1 L113.3 61.2 L116.3 64.4 L120.1 67.5 L124.8 70.6 L130.2 73.8 L136.3 76.9 L142.9 80.0 L150.0 83.1 L157.3 86.2 L164.8 89.4 L172.4 92.5 L179.9 95.6 L187.2 98.8 L194.2 101.9 L200.7 105.0 L206.7 108.1 L212.0 111.2 L216.6 114.4 L220.3 117.5 L223.1 120.6 L225.0 123.8 L225.9 126.9 L225.8 130.0 L225.8 160.0 L225.9 156.9 L225.0 153.8 L223.1 150.6 L220.3 147.5 L216.6 144.4 L212.0 141.2 L206.7 138.1 L200.7 135.0 L194.2 131.9 L187.2 128.8 L179.9 125.6 L172.4 122.5 L164.8 119.4 L157.3 116.2 L150.0 113.1 L142.9 110.0 L136.3 106.9 L130.2 103.8 L124.8 100.6 L120.1 97.5 L116.3 94.4 L113.3 91.2 L111.2 88.1 L110.2 85.0Z" fill="#f1f6f1" stroke="#dbe4e1" stroke-width="0.8" stroke-linejoin="round" opacity="1.0"/>
<path d="M110.2 205.0 L111.2 208.1 L113.3 211.2 L116.3 214.4 L120.1 217.5 L124.8 220.6 L130.2 223.8 L136.3 226.9 L142.9 230.0 L150.0 233.1 L157.3 236.2 L164.8 239.4 L172.4 242.5 L179.9 245.6 L187.2 248.8 L194.2 251.9 L200.7 255.0 L206.7 258.1 L212.0 261.2 L216.6 264.4 L220.3 267.5 L223.1 270.6 L225.0 273.8 L225.9 276.9 L225.8 280.0 L225.8 310.0 L225.9 306.9 L225.0 303.8 L223.1 300.6 L220.3 297.5 L216.6 294.4 L212.0 291.2 L206.7 288.1 L200.7 285.0 L194.2 281.9 L187.2 278.8 L179.9 275.6 L172.4 272.5 L164.8 269.4 L157.3 266.2 L150.0 263.1 L142.9 260.0 L136.3 256.9 L130.2 253.8 L124.8 250.6 L120.1 247.5 L116.3 244.4 L113.3 241.2 L111.2 238.1 L110.2 235.0Z" fill="#f1f6f1" stroke="#dbe4e1" stroke-width="0.8" stroke-linejoin="round" opacity="1.0"/>
<path d="M110.2 355.0 L111.2 358.1 L113.3 361.2 L116.3 364.4 L120.1 367.5 L124.8 370.6 L130.2 373.8 L136.3 376.9 L142.9 380.0 L150.0 383.1 L157.3 386.2 L164.8 389.4 L172.4 392.5 L179.9 395.6 L187.2 398.8 L194.2 401.9 L200.7 405.0 L200.7 435.0 L194.2 431.9 L187.2 428.8 L179.9 425.6 L172.4 422.5 L164.8 419.4 L157.3 416.2 L150.0 413.1 L142.9 410.0 L136.3 406.9 L130.2 403.8 L124.8 400.6 L120.1 397.5 L116.3 394.4 L113.3 391.2 L111.2 388.1 L110.2 385.0Z" fill="#f1f6f1" stroke="#dbe4e1" stroke-width="0.8" stroke-linejoin="round" opacity="1.0"/>
<path d="M229.8 -12.0 L228.8 -8.9 L226.7 -5.8 L223.7 -2.6 L219.9 0.5 L215.2 3.6 L209.8 6.8 L203.7 9.9 L197.1 13.0 L190.0 16.1 L182.7 19.2 L175.2 22.4 L167.6 25.5 L160.1 28.6 L152.8 31.8 L145.8 34.9 L139.3 38.0 L133.3 41.1 L128.0 44.2 L123.4 47.4 L119.7 50.5 L116.9 53.6 L115.0 56.8 L114.1 59.9 L114.2 63.0 L114.2 93.0 L114.1 89.9 L115.0 86.8 L116.9 83.6 L119.7 80.5 L123.4 77.4 L128.0 74.2 L133.3 71.1 L139.3 68.0 L145.8 64.9 L152.8 61.8 L160.1 58.6 L167.6 55.5 L175.2 52.4 L182.7 49.2 L190.0 46.1 L197.1 43.0 L203.7 39.9 L209.8 36.8 L215.2 33.6 L219.9 30.5 L223.7 27.4 L226.7 24.2 L228.8 21.1 L229.8 18.0Z" fill="#e1ebeb" opacity="0.6"/>
<path d="M229.8 138.0 L228.8 141.1 L226.7 144.2 L223.7 147.4 L219.9 150.5 L215.2 153.6 L209.8 156.8 L203.7 159.9 L197.1 163.0 L190.0 166.1 L182.7 169.2 L175.2 172.4 L167.6 175.5 L160.1 178.6 L152.8 181.8 L145.8 184.9 L139.3 188.0 L133.3 191.1 L128.0 194.2 L123.4 197.4 L119.7 200.5 L116.9 203.6 L115.0 206.7 L114.1 209.9 L114.2 213.0 L114.2 243.0 L114.1 239.9 L115.0 236.7 L116.9 233.6 L119.7 230.5 L123.4 227.4 L128.0 224.2 L133.3 221.1 L139.3 218.0 L145.8 214.9 L152.8 211.8 L160.1 208.6 L167.6 205.5 L175.2 202.4 L182.7 199.2 L190.0 196.1 L197.1 193.0 L203.7 189.9 L209.8 186.8 L215.2 183.6 L219.9 180.5 L223.7 177.4 L226.7 174.2 L228.8 171.1 L229.8 168.0Z" fill="#e1ebeb" opacity="0.6"/>
<path d="M229.8 288.0 L228.8 291.1 L226.7 294.2 L223.7 297.4 L219.9 300.5 L215.2 303.6 L209.8 306.8 L203.7 309.9 L197.1 313.0 L190.0 316.1 L182.7 319.2 L175.2 322.4 L167.6 325.5 L160.1 328.6 L152.8 331.8 L145.8 334.9 L139.3 338.0 L133.3 341.1 L128.0 344.2 L123.4 347.4 L119.7 350.5 L116.9 353.6 L115.0 356.8 L114.1 359.9 L114.2 363.0 L114.2 393.0 L114.1 389.9 L115.0 386.8 L116.9 383.6 L119.7 380.5 L123.4 377.4 L128.0 374.2 L133.3 371.1 L139.3 368.0 L145.8 364.9 L152.8 361.8 L160.1 358.6 L167.6 355.5 L175.2 352.4 L182.7 349.2 L190.0 346.1 L197.1 343.0 L203.7 339.9 L209.8 336.8 L215.2 333.6 L219.9 330.5 L223.7 327.4 L226.7 324.2 L228.8 321.1 L229.8 318.0Z" fill="#e1ebeb" opacity="0.6"/>
<path d="M204.7 -37.0 L210.7 -33.9 L216.0 -30.8 L220.6 -27.6 L224.3 -24.5 L227.1 -21.4 L229.0 -18.2 L229.9 -15.1 L229.8 -12.0 L229.8 18.0 L229.9 14.9 L229.0 11.8 L227.1 8.6 L224.3 5.5 L220.6 2.4 L216.0 -0.8 L210.7 -3.9 L204.7 -7.0Z" fill="#edf6f6" opacity="0.6"/>
<path d="M114.2 63.0 L115.2 66.1 L117.3 69.2 L120.3 72.4 L124.1 75.5 L128.8 78.6 L134.2 81.8 L140.3 84.9 L146.9 88.0 L154.0 91.1 L161.3 94.2 L168.8 97.4 L176.4 100.5 L183.9 103.6 L191.2 106.8 L198.2 109.9 L204.7 113.0 L210.7 116.1 L216.0 119.2 L220.6 122.4 L224.3 125.5 L227.1 128.6 L229.0 131.8 L229.9 134.9 L229.8 138.0 L229.8 168.0 L229.9 164.9 L229.0 161.8 L227.1 158.6 L224.3 155.5 L220.6 152.4 L216.0 149.2 L210.7 146.1 L204.7 143.0 L198.2 139.9 L191.2 136.8 L183.9 133.6 L176.4 130.5 L168.8 127.4 L161.3 124.2 L154.0 121.1 L146.9 118.0 L140.3 114.9 L134.2 111.8 L128.8 108.6 L124.1 105.5 L120.3 102.4 L117.3 99.2 L115.2 96.1 L114.2 93.0Z" fill="#edf6f6" opacity="0.6"/>
<path d="M114.2 213.0 L115.2 216.1 L117.3 219.2 L120.3 222.4 L124.1 225.5 L128.8 228.6 L134.2 231.8 L140.3 234.9 L146.9 238.0 L154.0 241.1 L161.3 244.2 L168.8 247.4 L176.4 250.5 L183.9 253.6 L191.2 256.8 L198.2 259.9 L204.7 263.0 L210.7 266.1 L216.0 269.2 L220.6 272.4 L224.3 275.5 L227.1 278.6 L229.0 281.8 L229.9 284.9 L229.8 288.0 L229.8 318.0 L229.9 314.9 L229.0 311.8 L227.1 308.6 L224.3 305.5 L220.6 302.4 L216.0 299.2 L210.7 296.1 L204.7 293.0 L198.2 289.9 L191.2 286.8 L183.9 283.6 L176.4 280.5 L168.8 277.4 L161.3 274.2 L154.0 271.1 L146.9 268.0 L140.3 264.9 L134.2 261.8 L128.8 258.6 L124.1 255.5 L120.3 252.4 L117.3 249.2 L115.2 246.1 L114.2 243.0Z" fill="#edf6f6" opacity="0.6"/>
<path d="M114.2 363.0 L115.2 366.1 L117.3 369.2 L120.3 372.4 L124.1 375.5 L128.8 378.6 L134.2 381.8 L140.3 384.9 L146.9 388.0 L154.0 391.1 L161.3 394.2 L168.8 397.4 L176.4 400.5 L183.9 403.6 L191.2 406.8 L198.2 409.9 L204.7 413.0 L204.7 443.0 L198.2 439.9 L191.2 436.8 L183.9 433.6 L176.4 430.5 L168.8 427.4 L161.3 424.2 L154.0 421.1 L146.9 418.0 L140.3 414.9 L134.2 411.8 L128.8 408.6 L124.1 405.5 L120.3 402.4 L117.3 399.2 L115.2 396.1 L114.2 393.0Z" fill="#edf6f6" opacity="0.6"/>
<path d="M113.9 -36.0 L107.5 -32.9 L100.5 -29.7 L93.1 -26.6 L85.2 -23.4 L77.2 -20.3 L69.0 -17.1 L60.9 -14.0 L53.0 -10.9 L45.4 -7.7 L38.3 -4.6 L31.7 -1.4 L25.9 1.7 L20.9 4.9 L16.7 8.0 L13.5 11.1 L11.3 14.3 L10.2 17.4 L10.1 20.6 L10.1 52.6 L10.2 49.4 L11.3 46.3 L13.5 43.1 L16.7 40.0 L20.9 36.9 L25.9 33.7 L31.7 30.6 L38.3 27.4 L45.4 24.3 L53.0 21.1 L60.9 18.0 L69.0 14.9 L77.2 11.7 L85.2 8.6 L93.1 5.4 L100.5 2.3 L107.5 -0.9 L113.9 -4.0Z" fill="#e4ede6" stroke="#d9e3dc" stroke-width="0.8" stroke-linejoin="round" opacity="1.0"/>
<path d="M133.8 96.0 L132.7 99.1 L130.5 102.3 L127.3 105.4 L123.1 108.6 L118.1 111.7 L112.2 114.9 L105.7 118.0 L98.5 121.1 L91.0 124.3 L83.0 127.4 L74.9 130.6 L66.8 133.7 L58.7 136.9 L50.9 140.0 L43.4 143.1 L36.4 146.3 L30.1 149.4 L24.4 152.6 L19.6 155.7 L15.7 158.9 L12.8 162.0 L10.9 165.1 L10.0 168.3 L10.3 171.4 L10.3 203.4 L10.0 200.3 L10.9 197.1 L12.8 194.0 L15.7 190.9 L19.6 187.7 L24.4 184.6 L30.1 181.4 L36.4 178.3 L43.4 175.1 L50.9 172.0 L58.7 168.9 L66.8 165.7 L74.9 162.6 L83.0 159.4 L91.0 156.3 L98.5 153.1 L105.7 150.0 L112.2 146.9 L118.1 143.7 L123.1 140.6 L127.3 137.4 L130.5 134.3 L132.7 131.1 L133.8 128.0Z" fill="#e4ede6" stroke="#d9e3dc" stroke-width="0.8" stroke-linejoin="round" opacity="1.0"/>
<path d="M133.6 246.9 L132.2 250.0 L129.7 253.1 L126.2 256.3 L121.8 259.4 L116.5 262.6 L110.5 265.7 L103.8 268.9 L96.5 272.0 L88.8 275.1 L80.8 278.3 L72.7 281.4 L64.6 284.6 L56.6 287.7 L48.8 290.9 L41.5 294.0 L34.6 297.1 L28.5 300.3 L23.1 303.4 L18.5 306.6 L14.8 309.7 L12.2 312.9 L10.6 316.0 L10.0 319.1 L10.5 322.3 L10.5 354.3 L10.0 351.1 L10.6 348.0 L12.2 344.9 L14.8 341.7 L18.5 338.6 L23.1 335.4 L28.5 332.3 L34.6 329.1 L41.5 326.0 L48.8 322.9 L56.6 319.7 L64.6 316.6 L72.7 313.4 L80.8 310.3 L88.8 307.1 L96.5 304.0 L103.8 300.9 L110.5 297.7 L116.5 294.6 L121.8 291.4 L126.2 288.3 L129.7 285.1 L132.2 282.0 L133.6 278.9Z" fill="#e4ede6" stroke="#d9e3dc" stroke-width="0.8" stroke-linejoin="round" opacity="1.0"/>
<path d="M134.0 394.6 L133.3 397.7 L131.6 400.9 L128.9 404.0 L128.9 436.0 L131.6 432.9 L133.3 429.7 L134.0 426.6Z" fill="#e4ede6" stroke="#d9e3dc" stroke-width="0.8" stroke-linejoin="round" opacity="1.0"/>
<path d="M10.1 20.6 L11.1 23.7 L13.2 26.9 L16.2 30.0 L20.3 33.1 L25.2 36.3 L30.9 39.4 L37.4 42.6 L44.5 45.7 L52.0 48.9 L59.9 52.0 L67.9 55.1 L76.1 58.3 L84.2 61.4 L92.1 64.6 L99.6 67.7 L106.6 70.9 L113.1 74.0 L118.8 77.1 L123.8 80.3 L127.8 83.4 L130.9 86.6 L132.9 89.7 L133.9 92.9 L133.8 96.0 L133.8 128.0 L133.9 124.9 L132.9 121.7 L130.9 118.6 L127.8 115.4 L123.8 112.3 L118.8 109.1 L113.1 106.0 L106.6 102.9 L99.6 99.7 L92.1 96.6 L84.2 93.4 L76.1 90.3 L67.9 87.1 L59.9 84.0 L52.0 80.9 L44.5 77.7 L37.4 74.6 L30.9 71.4 L25.2 68.3 L20.3 65.1 L16.2 62.0 L13.2 58.9 L11.1 55.7 L10.1 52.6Z" fill="#f0f7ef" stroke="#d9e3dc" stroke-width="0.8" stroke-linejoin="round" opacity="1.0"/>
<path d="M10.3 171.4 L11.6 174.6 L13.9 177.7 L17.2 180.9 L21.5 184.0 L26.7 187.1 L32.6 190.3 L39.3 193.4 L46.5 196.6 L54.1 199.7 L62.1 202.9 L70.2 206.0 L78.3 209.1 L86.4 212.3 L94.2 215.4 L101.6 218.6 L108.5 221.7 L114.7 224.9 L120.3 228.0 L124.9 231.1 L128.7 234.3 L131.5 237.4 L133.3 240.6 L134.0 243.7 L133.6 246.9 L133.6 278.9 L134.0 275.7 L133.3 272.6 L131.5 269.4 L128.7 266.3 L124.9 263.1 L120.3 260.0 L114.7 256.9 L108.5 253.7 L101.6 250.6 L94.2 247.4 L86.4 244.3 L78.3 241.1 L70.2 238.0 L62.1 234.9 L54.1 231.7 L46.5 228.6 L39.3 225.4 L32.6 222.3 L26.7 219.1 L21.5 216.0 L17.2 212.9 L13.9 209.7 L11.6 206.6 L10.3 203.4Z" fill="#f0f7ef" stroke="#d9e3dc" stroke-width="0.8" stroke-linejoin="round" opacity="1.0"/>
<path d="M10.5 322.3 L12.1 325.4 L14.7 328.6 L18.3 331.7 L22.9 334.9 L28.2 338.0 L34.4 341.1 L41.2 344.3 L48.5 347.4 L56.2 350.6 L64.3 353.7 L72.4 356.9 L80.5 360.0 L88.5 363.1 L96.2 366.3 L103.5 369.4 L110.2 372.6 L116.3 375.7 L121.6 378.9 L126.1 382.0 L129.6 385.1 L132.1 388.3 L133.6 391.4 L134.0 394.6 L134.0 426.6 L133.6 423.4 L132.1 420.3 L129.6 417.1 L126.1 414.0 L121.6 410.9 L116.3 407.7 L110.2 404.6 L103.5 401.4 L96.2 398.3 L88.5 395.1 L80.5 392.0 L72.4 388.9 L64.3 385.7 L56.2 382.6 L48.5 379.4 L41.2 376.3 L34.4 373.1 L28.2 370.0 L22.9 366.9 L18.3 363.7 L14.7 360.6 L12.1 357.4 L10.5 354.3Z" fill="#f0f7ef" stroke="#d9e3dc" stroke-width="0.8" stroke-linejoin="round" opacity="1.0"/>
<path d="M117.9 -28.0 L111.5 -24.9 L104.5 -21.7 L97.1 -18.6 L89.2 -15.4 L81.2 -12.3 L73.0 -9.1 L64.9 -6.0 L57.0 -2.9 L49.4 0.3 L42.3 3.4 L35.7 6.6 L29.9 9.7 L24.9 12.9 L20.7 16.0 L17.5 19.1 L15.3 22.3 L14.2 25.4 L14.1 28.6 L14.1 60.6 L14.2 57.4 L15.3 54.3 L17.5 51.1 L20.7 48.0 L24.9 44.9 L29.9 41.7 L35.7 38.6 L42.3 35.4 L49.4 32.3 L57.0 29.1 L64.9 26.0 L73.0 22.9 L81.2 19.7 L89.2 16.6 L97.1 13.4 L104.5 10.3 L111.5 7.1 L117.9 4.0Z" fill="#dfe9e9" opacity="0.5"/>
<path d="M137.8 104.0 L136.7 107.1 L134.5 110.3 L131.3 113.4 L127.1 116.6 L122.1 119.7 L116.2 122.9 L109.7 126.0 L102.5 129.1 L95.0 132.3 L87.0 135.4 L78.9 138.6 L70.8 141.7 L62.7 144.9 L54.9 148.0 L47.4 151.1 L40.4 154.3 L34.1 157.4 L28.4 160.6 L23.6 163.7 L19.7 166.9 L16.8 170.0 L14.9 173.1 L14.0 176.3 L14.3 179.4 L14.3 211.4 L14.0 208.3 L14.9 205.1 L16.8 202.0 L19.7 198.9 L23.6 195.7 L28.4 192.6 L34.1 189.4 L40.4 186.3 L47.4 183.1 L54.9 180.0 L62.7 176.9 L70.8 173.7 L78.9 170.6 L87.0 167.4 L95.0 164.3 L102.5 161.1 L109.7 158.0 L116.2 154.9 L122.1 151.7 L127.1 148.6 L131.3 145.4 L134.5 142.3 L136.7 139.1 L137.8 136.0Z" fill="#dfe9e9" opacity="0.5"/>
<path d="M137.6 254.9 L136.2 258.0 L133.7 261.1 L130.2 264.3 L125.8 267.4 L120.5 270.6 L114.5 273.7 L107.8 276.9 L100.5 280.0 L92.8 283.1 L84.8 286.3 L76.7 289.4 L68.6 292.6 L60.6 295.7 L52.8 298.9 L45.5 302.0 L38.6 305.1 L32.5 308.3 L27.1 311.4 L22.5 314.6 L18.8 317.7 L16.2 320.9 L14.6 324.0 L14.0 327.1 L14.5 330.3 L14.5 362.3 L14.0 359.1 L14.6 356.0 L16.2 352.9 L18.8 349.7 L22.5 346.6 L27.1 343.4 L32.5 340.3 L38.6 337.1 L45.5 334.0 L52.8 330.9 L60.6 327.7 L68.6 324.6 L76.7 321.4 L84.8 318.3 L92.8 315.1 L100.5 312.0 L107.8 308.9 L114.5 305.7 L120.5 302.6 L125.8 299.4 L130.2 296.3 L133.7 293.1 L136.2 290.0 L137.6 286.9Z" fill="#dfe9e9" opacity="0.5"/>
<path d="M138.0 402.6 L137.3 405.7 L135.6 408.9 L132.9 412.0 L132.9 444.0 L135.6 440.9 L137.3 437.7 L138.0 434.6Z" fill="#dfe9e9" opacity="0.5"/>
<path d="M14.1 28.6 L15.1 31.7 L17.2 34.9 L20.2 38.0 L24.3 41.1 L29.2 44.3 L34.9 47.4 L41.4 50.6 L48.5 53.7 L56.0 56.9 L63.9 60.0 L71.9 63.1 L80.1 66.3 L88.2 69.4 L96.1 72.6 L103.6 75.7 L110.6 78.9 L117.1 82.0 L122.8 85.1 L127.8 88.3 L131.8 91.4 L134.9 94.6 L136.9 97.7 L137.9 100.9 L137.8 104.0 L137.8 136.0 L137.9 132.9 L136.9 129.7 L134.9 126.6 L131.8 123.4 L127.8 120.3 L122.8 117.1 L117.1 114.0 L110.6 110.9 L103.6 107.7 L96.1 104.6 L88.2 101.4 L80.1 98.3 L71.9 95.1 L63.9 92.0 L56.0 88.9 L48.5 85.7 L41.4 82.6 L34.9 79.4 L29.2 76.3 L24.3 73.1 L20.2 70.0 L17.2 66.9 L15.1 63.7 L14.1 60.6Z" fill="#ebf5f5" opacity="0.5"/>
<path d="M14.3 179.4 L15.6 182.6 L17.9 185.7 L21.2 188.9 L25.5 192.0 L30.7 195.1 L36.6 198.3 L43.3 201.4 L50.5 204.6 L58.1 207.7 L66.1 210.9 L74.2 214.0 L82.3 217.1 L90.4 220.3 L98.2 223.4 L105.6 226.6 L112.5 229.7 L118.7 232.9 L124.3 236.0 L128.9 239.1 L132.7 242.3 L135.5 245.4 L137.3 248.6 L138.0 251.7 L137.6 254.9 L137.6 286.9 L138.0 283.7 L137.3 280.6 L135.5 277.4 L132.7 274.3 L128.9 271.1 L124.3 268.0 L118.7 264.9 L112.5 261.7 L105.6 258.6 L98.2 255.4 L90.4 252.3 L82.3 249.1 L74.2 246.0 L66.1 242.9 L58.1 239.7 L50.5 236.6 L43.3 233.4 L36.6 230.3 L30.7 227.1 L25.5 224.0 L21.2 220.9 L17.9 217.7 L15.6 214.6 L14.3 211.4Z" fill="#ebf5f5" opacity="0.5"/>
<path d="M14.5 330.3 L16.1 333.4 L18.7 336.6 L22.3 339.7 L26.9 342.9 L32.2 346.0 L38.4 349.1 L45.2 352.3 L52.5 355.4 L60.2 358.6 L68.3 361.7 L76.4 364.9 L84.5 368.0 L92.5 371.1 L100.2 374.3 L107.5 377.4 L114.2 380.6 L120.3 383.7 L125.6 386.9 L130.1 390.0 L133.6 393.1 L136.1 396.3 L137.6 399.4 L138.0 402.6 L138.0 434.6 L137.6 431.4 L136.1 428.3 L133.6 425.1 L130.1 422.0 L125.6 418.9 L120.3 415.7 L114.2 412.6 L107.5 409.4 L100.2 406.3 L92.5 403.1 L84.5 400.0 L76.4 396.9 L68.3 393.7 L60.2 390.6 L52.5 387.4 L45.2 384.3 L38.4 381.1 L32.2 378.0 L26.9 374.9 L22.3 371.7 L18.7 368.6 L16.1 365.4 L14.5 362.3Z" fill="#ebf5f5" opacity="0.5"/>
<path d="M404.0 -37.2 L403.4 -34.3 L401.9 -31.4 L399.6 -28.5 L396.4 -25.5 L392.5 -22.6 L387.9 -19.7 L382.6 -16.8 L376.9 -13.9 L370.7 -10.9 L364.2 -8.0 L357.5 -5.1 L350.7 -2.2 L343.9 0.8 L337.2 3.7 L330.8 6.6 L324.8 9.5 L319.3 12.4 L314.3 15.4 L309.9 18.3 L306.3 21.2 L303.4 24.1 L301.4 27.1 L300.3 30.0 L300.0 32.9 L300.0 64.9 L300.3 62.0 L301.4 59.1 L303.4 56.1 L306.3 53.2 L309.9 50.3 L314.3 47.4 L319.3 44.4 L324.8 41.5 L330.8 38.6 L337.2 35.7 L343.9 32.8 L350.7 29.8 L357.5 26.9 L364.2 24.0 L370.7 21.1 L376.9 18.1 L382.6 15.2 L387.9 12.3 L392.5 9.4 L396.4 6.5 L399.6 3.5 L401.9 0.6 L403.4 -2.3 L404.0 -5.2Z" fill="#e0eaeb" stroke="#d6e0e1" stroke-width="0.8" stroke-linejoin="round" opacity="1.0"/>
<path d="M404.0 103.0 L403.3 105.9 L401.7 108.9 L399.3 111.8 L396.1 114.7 L392.1 117.6 L387.4 120.6 L382.2 123.5 L376.4 126.4 L370.1 129.3 L363.6 132.2 L356.9 135.2 L350.1 138.1 L343.3 141.0 L336.7 143.9 L330.3 146.9 L324.3 149.8 L318.8 152.7 L313.8 155.6 L309.5 158.5 L306.0 161.5 L303.2 164.4 L301.3 167.3 L300.2 170.2 L300.0 173.2 L300.0 205.2 L300.2 202.2 L301.3 199.3 L303.2 196.4 L306.0 193.5 L309.5 190.5 L313.8 187.6 L318.8 184.7 L324.3 181.8 L330.3 178.9 L336.7 175.9 L343.3 173.0 L350.1 170.1 L356.9 167.2 L363.6 164.2 L370.1 161.3 L376.4 158.4 L382.2 155.5 L387.4 152.6 L392.1 149.6 L396.1 146.7 L399.3 143.8 L401.7 140.9 L403.3 137.9 L404.0 135.0Z" fill="#e0eaeb" stroke="#d6e0e1" stroke-width="0.8" stroke-linejoin="round" opacity="1.0"/>
<path d="M403.9 243.3 L403.2 246.2 L401.5 249.1 L399.1 252.1 L395.8 255.0 L391.7 257.9 L387.0 260.8 L381.7 263.7 L375.8 266.7 L369.6 269.6 L363.0 272.5 L356.3 275.4 L349.5 278.4 L342.7 281.3 L336.1 284.2 L329.7 287.1 L323.8 290.0 L318.3 293.0 L313.4 295.9 L309.2 298.8 L305.7 301.7 L303.0 304.6 L301.1 307.6 L300.2 310.5 L300.1 313.4 L300.1 345.4 L300.2 342.5 L301.1 339.6 L303.0 336.6 L305.7 333.7 L309.2 330.8 L313.4 327.9 L318.3 325.0 L323.8 322.0 L329.7 319.1 L336.1 316.2 L342.7 313.3 L349.5 310.4 L356.3 307.4 L363.0 304.5 L369.6 301.6 L375.8 298.7 L381.7 295.7 L387.0 292.8 L391.7 289.9 L395.8 287.0 L399.1 284.1 L401.5 281.1 L403.2 278.2 L403.9 275.3Z" fill="#e0eaeb" stroke="#d6e0e1" stroke-width="0.8" stroke-linejoin="round" opacity="1.0"/>
<path d="M403.9 383.5 L403.1 386.5 L401.4 389.4 L398.8 392.3 L395.4 395.2 L391.3 398.2 L386.5 401.1 L381.2 404.0 L381.2 436.0 L386.5 433.1 L391.3 430.2 L395.4 427.2 L398.8 424.3 L401.4 421.4 L403.1 418.5 L403.9 415.5Z" fill="#e0eaeb" stroke="#d6e0e1" stroke-width="0.8" stroke-linejoin="round" opacity="1.0"/>
<path d="M400.5 -46.0 L402.5 -43.1 L403.7 -40.2 L404.0 -37.2 L404.0 -5.2 L403.7 -8.2 L402.5 -11.1 L400.5 -14.0Z" fill="#eef5f5" stroke="#d6e0e1" stroke-width="0.8" stroke-linejoin="round" opacity="1.0"/>
<path d="M300.0 32.9 L300.7 35.8 L302.2 38.7 L304.6 41.7 L307.8 44.6 L311.7 47.5 L316.3 50.4 L321.6 53.4 L327.4 56.3 L333.6 59.2 L340.1 62.1 L346.8 65.0 L353.6 68.0 L360.4 70.9 L367.1 73.8 L373.4 76.7 L379.4 79.6 L385.0 82.6 L390.0 85.5 L394.3 88.4 L397.9 91.3 L400.7 94.3 L402.7 97.2 L403.8 100.1 L404.0 103.0 L404.0 135.0 L403.8 132.1 L402.7 129.2 L400.7 126.3 L397.9 123.3 L394.3 120.4 L390.0 117.5 L385.0 114.6 L379.4 111.6 L373.4 108.7 L367.1 105.8 L360.4 102.9 L353.6 100.0 L346.8 97.0 L340.1 94.1 L333.6 91.2 L327.4 88.3 L321.6 85.4 L316.3 82.4 L311.7 79.5 L307.8 76.6 L304.6 73.7 L302.2 70.7 L300.7 67.8 L300.0 64.9Z" fill="#eef5f5" stroke="#d6e0e1" stroke-width="0.8" stroke-linejoin="round" opacity="1.0"/>
<path d="M300.0 173.2 L300.8 176.1 L302.4 179.0 L304.8 181.9 L308.1 184.8 L312.1 187.8 L316.8 190.7 L322.1 193.6 L327.9 196.5 L334.1 199.5 L340.7 202.4 L347.4 205.3 L354.2 208.2 L361.0 211.1 L367.6 214.1 L374.0 217.0 L380.0 219.9 L385.4 222.8 L390.4 225.8 L394.6 228.7 L398.2 231.6 L400.9 234.5 L402.8 237.4 L403.8 240.4 L403.9 243.3 L403.9 275.3 L403.8 272.4 L402.8 269.4 L400.9 266.5 L398.2 263.6 L394.6 260.7 L390.4 257.8 L385.4 254.8 L380.0 251.9 L374.0 249.0 L367.6 246.1 L361.0 243.1 L354.2 240.2 L347.4 237.3 L340.7 234.4 L334.1 231.5 L327.9 228.5 L322.1 225.6 L316.8 222.7 L312.1 219.8 L308.1 216.8 L304.8 213.9 L302.4 211.0 L300.8 208.1 L300.0 205.2Z" fill="#eef5f5" stroke="#d6e0e1" stroke-width="0.8" stroke-linejoin="round" opacity="1.0"/>
<path d="M300.1 313.4 L300.9 316.3 L302.5 319.3 L305.1 322.2 L308.4 325.1 L312.5 328.0 L317.2 330.9 L322.6 333.9 L328.5 336.8 L334.7 339.7 L341.3 342.6 L348.0 345.6 L354.8 348.5 L361.6 351.4 L368.2 354.3 L374.5 357.2 L380.5 360.2 L385.9 363.1 L390.8 366.0 L395.0 368.9 L398.4 371.9 L401.1 374.8 L402.9 377.7 L403.9 380.6 L403.9 383.5 L403.9 415.5 L403.9 412.6 L402.9 409.7 L401.1 406.8 L398.4 403.9 L395.0 400.9 L390.8 398.0 L385.9 395.1 L380.5 392.2 L374.5 389.2 L368.2 386.3 L361.6 383.4 L354.8 380.5 L348.0 377.6 L341.3 374.6 L334.7 371.7 L328.5 368.8 L322.6 365.9 L317.2 362.9 L312.5 360.0 L308.4 357.1 L305.1 354.2 L302.5 351.3 L300.9 348.3 L300.1 345.4Z" fill="#eef5f5" stroke="#d6e0e1" stroke-width="0.8" stroke-linejoin="round" opacity="1.0"/>
<path d="M408.0 -31.2 L407.4 -28.3 L405.9 -25.4 L403.6 -22.5 L400.4 -19.5 L396.5 -16.6 L391.9 -13.7 L386.6 -10.8 L380.9 -7.9 L374.7 -4.9 L368.2 -2.0 L361.5 0.9 L354.7 3.8 L347.9 6.8 L341.2 9.7 L334.8 12.6 L328.8 15.5 L323.3 18.4 L318.3 21.4 L313.9 24.3 L310.3 27.2 L307.4 30.1 L305.4 33.1 L304.3 36.0 L304.0 38.9 L304.0 70.9 L304.3 68.0 L305.4 65.1 L307.4 62.1 L310.3 59.2 L313.9 56.3 L318.3 53.4 L323.3 50.4 L328.8 47.5 L334.8 44.6 L341.2 41.7 L347.9 38.8 L354.7 35.8 L361.5 32.9 L368.2 30.0 L374.7 27.1 L380.9 24.1 L386.6 21.2 L391.9 18.3 L396.5 15.4 L400.4 12.5 L403.6 9.5 L405.9 6.6 L407.4 3.7 L408.0 0.8Z" fill="#f0dcdc" opacity="0.35"/>
<path d="M408.0 109.0 L407.3 111.9 L405.7 114.9 L403.3 117.8 L400.1 120.7 L396.1 123.6 L391.4 126.6 L386.2 129.5 L380.4 132.4 L374.1 135.3 L367.6 138.2 L360.9 141.2 L354.1 144.1 L347.3 147.0 L340.7 149.9 L334.3 152.9 L328.3 155.8 L322.8 158.7 L317.8 161.6 L313.5 164.5 L310.0 167.5 L307.2 170.4 L305.3 173.3 L304.2 176.2 L304.0 179.2 L304.0 211.2 L304.2 208.2 L305.3 205.3 L307.2 202.4 L310.0 199.5 L313.5 196.5 L317.8 193.6 L322.8 190.7 L328.3 187.8 L334.3 184.9 L340.7 181.9 L347.3 179.0 L354.1 176.1 L360.9 173.2 L367.6 170.2 L374.1 167.3 L380.4 164.4 L386.2 161.5 L391.4 158.6 L396.1 155.6 L400.1 152.7 L403.3 149.8 L405.7 146.9 L407.3 143.9 L408.0 141.0Z" fill="#f0dcdc" opacity="0.35"/>
<path d="M407.9 249.3 L407.2 252.2 L405.5 255.1 L403.1 258.1 L399.8 261.0 L395.7 263.9 L391.0 266.8 L385.7 269.7 L379.8 272.7 L373.6 275.6 L367.0 278.5 L360.3 281.4 L353.5 284.4 L346.7 287.3 L340.1 290.2 L333.7 293.1 L327.8 296.0 L322.3 299.0 L317.4 301.9 L313.2 304.8 L309.7 307.7 L307.0 310.6 L305.1 313.6 L304.2 316.5 L304.1 319.4 L304.1 351.4 L304.2 348.5 L305.1 345.6 L307.0 342.6 L309.7 339.7 L313.2 336.8 L317.4 333.9 L322.3 331.0 L327.8 328.0 L333.7 325.1 L340.1 322.2 L346.7 319.3 L353.5 316.4 L360.3 313.4 L367.0 310.5 L373.6 307.6 L379.8 304.7 L385.7 301.7 L391.0 298.8 L395.7 295.9 L399.8 293.0 L403.1 290.1 L405.5 287.1 L407.2 284.2 L407.9 281.3Z" fill="#f0dcdc" opacity="0.35"/>
<path d="M407.9 389.5 L407.1 392.5 L405.4 395.4 L402.8 398.3 L399.4 401.2 L395.3 404.2 L390.5 407.1 L385.2 410.0 L385.2 442.0 L390.5 439.1 L395.3 436.2 L399.4 433.2 L402.8 430.3 L405.4 427.4 L407.1 424.5 L407.9 421.5Z" fill="#f0dcdc" opacity="0.35"/>
<path d="M404.5 -40.0 L406.5 -37.1 L407.7 -34.2 L408.0 -31.2 L408.0 0.8 L407.7 -2.2 L406.5 -5.1 L404.5 -8.0Z" fill="#f8e6e7" opacity="0.35"/>
<path d="M304.0 38.9 L304.7 41.8 L306.2 44.7 L308.6 47.7 L311.8 50.6 L315.7 53.5 L320.3 56.4 L325.6 59.4 L331.4 62.3 L337.6 65.2 L344.1 68.1 L350.8 71.0 L357.6 74.0 L364.4 76.9 L371.1 79.8 L377.4 82.7 L383.4 85.6 L389.0 88.6 L394.0 91.5 L398.3 94.4 L401.9 97.3 L404.7 100.3 L406.7 103.2 L407.8 106.1 L408.0 109.0 L408.0 141.0 L407.8 138.1 L406.7 135.2 L404.7 132.3 L401.9 129.3 L398.3 126.4 L394.0 123.5 L389.0 120.6 L383.4 117.6 L377.4 114.7 L371.1 111.8 L364.4 108.9 L357.6 106.0 L350.8 103.0 L344.1 100.1 L337.6 97.2 L331.4 94.3 L325.6 91.4 L320.3 88.4 L315.7 85.5 L311.8 82.6 L308.6 79.7 L306.2 76.7 L304.7 73.8 L304.0 70.9Z" fill="#f8e6e7" opacity="0.35"/>
<path d="M304.0 179.2 L304.8 182.1 L306.4 185.0 L308.8 187.9 L312.1 190.8 L316.1 193.8 L320.8 196.7 L326.1 199.6 L331.9 202.5 L338.1 205.5 L344.7 208.4 L351.4 211.3 L358.2 214.2 L365.0 217.1 L371.6 220.1 L378.0 223.0 L384.0 225.9 L389.4 228.8 L394.4 231.8 L398.6 234.7 L402.2 237.6 L404.9 240.5 L406.8 243.4 L407.8 246.4 L407.9 249.3 L407.9 281.3 L407.8 278.4 L406.8 275.4 L404.9 272.5 L402.2 269.6 L398.6 266.7 L394.4 263.8 L389.4 260.8 L384.0 257.9 L378.0 255.0 L371.6 252.1 L365.0 249.1 L358.2 246.2 L351.4 243.3 L344.7 240.4 L338.1 237.5 L331.9 234.5 L326.1 231.6 L320.8 228.7 L316.1 225.8 L312.1 222.8 L308.8 219.9 L306.4 217.0 L304.8 214.1 L304.0 211.2Z" fill="#f8e6e7" opacity="0.35"/>
<path d="M304.1 319.4 L304.9 322.3 L306.5 325.3 L309.1 328.2 L312.4 331.1 L316.5 334.0 L321.2 336.9 L326.6 339.9 L332.5 342.8 L338.7 345.7 L345.3 348.6 L352.0 351.6 L358.8 354.5 L365.6 357.4 L372.2 360.3 L378.5 363.2 L384.5 366.2 L389.9 369.1 L394.8 372.0 L399.0 374.9 L402.4 377.9 L405.1 380.8 L406.9 383.7 L407.9 386.6 L407.9 389.5 L407.9 421.5 L407.9 418.6 L406.9 415.7 L405.1 412.8 L402.4 409.9 L399.0 406.9 L394.8 404.0 L389.9 401.1 L384.5 398.2 L378.5 395.2 L372.2 392.3 L365.6 389.4 L358.8 386.5 L352.0 383.6 L345.3 380.6 L338.7 377.7 L332.5 374.8 L326.6 371.9 L321.2 368.9 L316.5 366.0 L312.4 363.1 L309.1 360.2 L306.5 357.3 L304.9 354.3 L304.1 351.4Z" fill="#f8e6e7" opacity="0.35"/>
<path d="M465.6 -44.0 L461.0 -41.1 L456.0 -38.2 L450.9 -35.2 L445.7 -32.3 L440.4 -29.4 L435.3 -26.5 L430.3 -23.5 L425.6 -20.6 L421.2 -17.7 L417.2 -14.8 L413.6 -11.9 L410.7 -8.9 L408.3 -6.0 L406.5 -3.1 L405.4 -0.2 L405.0 2.8 L405.3 5.7 L405.3 33.7 L405.0 30.8 L405.4 27.8 L406.5 24.9 L408.3 22.0 L410.7 19.1 L413.6 16.1 L417.2 13.2 L421.2 10.3 L425.6 7.4 L430.3 4.5 L435.3 1.5 L440.4 -1.4 L445.7 -4.3 L450.9 -7.2 L456.0 -10.2 L461.0 -13.1 L465.6 -16.0Z" fill="#e3ebeb" stroke="#d8e2e2" stroke-width="0.8" stroke-linejoin="round" opacity="1.0"/>
<path d="M484.7 75.8 L483.7 78.7 L482.1 81.6 L479.8 84.6 L476.9 87.5 L473.5 90.4 L469.6 93.3 L465.2 96.3 L460.5 99.2 L455.6 102.1 L450.4 105.0 L445.2 107.9 L440.0 110.9 L434.8 113.8 L429.9 116.7 L425.2 119.6 L420.8 122.6 L416.8 125.5 L413.4 128.4 L410.4 131.3 L408.1 134.2 L406.4 137.2 L405.4 140.1 L405.0 143.0 L405.3 145.9 L405.3 173.9 L405.0 171.0 L405.4 168.1 L406.4 165.2 L408.1 162.2 L410.4 159.3 L413.4 156.4 L416.8 153.5 L420.8 150.6 L425.2 147.6 L429.9 144.7 L434.8 141.8 L440.0 138.9 L445.2 135.9 L450.4 133.0 L455.6 130.1 L460.5 127.2 L465.2 124.3 L469.6 121.3 L473.5 118.4 L476.9 115.5 L479.8 112.6 L482.1 109.6 L483.7 106.7 L484.7 103.8Z" fill="#e3ebeb" stroke="#d8e2e2" stroke-width="0.8" stroke-linejoin="round" opacity="1.0"/>
<path d="M485.0 213.1 L484.6 216.1 L483.6 219.0 L481.9 221.9 L479.6 224.8 L476.6 227.8 L473.1 230.7 L469.2 233.6 L464.8 236.5 L460.1 239.4 L455.1 242.4 L450.0 245.3 L444.7 248.2 L439.5 251.1 L434.4 254.1 L429.4 257.0 L424.7 259.9 L420.4 262.8 L416.5 265.7 L413.1 268.7 L410.2 271.6 L407.9 274.5 L406.3 277.4 L405.3 280.4 L405.0 283.3 L405.0 311.3 L405.3 308.4 L406.3 305.4 L407.9 302.5 L410.2 299.6 L413.1 296.7 L416.5 293.7 L420.4 290.8 L424.7 287.9 L429.4 285.0 L434.4 282.1 L439.5 279.1 L444.7 276.2 L450.0 273.3 L455.1 270.4 L460.1 267.4 L464.8 264.5 L469.2 261.6 L473.1 258.7 L476.6 255.8 L479.6 252.8 L481.9 249.9 L483.6 247.0 L484.6 244.1 L485.0 241.1Z" fill="#e3ebeb" stroke="#d8e2e2" stroke-width="0.8" stroke-linejoin="round" opacity="1.0"/>
<path d="M485.0 353.4 L484.6 356.3 L483.5 359.2 L481.7 362.2 L479.3 365.1 L476.3 368.0 L472.8 370.9 L468.8 373.9 L464.4 376.8 L459.7 379.7 L454.7 382.6 L449.5 385.5 L444.3 388.5 L439.1 391.4 L433.9 394.3 L429.0 397.2 L424.3 400.2 L420.0 403.1 L416.2 406.0 L416.2 434.0 L420.0 431.1 L424.3 428.2 L429.0 425.2 L433.9 422.3 L439.1 419.4 L444.3 416.5 L449.5 413.5 L454.7 410.6 L459.7 407.7 L464.4 404.8 L468.8 401.9 L472.8 398.9 L476.3 396.0 L479.3 393.1 L481.7 390.2 L483.5 387.2 L484.6 384.3 L485.0 381.4Z" fill="#e3ebeb" stroke="#d8e2e2" stroke-width="0.8" stroke-linejoin="round" opacity="1.0"/>
<path d="M405.3 5.7 L406.2 8.6 L407.8 11.5 L410.1 14.4 L413.0 17.4 L416.4 20.3 L420.3 23.2 L424.6 26.1 L429.3 29.1 L434.2 32.0 L439.3 34.9 L444.6 37.8 L449.8 40.7 L454.9 43.7 L459.9 46.6 L464.6 49.5 L469.0 52.4 L473.0 55.4 L476.5 58.3 L479.5 61.2 L481.8 64.1 L483.5 67.0 L484.6 70.0 L485.0 72.9 L484.7 75.8 L484.7 103.8 L485.0 100.9 L484.6 98.0 L483.5 95.0 L481.8 92.1 L479.5 89.2 L476.5 86.3 L473.0 83.4 L469.0 80.4 L464.6 77.5 L459.9 74.6 L454.9 71.7 L449.8 68.7 L444.6 65.8 L439.3 62.9 L434.2 60.0 L429.3 57.1 L424.6 54.1 L420.3 51.2 L416.4 48.3 L413.0 45.4 L410.1 42.4 L407.8 39.5 L406.2 36.6 L405.3 33.7Z" fill="#eef4f4" stroke="#d8e2e2" stroke-width="0.8" stroke-linejoin="round" opacity="1.0"/>
<path d="M405.3 145.9 L406.3 148.9 L408.0 151.8 L410.3 154.7 L413.2 157.6 L416.7 160.5 L420.6 163.5 L425.0 166.4 L429.7 169.3 L434.6 172.2 L439.8 175.2 L445.0 178.1 L450.2 181.0 L455.4 183.9 L460.4 186.8 L465.0 189.8 L469.4 192.7 L473.3 195.6 L476.8 198.5 L479.7 201.5 L482.0 204.4 L483.7 207.3 L484.7 210.2 L485.0 213.1 L485.0 241.1 L484.7 238.2 L483.7 235.3 L482.0 232.4 L479.7 229.5 L476.8 226.5 L473.3 223.6 L469.4 220.7 L465.0 217.8 L460.4 214.8 L455.4 211.9 L450.2 209.0 L445.0 206.1 L439.8 203.2 L434.6 200.2 L429.7 197.3 L425.0 194.4 L420.6 191.5 L416.7 188.5 L413.2 185.6 L410.3 182.7 L408.0 179.8 L406.3 176.9 L405.3 173.9Z" fill="#eef4f4" stroke="#d8e2e2" stroke-width="0.8" stroke-linejoin="round" opacity="1.0"/>
<path d="M405.0 283.3 L405.4 286.2 L406.5 289.1 L408.2 292.0 L410.6 295.0 L413.5 297.9 L417.0 300.8 L421.0 303.7 L425.4 306.6 L430.1 309.6 L435.1 312.5 L440.3 315.4 L445.5 318.3 L450.7 321.3 L455.8 324.2 L460.8 327.1 L465.5 330.0 L469.8 332.9 L473.7 335.9 L477.1 338.8 L479.9 341.7 L482.2 344.6 L483.8 347.6 L484.7 350.5 L485.0 353.4 L485.0 381.4 L484.7 378.5 L483.8 375.6 L482.2 372.6 L479.9 369.7 L477.1 366.8 L473.7 363.9 L469.8 360.9 L465.5 358.0 L460.8 355.1 L455.8 352.2 L450.7 349.3 L445.5 346.3 L440.3 343.4 L435.1 340.5 L430.1 337.6 L425.4 334.6 L421.0 331.7 L417.0 328.8 L413.5 325.9 L410.6 323.0 L408.2 320.0 L406.5 317.1 L405.4 314.2 L405.0 311.3Z" fill="#eef4f4" stroke="#d8e2e2" stroke-width="0.8" stroke-linejoin="round" opacity="1.0"/>
<path d="M315 290 C 340 300, 380 315, 388 340 C 392 360, 380 375, 370 384" fill="none" stroke="#f7e6e8" stroke-width="26" stroke-linecap="round" stroke-linejoin="round" opacity="0.8"/>
<path d="M330 0 C 345 10, 365 25, 372 40" fill="none" stroke="#f4dfe1" stroke-width="20" stroke-linecap="round" stroke-linejoin="round" opacity="0.9"/>
<path d="M395 0 C 410 20, 425 30, 431 35" fill="none" stroke="#e0eaea" stroke-width="20" stroke-linecap="round" stroke-linejoin="round" />
<path d="M121.5 61.0 L146.5 73.0 L144.5 97.0 L119.5 100.0 L107.5 77.0 Z" fill="none" stroke="#d58f92" stroke-width="7.5" stroke-linecap="round" stroke-linejoin="round" />
<path d="M118.0 62.0 L143.0 74.0 L141.0 98.0 L116.0 101.0 L104.0 78.0 Z" fill="none" stroke="#7fd67f" stroke-width="7.5" stroke-linecap="round" stroke-linejoin="round" />
<path d="M121.0 63.0 L146.0 75.0 L144.0 99.0 L119.0 102.0 L107.0 79.0 Z" fill="none" stroke="#2b8f8f" stroke-width="7.5" stroke-linecap="round" stroke-linejoin="round" />
<path d="M122.0 63.0 L147.0 75.0 L145.0 99.0 L120.0 102.0 L108.0 79.0 Z" fill="none" stroke="#d3f0f2" stroke-width="7.5" stroke-linecap="round" stroke-linejoin="round" />
<path d="M104 78 L120 68 L119 90 Z" fill="#6a70d0" stroke="#6a70d0" stroke-width="5" stroke-linecap="round" stroke-linejoin="round" />
<path d="M225.0 58 L217.0 78 L232.0 95 M217.0 78 L191.0 80" fill="none" stroke="#d58f92" stroke-width="7.5" stroke-linecap="round" stroke-linejoin="round" />
<path d="M226.0 58 L218.0 78 L233.0 95 M218.0 78 L192.0 80" fill="none" stroke="#2b8f8f" stroke-width="7.5" stroke-linecap="round" stroke-linejoin="round" />
<path d="M228.0 58 L220.0 78 L235.0 95 M220.0 78 L194.0 80" fill="none" stroke="#d3f0f2" stroke-width="7.5" stroke-linecap="round" stroke-linejoin="round" />
<path d="M164.0 95.0 L184.0 87.0 L203.0 98.0 L202.0 115.0 L182.0 123.0 L164.0 112.0 Z" fill="none" stroke="#d58f92" stroke-width="7.5" stroke-linecap="round" stroke-linejoin="round" />
<path d="M168.0 94.0 L188.0 86.0 L207.0 97.0 L206.0 114.0 L186.0 122.0 L168.0 111.0 Z" fill="none" stroke="#2b8f8f" stroke-width="7.5" stroke-linecap="round" stroke-linejoin="round" />
<path d="M163.0 93.0 L183.0 85.0 L202.0 96.0 L201.0 113.0 L181.0 121.0 L163.0 110.0 Z" fill="none" stroke="#7fd67f" stroke-width="7.5" stroke-linecap="round" stroke-linejoin="round" />
<path d="M169.0 96.0 L189.0 88.0 L208.0 99.0 L207.0 116.0 L187.0 124.0 L169.0 113.0 Z" fill="none" stroke="#d3f0f2" stroke-width="7.5" stroke-linecap="round" stroke-linejoin="round" />
<path d="M188 118 L184 136" fill="none" stroke="#2b7f7f" stroke-width="8" stroke-linecap="round" stroke-linejoin="round" />
<path d="M192 118 L192 130" fill="none" stroke="#d3f0f2" stroke-width="7.5" stroke-linecap="round" stroke-linejoin="round" />
<circle cx="196" cy="127" r="4" fill="#7fd67f"/>
<path d="M98.0 174.0 L128.0 162.0 L150.0 164.0" fill="none" stroke="#d58f92" stroke-width="7.5" stroke-linecap="round" stroke-linejoin="round" />
<path d="M92.0 184.0 L122.0 172.0 L144.0 174.0" fill="none" stroke="#7fd67f" stroke-width="7.5" stroke-linecap="round" stroke-linejoin="round" />
<path d="M98.0 182.0 L128.0 170.0 L150.0 172.0" fill="none" stroke="#2b8f8f" stroke-width="7.5" stroke-linecap="round" stroke-linejoin="round" />
<path d="M100.0 187.5 L130.0 175.5 L152.0 177.5" fill="none" stroke="#d3f0f2" stroke-width="7.5" stroke-linecap="round" stroke-linejoin="round" />
<circle cx="163" cy="165" r="11" fill="#7ee07e"/>
<circle cx="158" cy="180" r="11" fill="#f1aaaa"/>
<circle cx="172" cy="180" r="12" fill="#d6f2f4"/>
<path d="M130 160 L147 156" fill="none" stroke="#b8a040" stroke-width="7.5" stroke-linecap="round" stroke-linejoin="round" />
<path d="M110.0 256.0 L135.0 246.0 L160.0 251.0 L162.0 266.0 L137.0 276.0 L112.0 270.0 Z" fill="none" stroke="#e39a9a" stroke-width="7.5" stroke-linecap="round" stroke-linejoin="round" />
<path d="M110.0 266.0 L82.0 278.0" fill="none" stroke="#e39a9a" stroke-width="7.5" stroke-linecap="round" stroke-linejoin="round" />
<path d="M110.0 248.0 L135.0 238.0 L160.0 243.0 L162.0 258.0 L137.0 268.0 L112.0 262.0 Z" fill="none" stroke="#2b8f8f" stroke-width="7.5" stroke-linecap="round" stroke-linejoin="round" />
<path d="M110.0 258.0 L82.0 270.0" fill="none" stroke="#2b8f8f" stroke-width="7.5" stroke-linecap="round" stroke-linejoin="round" />
<path d="M112.0 252.0 L137.0 242.0 L162.0 247.0 L164.0 262.0 L139.0 272.0 L114.0 266.0 Z" fill="none" stroke="#7fd67f" stroke-width="7.5" stroke-linecap="round" stroke-linejoin="round" />
<path d="M112.0 262.0 L84.0 274.0" fill="none" stroke="#7fd67f" stroke-width="7.5" stroke-linecap="round" stroke-linejoin="round" />
<path d="M114.0 244.0 L139.0 234.0 L164.0 239.0 L166.0 254.0 L141.0 264.0 L116.0 258.0 Z" fill="none" stroke="#d3f0f2" stroke-width="7.5" stroke-linecap="round" stroke-linejoin="round" />
<path d="M114.0 254.0 L86.0 266.0" fill="none" stroke="#d3f0f2" stroke-width="7.5" stroke-linecap="round" stroke-linejoin="round" />
<path d="M160 243 L185 237" fill="none" stroke="#e05050" stroke-width="7.5" stroke-linecap="round" stroke-linejoin="round" />
<path d="M162 256 L180 256" fill="none" stroke="#e06060" stroke-width="7.5" stroke-linecap="round" stroke-linejoin="round" />
<path d="M236.0 217.0 L258.0 219.0 L280.0 235.0 L286.0 253.0 L264.0 249.0 L242.0 233.0 Z" fill="none" stroke="#e39a9a" stroke-width="7.5" stroke-linecap="round" stroke-linejoin="round" />
<path d="M286.0 253.0 L298.0 270.0" fill="none" stroke="#e39a9a" stroke-width="7.5" stroke-linecap="round" stroke-linejoin="round" />
<path d="M238.0 214.0 L260.0 216.0 L282.0 232.0 L288.0 250.0 L266.0 246.0 L244.0 230.0 Z" fill="none" stroke="#7fd67f" stroke-width="7.5" stroke-linecap="round" stroke-linejoin="round" />
<path d="M288.0 250.0 L300.0 267.0" fill="none" stroke="#7fd67f" stroke-width="7.5" stroke-linecap="round" stroke-linejoin="round" />
<path d="M244.0 212.0 L266.0 214.0 L288.0 230.0 L294.0 248.0 L272.0 244.0 L250.0 228.0 Z" fill="none" stroke="#d3f0f2" stroke-width="7.5" stroke-linecap="round" stroke-linejoin="round" />
<path d="M294.0 248.0 L306.0 265.0" fill="none" stroke="#d3f0f2" stroke-width="7.5" stroke-linecap="round" stroke-linejoin="round" />
<path d="M241.0 208.0 L263.0 210.0 L285.0 226.0 L291.0 244.0 L269.0 240.0 L247.0 224.0 Z" fill="none" stroke="#2b8585" stroke-width="7.5" stroke-linecap="round" stroke-linejoin="round" />
<path d="M291.0 244.0 L303.0 261.0" fill="none" stroke="#2b8585" stroke-width="7.5" stroke-linecap="round" stroke-linejoin="round" />
<path d="M222 202 L238 212" fill="none" stroke="#e04848" stroke-width="7" stroke-linecap="round" stroke-linejoin="round" />
<path d="M172.0 309.0 L200.0 302.0 L225.0 300.0" fill="none" stroke="#e39a9a" stroke-width="7" stroke-linecap="round" stroke-linejoin="round" />
<path d="M174.0 307.0 L202.0 300.0 L227.0 298.0" fill="none" stroke="#2b8f8f" stroke-width="7" stroke-linecap="round" stroke-linejoin="round" />
<path d="M170.0 310.0 L198.0 303.0 L223.0 301.0" fill="none" stroke="#7fd67f" stroke-width="7" stroke-linecap="round" stroke-linejoin="round" />
<path d="M205 284 L235 288 L252 295 M215 296 L250 298" fill="none" stroke="#4a4ad8" stroke-width="8" stroke-linecap="round" stroke-linejoin="round" />
<path d="M232 288 L246 292" fill="none" stroke="#2b8f8f" stroke-width="7.5" stroke-linecap="round" stroke-linejoin="round" />
</g>
<text x="57" y="51.8" font-size="24" font-weight="bold" fill="#000">P198<tspan font-size="15" dy="-10">5.50</tspan></text>
<text x="195" y="48.3" font-size="24" font-weight="bold" fill="#000">V111<tspan font-size="15" dy="-10">3.40</tspan></text>
<text x="220" y="133" font-size="24" font-weight="bold" fill="#000">F396<tspan font-size="15" dy="-10">6.44</tspan></text>
<text x="29" y="181" font-size="25" font-weight="bold" fill="#000">TM5</text>
<text x="194" y="178" font-size="24" font-weight="bold" fill="#000">M202<tspan font-size="15" dy="-10">5.54</tspan></text>
<text x="324.6" y="202" font-size="25" font-weight="bold" fill="#000">TM7</text>
<text x="62" y="229.6" font-size="24" font-weight="bold" fill="#000">Y206<tspan font-size="15" dy="-10">5.58</tspan></text>
<text x="324.6" y="257" font-size="24" font-weight="bold" fill="#000">Y440<tspan font-size="15" dy="-10">7.53</tspan></text>
<text x="266" y="307.3" font-size="24" font-weight="bold" fill="#000">R121<tspan font-size="15" dy="-10">3.50</tspan></text>
<text x="110.5" y="336.7" font-size="25" font-weight="bold" fill="#000">TM6</text>
<text x="196.5" y="358" font-size="17" fill="#1e9e64" textLength="103" lengthAdjust="spacing">M2R-ACh-S1</text>
<text x="196.5" y="385" font-size="17" fill="#cc5c6c" textLength="200" lengthAdjust="spacing">M2R-ACh-LY2119620-S1</text>
<text x="196.5" y="410" font-size="17" fill="#74b8c6" textLength="105" lengthAdjust="spacing">M2R-ACh-S2</text>
<text x="196.5" y="437" font-size="17" fill="#0e6e5c" textLength="203" lengthAdjust="spacing">M2R-ACh-LY2119620-S2</text>
<ellipse cx="152.0" cy="502.0" rx="26" ry="23" fill="none" stroke="#f0a0a0" stroke-width="4.5" opacity="0.10" transform="rotate(0 152.0 502.0)"/>
<ellipse cx="154.0" cy="502.0" rx="26" ry="23" fill="none" stroke="#8ee08e" stroke-width="4.5" opacity="0.10" transform="rotate(0 152.0 502.0)"/>
<ellipse cx="156.0" cy="502.0" rx="26" ry="23" fill="none" stroke="#cfeef2" stroke-width="4.5" opacity="0.10" transform="rotate(0 152.0 502.0)"/>
<ellipse cx="146.0" cy="496.0" rx="26" ry="23" fill="none" stroke="#f0a0a0" stroke-width="4.5" opacity="0.19" transform="rotate(0 146.0 496.0)"/>
<ellipse cx="148.0" cy="496.0" rx="26" ry="23" fill="none" stroke="#8ee08e" stroke-width="4.5" opacity="0.19" transform="rotate(0 146.0 496.0)"/>
<ellipse cx="150.0" cy="496.0" rx="26" ry="23" fill="none" stroke="#cfeef2" stroke-width="4.5" opacity="0.19" transform="rotate(0 146.0 496.0)"/>
<ellipse cx="140.0" cy="490.0" rx="26" ry="23" fill="none" stroke="#f0a0a0" stroke-width="4.5" opacity="0.28" transform="rotate(0 140.0 490.0)"/>
<ellipse cx="142.0" cy="490.0" rx="26" ry="23" fill="none" stroke="#8ee08e" stroke-width="4.5" opacity="0.28" transform="rotate(0 140.0 490.0)"/>
<ellipse cx="144.0" cy="490.0" rx="26" ry="23" fill="none" stroke="#cfeef2" stroke-width="4.5" opacity="0.28" transform="rotate(0 140.0 490.0)"/>
<ellipse cx="134.0" cy="484.0" rx="26" ry="23" fill="none" stroke="#f0a0a0" stroke-width="4.5" opacity="0.37" transform="rotate(0 134.0 484.0)"/>
<ellipse cx="136.0" cy="484.0" rx="26" ry="23" fill="none" stroke="#8ee08e" stroke-width="4.5" opacity="0.37" transform="rotate(0 134.0 484.0)"/>
<ellipse cx="138.0" cy="484.0" rx="26" ry="23" fill="none" stroke="#cfeef2" stroke-width="4.5" opacity="0.37" transform="rotate(0 134.0 484.0)"/>
<ellipse cx="128.0" cy="478.0" rx="26" ry="23" fill="none" stroke="#f0a0a0" stroke-width="4.5" opacity="0.46" transform="rotate(0 128.0 478.0)"/>
<ellipse cx="130.0" cy="478.0" rx="26" ry="23" fill="none" stroke="#8ee08e" stroke-width="4.5" opacity="0.46" transform="rotate(0 128.0 478.0)"/>
<ellipse cx="132.0" cy="478.0" rx="26" ry="23" fill="none" stroke="#cfeef2" stroke-width="4.5" opacity="0.46" transform="rotate(0 128.0 478.0)"/>
<ellipse cx="118.2" cy="469.8" rx="26" ry="23" fill="none" stroke="#f0a0a0" stroke-width="4.5" transform="rotate(0 122.0 472.0)"/>
<ellipse cx="120.8" cy="471.2" rx="26" ry="23" fill="none" stroke="#8ee08e" stroke-width="4.5" transform="rotate(0 122.0 472.0)"/>
<ellipse cx="123.2" cy="472.8" rx="26" ry="23" fill="none" stroke="#cfeef2" stroke-width="4.5" transform="rotate(0 122.0 472.0)"/>
<ellipse cx="125.8" cy="474.2" rx="26" ry="23" fill="none" stroke="#2f8c8c" stroke-width="4.5" transform="rotate(0 122.0 472.0)"/>
<path d="M116 470 C 112 450, 125 425, 145 402" fill="none" stroke="#2f8c8c" stroke-width="4.5" stroke-linecap="round" stroke-linejoin="round" />
<path d="M124 468 C 122 450, 132 430, 143 415" fill="none" stroke="#cfeef2" stroke-width="3.5" stroke-linecap="round" stroke-linejoin="round" />
<path d="M130 470 C 130 445, 150 430, 168 428 C 176 425, 178 420, 170 388" fill="none" stroke="#f0a0a0" stroke-width="3.5" stroke-linecap="round" stroke-linejoin="round" />
<path d="M134 472 C 134 448, 156 432, 175 430 C 184 427, 186 420, 185 394" fill="none" stroke="#8ee08e" stroke-width="3.5" stroke-linecap="round" stroke-linejoin="round" />
<ellipse cx="85.0" cy="563.0" rx="25" ry="22" fill="none" stroke="#f0a0a0" stroke-width="4.5" opacity="0.10" transform="rotate(0 85.0 563.0)"/>
<ellipse cx="87.0" cy="563.0" rx="25" ry="22" fill="none" stroke="#8ee08e" stroke-width="4.5" opacity="0.10" transform="rotate(0 85.0 563.0)"/>
<ellipse cx="89.0" cy="563.0" rx="25" ry="22" fill="none" stroke="#cfeef2" stroke-width="4.5" opacity="0.10" transform="rotate(0 85.0 563.0)"/>
<ellipse cx="80.0" cy="556.0" rx="25" ry="22" fill="none" stroke="#f0a0a0" stroke-width="4.5" opacity="0.19" transform="rotate(0 80.0 556.0)"/>
<ellipse cx="82.0" cy="556.0" rx="25" ry="22" fill="none" stroke="#8ee08e" stroke-width="4.5" opacity="0.19" transform="rotate(0 80.0 556.0)"/>
<ellipse cx="84.0" cy="556.0" rx="25" ry="22" fill="none" stroke="#cfeef2" stroke-width="4.5" opacity="0.19" transform="rotate(0 80.0 556.0)"/>
<ellipse cx="75.0" cy="549.0" rx="25" ry="22" fill="none" stroke="#f0a0a0" stroke-width="4.5" opacity="0.28" transform="rotate(0 75.0 549.0)"/>
<ellipse cx="77.0" cy="549.0" rx="25" ry="22" fill="none" stroke="#8ee08e" stroke-width="4.5" opacity="0.28" transform="rotate(0 75.0 549.0)"/>
<ellipse cx="79.0" cy="549.0" rx="25" ry="22" fill="none" stroke="#cfeef2" stroke-width="4.5" opacity="0.28" transform="rotate(0 75.0 549.0)"/>
<ellipse cx="70.0" cy="542.0" rx="25" ry="22" fill="none" stroke="#f0a0a0" stroke-width="4.5" opacity="0.37" transform="rotate(0 70.0 542.0)"/>
<ellipse cx="72.0" cy="542.0" rx="25" ry="22" fill="none" stroke="#8ee08e" stroke-width="4.5" opacity="0.37" transform="rotate(0 70.0 542.0)"/>
<ellipse cx="74.0" cy="542.0" rx="25" ry="22" fill="none" stroke="#cfeef2" stroke-width="4.5" opacity="0.37" transform="rotate(0 70.0 542.0)"/>
<ellipse cx="65.0" cy="535.0" rx="25" ry="22" fill="none" stroke="#f0a0a0" stroke-width="4.5" opacity="0.46" transform="rotate(0 65.0 535.0)"/>
<ellipse cx="67.0" cy="535.0" rx="25" ry="22" fill="none" stroke="#8ee08e" stroke-width="4.5" opacity="0.46" transform="rotate(0 65.0 535.0)"/>
<ellipse cx="69.0" cy="535.0" rx="25" ry="22" fill="none" stroke="#cfeef2" stroke-width="4.5" opacity="0.46" transform="rotate(0 65.0 535.0)"/>
<ellipse cx="56.2" cy="525.8" rx="25" ry="22" fill="none" stroke="#f0a0a0" stroke-width="4.5" transform="rotate(0 60.0 528.0)"/>
<ellipse cx="58.8" cy="527.2" rx="25" ry="22" fill="none" stroke="#8ee08e" stroke-width="4.5" transform="rotate(0 60.0 528.0)"/>
<ellipse cx="61.2" cy="528.8" rx="25" ry="22" fill="none" stroke="#cfeef2" stroke-width="4.5" transform="rotate(0 60.0 528.0)"/>
<ellipse cx="63.8" cy="530.2" rx="25" ry="22" fill="none" stroke="#2f8c8c" stroke-width="4.5" transform="rotate(0 60.0 528.0)"/>
<path d="M48 520 C 35 505, 25 495, 18 488" fill="none" stroke="#8ee08e" stroke-width="4" stroke-linecap="round" stroke-linejoin="round" />
<path d="M40 510 L 41 462" fill="none" stroke="#f0a0a0" stroke-width="3.5" stroke-linecap="round" stroke-linejoin="round" />
<path d="M50 520 C 45 500, 50 495, 55 500" fill="none" stroke="#2f8c8c" stroke-width="4" stroke-linecap="round" stroke-linejoin="round" />
<path d="M60 520 C 55 505, 58 495, 62 505" fill="none" stroke="#cfeef2" stroke-width="4" stroke-linecap="round" stroke-linejoin="round" />
<ellipse cx="209.0" cy="539.0" rx="25" ry="23" fill="none" stroke="#f0a0a0" stroke-width="4.5" opacity="0.10" transform="rotate(0 209.0 539.0)"/>
<ellipse cx="211.0" cy="539.0" rx="25" ry="23" fill="none" stroke="#cfeef2" stroke-width="4.5" opacity="0.10" transform="rotate(0 209.0 539.0)"/>
<ellipse cx="213.0" cy="539.0" rx="25" ry="23" fill="none" stroke="#8ee08e" stroke-width="4.5" opacity="0.10" transform="rotate(0 209.0 539.0)"/>
<ellipse cx="213.0" cy="536.0" rx="25" ry="23" fill="none" stroke="#f0a0a0" stroke-width="4.5" opacity="0.19" transform="rotate(0 213.0 536.0)"/>
<ellipse cx="215.0" cy="536.0" rx="25" ry="23" fill="none" stroke="#cfeef2" stroke-width="4.5" opacity="0.19" transform="rotate(0 213.0 536.0)"/>
<ellipse cx="217.0" cy="536.0" rx="25" ry="23" fill="none" stroke="#8ee08e" stroke-width="4.5" opacity="0.19" transform="rotate(0 213.0 536.0)"/>
<ellipse cx="217.0" cy="533.0" rx="25" ry="23" fill="none" stroke="#f0a0a0" stroke-width="4.5" opacity="0.28" transform="rotate(0 217.0 533.0)"/>
<ellipse cx="219.0" cy="533.0" rx="25" ry="23" fill="none" stroke="#cfeef2" stroke-width="4.5" opacity="0.28" transform="rotate(0 217.0 533.0)"/>
<ellipse cx="221.0" cy="533.0" rx="25" ry="23" fill="none" stroke="#8ee08e" stroke-width="4.5" opacity="0.28" transform="rotate(0 217.0 533.0)"/>
<ellipse cx="217.2" cy="527.8" rx="25" ry="23" fill="none" stroke="#f0a0a0" stroke-width="4.5" transform="rotate(0 221.0 530.0)"/>
<ellipse cx="219.8" cy="529.2" rx="25" ry="23" fill="none" stroke="#cfeef2" stroke-width="4.5" transform="rotate(0 221.0 530.0)"/>
<ellipse cx="222.2" cy="530.8" rx="25" ry="23" fill="none" stroke="#8ee08e" stroke-width="4.5" transform="rotate(0 221.0 530.0)"/>
<ellipse cx="224.8" cy="532.2" rx="25" ry="23" fill="none" stroke="#2f8c8c" stroke-width="4.5" transform="rotate(0 221.0 530.0)"/>
<g transform="translate(240 535) rotate(-90) skewX(-6)">
<path d="M3.5 -9.9 L0.3 -8.9 L-3.0 -7.8 L-6.2 -6.5 L-9.3 -5.2 L-12.3 -3.7 L-15.0 -2.1 L-17.5 -0.4 L-19.7 1.4 L-21.5 3.2 L-23.0 5.1 L-24.1 7.0 L-24.8 9.0 L-25.0 11.0 L-24.8 11.3 L-24.8 19.0 L-25.0 17.2 L-24.8 17.0 L-24.1 16.8 L-23.0 16.6 L-21.5 16.3 L-19.7 16.0 L-17.5 15.6 L-15.0 15.1 L-12.3 14.5 L-9.3 13.8 L-6.2 13.0 L-3.0 12.1 L0.3 11.1 L3.5 9.9Z" fill="#b5dcdf" stroke="#3c9393" stroke-width="1.2" stroke-linejoin="round" opacity="1.0"/>
<path d="M24.8 37.3 L24.2 37.5 L23.2 37.7 L21.8 38.0 L20.0 38.3 L17.8 38.7 L15.4 39.2 L12.7 39.7 L9.7 40.4 L6.7 41.2 L3.5 42.1 L0.2 43.1 L-3.1 44.2 L-6.3 45.5 L-9.4 46.9 L-12.3 48.4 L-15.1 49.9 L-17.6 51.6 L-19.7 53.4 L-21.6 55.2 L-23.0 57.1 L-24.1 59.1 L-24.8 61.1 L-25.0 63.1 L-24.8 63.3 L-24.8 71.1 L-25.0 69.2 L-24.8 69.0 L-24.1 68.8 L-23.0 68.6 L-21.6 68.3 L-19.7 68.0 L-17.6 67.6 L-15.1 67.1 L-12.3 66.5 L-9.4 65.8 L-6.3 65.1 L-3.1 64.1 L0.2 63.1 L3.5 62.0 L6.7 60.7 L9.7 59.3 L12.7 57.8 L15.4 56.2 L17.8 54.5 L20.0 52.7 L21.8 50.9 L23.2 49.0 L24.2 47.0 L24.8 45.0Z" fill="#b5dcdf" stroke="#3c9393" stroke-width="1.2" stroke-linejoin="round" opacity="1.0"/>
<path d="M24.8 89.3 L24.2 89.5 L23.1 89.7 L21.7 90.0 L19.9 90.3 L17.8 90.7 L15.3 91.2 L12.6 91.8 L9.7 92.4 L6.6 93.2 L3.4 94.1 L0.1 95.1 L-3.2 96.3 L-6.4 97.5 L-9.5 98.9 L-12.4 100.4 L-15.1 102.0 L-17.6 103.7 L-19.8 105.4 L-21.6 107.3 L-23.1 109.2 L-24.1 111.1 L-24.8 113.1 L-25.0 115.1 L-24.8 115.3 L-24.8 123.1 L-25.0 121.2 L-24.8 121.0 L-24.1 120.8 L-23.1 120.6 L-21.6 120.3 L-19.8 120.0 L-17.6 119.6 L-15.1 119.1 L-12.4 118.5 L-9.5 117.9 L-6.4 117.1 L-3.2 116.2 L0.1 115.1 L3.4 114.0 L6.6 112.7 L9.7 111.3 L12.6 109.8 L15.3 108.2 L17.8 106.6 L19.9 104.8 L21.7 102.9 L23.1 101.0 L24.2 99.1 L24.8 97.1Z" fill="#b5dcdf" stroke="#3c9393" stroke-width="1.2" stroke-linejoin="round" opacity="1.0"/>
<path d="M24.8 141.3 L24.2 141.5 L23.1 141.7 L21.7 142.0 L19.9 142.3 L17.7 142.7 L15.3 143.2 L12.5 143.8 L9.6 144.4 L6.5 145.2 L3.3 146.1 L0.0 147.2 L-3.2 148.3 L-6.4 149.6 L-9.5 150.9 L-12.5 152.4 L-15.2 154.0 L-17.7 155.7 L-19.8 157.5 L-21.6 159.3 L-23.1 161.2 L-24.1 163.2 L-24.1 172.8 L-23.1 172.6 L-21.6 172.3 L-19.8 172.0 L-17.7 171.6 L-15.2 171.1 L-12.5 170.6 L-9.5 169.9 L-6.4 169.1 L-3.2 168.2 L0.0 167.2 L3.3 166.0 L6.5 164.8 L9.6 163.4 L12.5 161.9 L15.3 160.3 L17.7 158.6 L19.9 156.8 L21.7 155.0 L23.1 153.1 L24.2 151.1 L24.8 149.1Z" fill="#b5dcdf" stroke="#3c9393" stroke-width="1.2" stroke-linejoin="round" opacity="1.0"/>
<path d="M-24.8 11.3 L-24.2 11.5 L-23.2 11.7 L-21.8 12.0 L-20.0 12.3 L-17.8 12.7 L-15.4 13.2 L-12.7 13.7 L-9.8 14.4 L-6.7 15.2 L-3.5 16.1 L-0.2 17.1 L3.0 18.2 L6.3 19.5 L9.4 20.9 L12.3 22.3 L15.0 23.9 L17.5 25.6 L19.7 27.4 L21.5 29.2 L23.0 31.1 L24.1 33.1 L24.8 35.0 L25.0 37.0 L24.8 37.3 L24.8 45.0 L25.0 43.2 L24.8 43.0 L24.1 42.8 L23.0 42.6 L21.5 42.3 L19.7 42.0 L17.5 41.6 L15.0 41.1 L12.3 40.5 L9.4 39.8 L6.3 39.0 L3.0 38.1 L-0.2 37.1 L-3.5 35.9 L-6.7 34.7 L-9.8 33.3 L-12.7 31.8 L-15.4 30.2 L-17.8 28.5 L-20.0 26.7 L-21.8 24.9 L-23.2 23.0 L-24.2 21.0 L-24.8 19.0Z" fill="#d8f0f1" stroke="#3c9393" stroke-width="1.2" stroke-linejoin="round" opacity="1.0"/>
<path d="M-24.8 63.3 L-24.2 63.5 L-23.2 63.7 L-21.7 64.0 L-19.9 64.3 L-17.8 64.7 L-15.3 65.2 L-12.6 65.7 L-9.7 66.4 L-6.6 67.2 L-3.4 68.1 L-0.1 69.1 L3.1 70.3 L6.3 71.5 L9.4 72.9 L12.4 74.4 L15.1 76.0 L17.6 77.6 L19.7 79.4 L21.6 81.3 L23.0 83.2 L24.1 85.1 L24.8 87.1 L25.0 89.1 L24.8 89.3 L24.8 97.1 L25.0 95.2 L24.8 95.0 L24.1 94.8 L23.0 94.6 L21.6 94.3 L19.7 94.0 L17.6 93.6 L15.1 93.1 L12.4 92.5 L9.4 91.9 L6.3 91.1 L3.1 90.2 L-0.1 89.1 L-3.4 88.0 L-6.6 86.7 L-9.7 85.3 L-12.6 83.8 L-15.3 82.2 L-17.8 80.5 L-19.9 78.8 L-21.7 76.9 L-23.2 75.0 L-24.2 73.1 L-24.8 71.1Z" fill="#d8f0f1" stroke="#3c9393" stroke-width="1.2" stroke-linejoin="round" opacity="1.0"/>
<path d="M-24.8 115.3 L-24.2 115.5 L-23.1 115.7 L-21.7 116.0 L-19.9 116.3 L-17.7 116.7 L-15.3 117.2 L-12.6 117.8 L-9.6 118.4 L-6.5 119.2 L-3.3 120.1 L-0.1 121.1 L3.2 122.3 L6.4 123.5 L9.5 124.9 L12.4 126.4 L15.2 128.0 L17.6 129.7 L19.8 131.5 L21.6 133.3 L23.1 135.2 L24.1 137.2 L24.8 139.1 L25.0 141.1 L24.8 141.3 L24.8 149.1 L25.0 147.2 L24.8 147.0 L24.1 146.8 L23.1 146.6 L21.6 146.3 L19.8 146.0 L17.6 145.6 L15.2 145.1 L12.4 144.6 L9.5 143.9 L6.4 143.1 L3.2 142.2 L-0.1 141.1 L-3.3 140.0 L-6.5 138.7 L-9.6 137.4 L-12.6 135.9 L-15.3 134.3 L-17.7 132.6 L-19.9 130.8 L-21.7 129.0 L-23.1 127.1 L-24.2 125.1 L-24.8 123.1Z" fill="#d8f0f1" stroke="#3c9393" stroke-width="1.2" stroke-linejoin="round" opacity="1.0"/>
</g>
<g transform="translate(238 532) rotate(-90) skewX(-6)" opacity="0.95">
<path d="M3.4 2.1 L0.2 3.1 L-2.9 4.2 L-6.0 5.5 L-9.0 6.8 L-11.9 8.2 L-14.5 9.8 L-16.9 11.4 L-19.0 13.0 L-20.7 14.8 L-22.1 16.6 L-23.2 18.4 L-23.8 20.3 L-24.0 22.2 L-23.8 22.5 L-23.8 28.0 L-24.0 26.2 L-23.8 25.9 L-23.2 25.6 L-22.1 25.2 L-20.7 24.8 L-19.0 24.4 L-16.9 23.9 L-14.5 23.3 L-11.9 22.7 L-9.0 21.9 L-6.0 21.1 L-2.9 20.1 L0.2 19.1 L3.4 17.9Z" fill="#a6e486" opacity="1.0"/>
<path d="M24.0 48.2 L23.7 48.5 L23.1 48.8 L22.0 49.2 L20.5 49.6 L18.7 50.0 L16.6 50.5 L14.2 51.1 L11.5 51.8 L8.6 52.5 L5.6 53.4 L2.5 54.3 L-0.7 55.4 L-3.8 56.6 L-6.9 57.8 L-9.8 59.2 L-12.6 60.7 L-15.2 62.2 L-17.5 63.8 L-19.5 65.5 L-21.2 67.3 L-22.5 69.1 L-23.4 70.9 L-23.9 72.8 L-24.0 74.3 L-24.0 78.7 L-23.9 78.0 L-23.4 77.6 L-22.5 77.3 L-21.2 76.9 L-19.5 76.5 L-17.5 76.0 L-15.2 75.5 L-12.6 74.9 L-9.8 74.1 L-6.9 73.3 L-3.8 72.4 L-0.7 71.4 L2.5 70.3 L5.6 69.1 L8.6 67.7 L11.5 66.3 L14.2 64.8 L16.6 63.2 L18.7 61.5 L20.5 59.8 L22.0 58.0 L23.1 56.2 L23.7 54.3 L24.0 52.4Z" fill="#a6e486" opacity="1.0"/>
<path d="M-23.8 22.5 L-23.2 22.8 L-22.2 23.1 L-20.8 23.5 L-19.0 23.9 L-16.9 24.4 L-14.5 25.0 L-11.9 25.7 L-9.0 26.4 L-6.0 27.3 L-2.9 28.2 L0.2 29.2 L3.4 30.4 L6.4 31.6 L9.4 33.0 L12.2 34.4 L14.8 36.0 L17.2 37.6 L19.2 39.3 L21.0 41.0 L22.3 42.8 L23.3 44.7 L23.8 46.5 L24.0 48.2 L24.0 52.4 L23.8 51.9 L23.3 51.6 L22.3 51.3 L21.0 50.9 L19.2 50.5 L17.2 50.0 L14.8 49.4 L12.2 48.8 L9.4 48.0 L6.4 47.2 L3.4 46.3 L0.2 45.2 L-2.9 44.1 L-6.0 42.9 L-9.0 41.5 L-11.9 40.1 L-14.5 38.6 L-16.9 37.0 L-19.0 35.3 L-20.8 33.5 L-22.2 31.7 L-23.2 29.9 L-23.8 28.0Z" fill="#a6e486" opacity="1.0"/>
<path d="M-24.0 74.3 L-23.7 74.6 L-22.9 74.9 L-21.8 75.2 L-20.3 75.6 L-18.4 76.1 L-16.3 76.6 L-13.8 77.2 L-11.1 77.9 L-8.2 78.6 L-5.2 79.5 L-2.1 80.5 L1.1 81.6 L4.2 82.7 L7.3 84.0 L10.2 85.4 L13.0 86.9 L15.5 88.4 L15.5 101.6 L13.0 101.0 L10.2 100.2 L7.3 99.4 L4.2 98.5 L1.1 97.5 L-2.1 96.4 L-5.2 95.2 L-8.2 93.9 L-11.1 92.5 L-13.8 91.0 L-16.3 89.4 L-18.4 87.8 L-20.3 86.0 L-21.8 84.3 L-22.9 82.4 L-23.7 80.6 L-24.0 78.7Z" fill="#a6e486" opacity="1.0"/>
</g>
<path d="M245 520 C 250 530, 255 545, 258 552" fill="none" stroke="#f09a9a" stroke-width="6" stroke-linecap="round" stroke-linejoin="round" />
<ellipse cx="289.0" cy="577.0" rx="24" ry="19" fill="none" stroke="#f0a0a0" stroke-width="4.5" opacity="0.10" transform="rotate(0 289.0 577.0)"/>
<ellipse cx="291.0" cy="577.0" rx="24" ry="19" fill="none" stroke="#8ee08e" stroke-width="4.5" opacity="0.10" transform="rotate(0 289.0 577.0)"/>
<ellipse cx="293.0" cy="577.0" rx="24" ry="19" fill="none" stroke="#2f8c8c" stroke-width="4.5" opacity="0.10" transform="rotate(0 289.0 577.0)"/>
<ellipse cx="290.0" cy="584.0" rx="24" ry="19" fill="none" stroke="#f0a0a0" stroke-width="4.5" opacity="0.19" transform="rotate(0 290.0 584.0)"/>
<ellipse cx="292.0" cy="584.0" rx="24" ry="19" fill="none" stroke="#8ee08e" stroke-width="4.5" opacity="0.19" transform="rotate(0 290.0 584.0)"/>
<ellipse cx="294.0" cy="584.0" rx="24" ry="19" fill="none" stroke="#2f8c8c" stroke-width="4.5" opacity="0.19" transform="rotate(0 290.0 584.0)"/>
<ellipse cx="291.0" cy="591.0" rx="24" ry="19" fill="none" stroke="#f0a0a0" stroke-width="4.5" opacity="0.28" transform="rotate(0 291.0 591.0)"/>
<ellipse cx="293.0" cy="591.0" rx="24" ry="19" fill="none" stroke="#8ee08e" stroke-width="4.5" opacity="0.28" transform="rotate(0 291.0 591.0)"/>
<ellipse cx="295.0" cy="591.0" rx="24" ry="19" fill="none" stroke="#2f8c8c" stroke-width="4.5" opacity="0.28" transform="rotate(0 291.0 591.0)"/>
<ellipse cx="289.8" cy="596.6" rx="24" ry="19" fill="none" stroke="#f0a0a0" stroke-width="4.5" transform="rotate(0 292.0 598.0)"/>
<ellipse cx="291.2" cy="597.5" rx="24" ry="19" fill="none" stroke="#8ee08e" stroke-width="4.5" transform="rotate(0 292.0 598.0)"/>
<ellipse cx="292.8" cy="598.5" rx="24" ry="19" fill="none" stroke="#2f8c8c" stroke-width="4.5" transform="rotate(0 292.0 598.0)"/>
<ellipse cx="294.2" cy="599.4" rx="24" ry="19" fill="none" stroke="#d3eff1" stroke-width="4.5" transform="rotate(0 292.0 598.0)"/>
<ellipse cx="226.0" cy="604.0" rx="21" ry="18" fill="none" stroke="#f0a0a0" stroke-width="4.5" opacity="0.10" transform="rotate(0 226.0 604.0)"/>
<ellipse cx="228.0" cy="604.0" rx="21" ry="18" fill="none" stroke="#8ee08e" stroke-width="4.5" opacity="0.10" transform="rotate(0 226.0 604.0)"/>
<ellipse cx="230.0" cy="604.0" rx="21" ry="18" fill="none" stroke="#cfeef2" stroke-width="4.5" opacity="0.10" transform="rotate(0 226.0 604.0)"/>
<ellipse cx="220.0" cy="612.0" rx="21" ry="18" fill="none" stroke="#f0a0a0" stroke-width="4.5" opacity="0.19" transform="rotate(0 220.0 612.0)"/>
<ellipse cx="222.0" cy="612.0" rx="21" ry="18" fill="none" stroke="#8ee08e" stroke-width="4.5" opacity="0.19" transform="rotate(0 220.0 612.0)"/>
<ellipse cx="224.0" cy="612.0" rx="21" ry="18" fill="none" stroke="#cfeef2" stroke-width="4.5" opacity="0.19" transform="rotate(0 220.0 612.0)"/>
<ellipse cx="214.0" cy="620.0" rx="21" ry="18" fill="none" stroke="#f0a0a0" stroke-width="4.5" opacity="0.28" transform="rotate(0 214.0 620.0)"/>
<ellipse cx="216.0" cy="620.0" rx="21" ry="18" fill="none" stroke="#8ee08e" stroke-width="4.5" opacity="0.28" transform="rotate(0 214.0 620.0)"/>
<ellipse cx="218.0" cy="620.0" rx="21" ry="18" fill="none" stroke="#cfeef2" stroke-width="4.5" opacity="0.28" transform="rotate(0 214.0 620.0)"/>
<ellipse cx="208.0" cy="628.0" rx="21" ry="18" fill="none" stroke="#f0a0a0" stroke-width="4.5" opacity="0.37" transform="rotate(0 208.0 628.0)"/>
<ellipse cx="210.0" cy="628.0" rx="21" ry="18" fill="none" stroke="#8ee08e" stroke-width="4.5" opacity="0.37" transform="rotate(0 208.0 628.0)"/>
<ellipse cx="212.0" cy="628.0" rx="21" ry="18" fill="none" stroke="#cfeef2" stroke-width="4.5" opacity="0.37" transform="rotate(0 208.0 628.0)"/>
<ellipse cx="198.2" cy="633.8" rx="21" ry="18" fill="none" stroke="#f0a0a0" stroke-width="4.5" transform="rotate(0 202.0 636.0)"/>
<ellipse cx="200.8" cy="635.2" rx="21" ry="18" fill="none" stroke="#8ee08e" stroke-width="4.5" transform="rotate(0 202.0 636.0)"/>
<ellipse cx="203.2" cy="636.8" rx="21" ry="18" fill="none" stroke="#cfeef2" stroke-width="4.5" transform="rotate(0 202.0 636.0)"/>
<ellipse cx="205.8" cy="638.2" rx="21" ry="18" fill="none" stroke="#2f8c8c" stroke-width="4.5" transform="rotate(0 202.0 636.0)"/>
<path d="M186 646 C 200 661, 225 656, 245 646 C 262 636, 260 608, 270 608 C 280 611, 285 644, 298 648 C 315 646, 322 626, 328 616" fill="none" stroke="#f0a0a0" stroke-width="3.5" stroke-linecap="round" stroke-linejoin="round" />
<path d="M186 649 C 200 664, 225 659, 245 649 C 262 639, 260 611, 270 611 C 280 614, 285 647, 298 651 C 315 649, 322 629, 328 619" fill="none" stroke="#8ee08e" stroke-width="3.5" stroke-linecap="round" stroke-linejoin="round" />
<path d="M186 652 C 200 667, 225 662, 245 652 C 262 642, 260 614, 270 614 C 280 617, 285 650, 298 654 C 315 652, 322 632, 328 622" fill="none" stroke="#cfeef2" stroke-width="3.5" stroke-linecap="round" stroke-linejoin="round" />
<path d="M186 654 C 200 669, 225 664, 245 654 C 262 644, 260 616, 270 616 C 280 619, 285 652, 298 656 C 315 654, 322 634, 328 624" fill="none" stroke="#2f8c8c" stroke-width="3.5" stroke-linecap="round" stroke-linejoin="round" />
<path d="M275 640 C 285 655, 300 660, 318 650 C 326 640, 326 632, 320 625" fill="none" stroke="#2a7f7f" stroke-width="7" stroke-linecap="round" stroke-linejoin="round" />
<ellipse cx="147.5" cy="604.2" rx="30" ry="27" fill="none" stroke="#f0a0a0" stroke-width="4.5" opacity="0.10"/>
<ellipse cx="150.5" cy="605.4" rx="30" ry="27" fill="none" stroke="#8ee08e" stroke-width="4.5" opacity="0.10"/>
<ellipse cx="153.5" cy="606.6" rx="30" ry="27" fill="none" stroke="#cfeef2" stroke-width="4.5" opacity="0.10"/>
<ellipse cx="156.5" cy="607.8" rx="30" ry="27" fill="none" stroke="#2f8c8c" stroke-width="4.5" opacity="0.10"/>
<ellipse cx="136.5" cy="604.2" rx="30" ry="27" fill="none" stroke="#f0a0a0" stroke-width="4.5" opacity="0.10"/>
<ellipse cx="139.5" cy="605.4" rx="30" ry="27" fill="none" stroke="#8ee08e" stroke-width="4.5" opacity="0.10"/>
<ellipse cx="142.5" cy="606.6" rx="30" ry="27" fill="none" stroke="#cfeef2" stroke-width="4.5" opacity="0.10"/>
<ellipse cx="145.5" cy="607.8" rx="30" ry="27" fill="none" stroke="#2f8c8c" stroke-width="4.5" opacity="0.10"/>
<ellipse cx="125.5" cy="604.2" rx="30" ry="27" fill="none" stroke="#f0a0a0" stroke-width="4.5" opacity="0.17"/>
<ellipse cx="128.5" cy="605.4" rx="30" ry="27" fill="none" stroke="#8ee08e" stroke-width="4.5" opacity="0.17"/>
<ellipse cx="131.5" cy="606.6" rx="30" ry="27" fill="none" stroke="#cfeef2" stroke-width="4.5" opacity="0.17"/>
<ellipse cx="134.5" cy="607.8" rx="30" ry="27" fill="none" stroke="#2f8c8c" stroke-width="4.5" opacity="0.17"/>
<ellipse cx="114.5" cy="604.2" rx="30" ry="27" fill="none" stroke="#f0a0a0" stroke-width="4.5" opacity="0.24"/>
<ellipse cx="117.5" cy="605.4" rx="30" ry="27" fill="none" stroke="#8ee08e" stroke-width="4.5" opacity="0.24"/>
<ellipse cx="120.5" cy="606.6" rx="30" ry="27" fill="none" stroke="#cfeef2" stroke-width="4.5" opacity="0.24"/>
<ellipse cx="123.5" cy="607.8" rx="30" ry="27" fill="none" stroke="#2f8c8c" stroke-width="4.5" opacity="0.24"/>
<ellipse cx="103.5" cy="604.2" rx="30" ry="27" fill="none" stroke="#f0a0a0" stroke-width="4.5" opacity="0.31"/>
<ellipse cx="106.5" cy="605.4" rx="30" ry="27" fill="none" stroke="#8ee08e" stroke-width="4.5" opacity="0.31"/>
<ellipse cx="109.5" cy="606.6" rx="30" ry="27" fill="none" stroke="#cfeef2" stroke-width="4.5" opacity="0.31"/>
<ellipse cx="112.5" cy="607.8" rx="30" ry="27" fill="none" stroke="#2f8c8c" stroke-width="4.5" opacity="0.31"/>
<ellipse cx="92.5" cy="604.2" rx="30" ry="27" fill="none" stroke="#f0a0a0" stroke-width="4.5" opacity="1.00"/>
<ellipse cx="95.5" cy="605.4" rx="30" ry="27" fill="none" stroke="#8ee08e" stroke-width="4.5" opacity="1.00"/>
<ellipse cx="98.5" cy="606.6" rx="30" ry="27" fill="none" stroke="#cfeef2" stroke-width="4.5" opacity="1.00"/>
<ellipse cx="101.5" cy="607.8" rx="30" ry="27" fill="none" stroke="#2f8c8c" stroke-width="4.5" opacity="1.00"/>
<ellipse cx="81.5" cy="604.2" rx="30" ry="27" fill="none" stroke="#f0a0a0" stroke-width="4.5" opacity="1.00"/>
<ellipse cx="84.5" cy="605.4" rx="30" ry="27" fill="none" stroke="#8ee08e" stroke-width="4.5" opacity="1.00"/>
<ellipse cx="87.5" cy="606.6" rx="30" ry="27" fill="none" stroke="#cfeef2" stroke-width="4.5" opacity="1.00"/>
<ellipse cx="90.5" cy="607.8" rx="30" ry="27" fill="none" stroke="#2f8c8c" stroke-width="4.5" opacity="1.00"/>
<path d="M81 632 C 81 650, 77 670, 77 690" fill="none" stroke="#f0a0a0" stroke-width="3.5" stroke-linecap="round" stroke-linejoin="round" />
<path d="M84 632 C 84 650, 80 670, 80 690" fill="none" stroke="#8ee08e" stroke-width="3.5" stroke-linecap="round" stroke-linejoin="round" />
<path d="M87 632 C 87 650, 83 670, 83 690" fill="none" stroke="#cfeef2" stroke-width="3.5" stroke-linecap="round" stroke-linejoin="round" />
<path d="M89 632 C 89 650, 85 670, 85 690" fill="none" stroke="#2f8c8c" stroke-width="3.5" stroke-linecap="round" stroke-linejoin="round" />
<path d="M100 632 C 102 650, 95 670, 88 690" fill="none" stroke="#2f8c8c" stroke-width="3.5" stroke-linecap="round" stroke-linejoin="round" />
<ellipse cx="158.0" cy="657.0" rx="23" ry="30" fill="none" stroke="#f0a0a0" stroke-width="4.5" opacity="0.10" transform="rotate(0 158.0 657.0)"/>
<ellipse cx="160.0" cy="657.0" rx="23" ry="30" fill="none" stroke="#8ee08e" stroke-width="4.5" opacity="0.10" transform="rotate(0 158.0 657.0)"/>
<ellipse cx="162.0" cy="657.0" rx="23" ry="30" fill="none" stroke="#cfeef2" stroke-width="4.5" opacity="0.10" transform="rotate(0 158.0 657.0)"/>
<ellipse cx="152.0" cy="664.0" rx="23" ry="30" fill="none" stroke="#f0a0a0" stroke-width="4.5" opacity="0.19" transform="rotate(0 152.0 664.0)"/>
<ellipse cx="154.0" cy="664.0" rx="23" ry="30" fill="none" stroke="#8ee08e" stroke-width="4.5" opacity="0.19" transform="rotate(0 152.0 664.0)"/>
<ellipse cx="156.0" cy="664.0" rx="23" ry="30" fill="none" stroke="#cfeef2" stroke-width="4.5" opacity="0.19" transform="rotate(0 152.0 664.0)"/>
<ellipse cx="146.0" cy="671.0" rx="23" ry="30" fill="none" stroke="#f0a0a0" stroke-width="4.5" opacity="0.28" transform="rotate(0 146.0 671.0)"/>
<ellipse cx="148.0" cy="671.0" rx="23" ry="30" fill="none" stroke="#8ee08e" stroke-width="4.5" opacity="0.28" transform="rotate(0 146.0 671.0)"/>
<ellipse cx="150.0" cy="671.0" rx="23" ry="30" fill="none" stroke="#cfeef2" stroke-width="4.5" opacity="0.28" transform="rotate(0 146.0 671.0)"/>
<ellipse cx="140.0" cy="678.0" rx="23" ry="30" fill="none" stroke="#f0a0a0" stroke-width="4.5" opacity="0.37" transform="rotate(0 140.0 678.0)"/>
<ellipse cx="142.0" cy="678.0" rx="23" ry="30" fill="none" stroke="#8ee08e" stroke-width="4.5" opacity="0.37" transform="rotate(0 140.0 678.0)"/>
<ellipse cx="144.0" cy="678.0" rx="23" ry="30" fill="none" stroke="#cfeef2" stroke-width="4.5" opacity="0.37" transform="rotate(0 140.0 678.0)"/>
<ellipse cx="134.0" cy="685.0" rx="23" ry="30" fill="none" stroke="#f0a0a0" stroke-width="4.5" opacity="0.46" transform="rotate(0 134.0 685.0)"/>
<ellipse cx="136.0" cy="685.0" rx="23" ry="30" fill="none" stroke="#8ee08e" stroke-width="4.5" opacity="0.46" transform="rotate(0 134.0 685.0)"/>
<ellipse cx="138.0" cy="685.0" rx="23" ry="30" fill="none" stroke="#cfeef2" stroke-width="4.5" opacity="0.46" transform="rotate(0 134.0 685.0)"/>
<ellipse cx="124.2" cy="689.8" rx="23" ry="30" fill="none" stroke="#f0a0a0" stroke-width="4.5" transform="rotate(0 128.0 692.0)"/>
<ellipse cx="126.8" cy="691.2" rx="23" ry="30" fill="none" stroke="#8ee08e" stroke-width="4.5" transform="rotate(0 128.0 692.0)"/>
<ellipse cx="129.2" cy="692.8" rx="23" ry="30" fill="none" stroke="#cfeef2" stroke-width="4.5" transform="rotate(0 128.0 692.0)"/>
<ellipse cx="131.8" cy="694.2" rx="23" ry="30" fill="none" stroke="#2f8c8c" stroke-width="4.5" transform="rotate(0 128.0 692.0)"/>
<path d="M104 676 C 110 666, 125 660, 142 668 C 150 680, 150 700, 140 718" fill="none" stroke="#2a8585" stroke-width="9" stroke-linecap="round" stroke-linejoin="round" />
<path d="M140 715 C 155 725, 175 722, 188 712" fill="none" stroke="#2f8c8c" stroke-width="4" stroke-linecap="round" stroke-linejoin="round" />
<path d="M140 712 C 155 720, 175 718, 188 708" fill="none" stroke="#cfeef2" stroke-width="4" stroke-linecap="round" stroke-linejoin="round" />
<text x="61.5" y="449" font-size="25" font-weight="bold" fill="#000">TM6</text>
<text x="92.5" y="539.5" font-size="25" font-weight="bold" fill="#000">TM5</text>
<text x="205.8" y="501.5" font-size="25" font-weight="bold" fill="#000">TM7</text>
<text x="290" y="510.5" font-size="25" font-weight="bold" fill="#000">H8</text>
<text x="5" y="627" font-size="25" font-weight="bold" fill="#000">TM4</text>
<text x="184.7" y="618" font-size="25" font-weight="bold" fill="#000">TM2</text>
<text x="319.4" y="619" font-size="25" font-weight="bold" fill="#000">TM1</text>
<text x="24.9" y="707.3" font-size="25" font-weight="bold" fill="#000">ICL2</text>
<text x="241.7" y="697" font-size="25" font-weight="bold" fill="#000">ICL1</text>
<text x="138.8" y="758" font-size="25" font-weight="bold" fill="#000">TM3</text>
<g clip-path="url(#ce)">
<path d="M194.0 789.0 L190.4 791.3 L186.4 793.6 L181.9 795.9 L177.0 798.2 L171.8 800.5 L166.4 802.8 L160.9 805.1 L155.4 807.4 L150.0 809.7 L144.7 812.0 L139.7 814.3 L135.1 816.6 L130.8 818.9 L127.1 821.2 L124.0 823.5 L121.5 825.8 L119.6 828.1 L118.4 830.4 L118.0 832.7 L118.3 835.0 L118.3 857.0 L118.0 854.7 L118.4 852.4 L119.6 850.1 L121.5 847.8 L124.0 845.5 L127.1 843.2 L130.8 840.9 L135.1 838.6 L139.7 836.3 L144.7 834.0 L150.0 831.7 L155.4 829.4 L160.9 827.1 L166.4 824.8 L171.8 822.5 L177.0 820.2 L181.9 817.9 L186.4 815.6 L190.4 813.3 L194.0 811.0Z" fill="#e9eaf8" opacity="0.95"/>
<path d="M201.6 890.3 L200.6 892.6 L198.8 894.9 L196.3 897.2 L193.3 899.5 L189.6 901.8 L185.5 904.1 L180.9 906.4 L175.9 908.7 L170.7 911.0 L165.3 913.3 L159.8 915.6 L154.2 917.9 L148.8 920.2 L143.6 922.5 L138.7 924.8 L134.1 927.1 L130.0 929.4 L126.4 931.7 L123.4 934.0 L121.0 936.3 L119.3 938.6 L118.3 940.9 L118.0 943.2 L118.0 965.2 L118.3 962.9 L119.3 960.6 L121.0 958.3 L123.4 956.0 L126.4 953.7 L130.0 951.4 L134.1 949.1 L138.7 946.8 L143.6 944.5 L148.8 942.2 L154.2 939.9 L159.8 937.6 L165.3 935.3 L170.7 933.0 L175.9 930.7 L180.9 928.4 L185.5 926.1 L189.6 923.8 L193.3 921.5 L196.3 919.2 L198.8 916.9 L200.6 914.6 L201.6 912.3Z" fill="#e9eaf8" opacity="0.95"/>
<path d="M202.0 998.4 L201.5 1000.7 L200.3 1003.0 L198.3 1005.3 L195.8 1007.7 L192.6 1010.0 L188.8 1012.3 L184.5 1014.6 L179.9 1016.9 L174.8 1019.2 L169.6 1021.5 L164.1 1023.8 L158.6 1026.1 L153.1 1028.4 L147.7 1030.7 L142.6 1033.0 L137.7 1035.3 L133.3 1037.6 L129.2 1039.9 L125.8 1042.2 L122.9 1044.5 L120.6 1046.8 L119.0 1049.1 L118.2 1051.4 L118.0 1053.7 L118.0 1075.7 L118.2 1073.4 L119.0 1071.1 L120.6 1068.8 L122.9 1066.5 L125.8 1064.2 L129.2 1061.9 L133.3 1059.6 L137.7 1057.3 L142.6 1055.0 L147.7 1052.7 L153.1 1050.4 L158.6 1048.1 L164.1 1045.8 L169.6 1043.5 L174.8 1041.2 L179.9 1038.9 L184.5 1036.6 L188.8 1034.3 L192.6 1032.0 L195.8 1029.7 L198.3 1027.3 L200.3 1025.0 L201.5 1022.7 L202.0 1020.4Z" fill="#e9eaf8" opacity="0.95"/>
<path d="M118.3 835.0 L119.3 837.3 L121.0 839.6 L123.4 841.9 L126.4 844.2 L130.0 846.5 L134.1 848.8 L138.6 851.1 L143.6 853.4 L148.8 855.7 L154.2 858.0 L159.7 860.3 L165.2 862.7 L170.6 865.0 L175.8 867.3 L180.8 869.6 L185.4 871.9 L189.6 874.2 L193.2 876.5 L196.3 878.8 L198.8 881.1 L200.5 883.4 L201.6 885.7 L202.0 888.0 L201.6 890.3 L201.6 912.3 L202.0 910.0 L201.6 907.7 L200.5 905.4 L198.8 903.1 L196.3 900.8 L193.2 898.5 L189.6 896.2 L185.4 893.9 L180.8 891.6 L175.8 889.3 L170.6 887.0 L165.2 884.7 L159.7 882.3 L154.2 880.0 L148.8 877.7 L143.6 875.4 L138.6 873.1 L134.1 870.8 L130.0 868.5 L126.4 866.2 L123.4 863.9 L121.0 861.6 L119.3 859.3 L118.3 857.0Z" fill="#dfe1f6" opacity="0.95"/>
<path d="M118.0 943.2 L118.4 945.5 L119.6 947.8 L121.4 950.1 L123.9 952.4 L127.1 954.7 L130.8 957.0 L135.0 959.3 L139.6 961.6 L144.6 963.9 L149.9 966.2 L155.3 968.5 L160.8 970.8 L166.3 973.1 L171.7 975.4 L176.9 977.7 L181.8 980.0 L186.3 982.3 L190.4 984.6 L193.9 986.9 L196.9 989.2 L199.2 991.5 L200.8 993.8 L201.8 996.1 L202.0 998.4 L202.0 1020.4 L201.8 1018.1 L200.8 1015.8 L199.2 1013.5 L196.9 1011.2 L193.9 1008.9 L190.4 1006.6 L186.3 1004.3 L181.8 1002.0 L176.9 999.7 L171.7 997.4 L166.3 995.1 L160.8 992.8 L155.3 990.5 L149.9 988.2 L144.6 985.9 L139.6 983.6 L135.0 981.3 L130.8 979.0 L127.1 976.7 L123.9 974.4 L121.4 972.1 L119.6 969.8 L118.4 967.5 L118.0 965.2Z" fill="#dfe1f6" opacity="0.95"/>
<path d="M118.0 1053.7 L118.6 1056.0 L119.9 1058.3 L121.9 1060.6 L124.5 1062.9 L127.8 1065.2 L131.6 1067.5 L135.9 1069.8 L140.6 1072.1 L145.7 1074.4 L151.0 1076.7 L156.4 1079.0 L156.4 1101.0 L151.0 1098.7 L145.7 1096.4 L140.6 1094.1 L135.9 1091.8 L131.6 1089.5 L127.8 1087.2 L124.5 1084.9 L121.9 1082.6 L119.9 1080.3 L118.6 1078.0 L118.0 1075.7Z" fill="#dfe1f6" opacity="0.95"/>
<path d="M191.0 797.0 L187.4 799.3 L183.4 801.6 L178.9 803.9 L174.0 806.2 L168.8 808.5 L163.4 810.8 L157.9 813.1 L152.4 815.4 L147.0 817.7 L141.7 820.0 L136.7 822.3 L132.1 824.6 L127.8 826.9 L124.1 829.2 L121.0 831.5 L118.5 833.8 L116.6 836.1 L115.4 838.4 L115.0 840.7 L115.3 843.0 L115.3 865.0 L115.0 862.7 L115.4 860.4 L116.6 858.1 L118.5 855.8 L121.0 853.5 L124.1 851.2 L127.8 848.9 L132.1 846.6 L136.7 844.3 L141.7 842.0 L147.0 839.7 L152.4 837.4 L157.9 835.1 L163.4 832.8 L168.8 830.5 L174.0 828.2 L178.9 825.9 L183.4 823.6 L187.4 821.3 L191.0 819.0Z" fill="#f8f5d2" opacity="0.9"/>
<path d="M198.6 898.3 L197.6 900.6 L195.8 902.9 L193.3 905.2 L190.3 907.5 L186.6 909.8 L182.5 912.1 L177.9 914.4 L172.9 916.7 L167.7 919.0 L162.3 921.3 L156.8 923.6 L151.2 925.9 L145.8 928.2 L140.6 930.5 L135.7 932.8 L131.1 935.1 L127.0 937.4 L123.4 939.7 L120.4 942.0 L118.0 944.3 L116.3 946.6 L115.3 948.9 L115.0 951.2 L115.0 973.2 L115.3 970.9 L116.3 968.6 L118.0 966.3 L120.4 964.0 L123.4 961.7 L127.0 959.4 L131.1 957.1 L135.7 954.8 L140.6 952.5 L145.8 950.2 L151.2 947.9 L156.8 945.6 L162.3 943.3 L167.7 941.0 L172.9 938.7 L177.9 936.4 L182.5 934.1 L186.6 931.8 L190.3 929.5 L193.3 927.2 L195.8 924.9 L197.6 922.6 L198.6 920.3Z" fill="#f8f5d2" opacity="0.9"/>
<path d="M199.0 1006.4 L198.5 1008.7 L197.3 1011.0 L195.3 1013.3 L192.8 1015.7 L189.6 1018.0 L185.8 1020.3 L181.5 1022.6 L176.9 1024.9 L171.8 1027.2 L166.6 1029.5 L161.1 1031.8 L155.6 1034.1 L150.1 1036.4 L144.7 1038.7 L139.6 1041.0 L134.7 1043.3 L130.3 1045.6 L126.2 1047.9 L122.8 1050.2 L119.9 1052.5 L117.6 1054.8 L116.0 1057.1 L115.2 1059.4 L115.0 1061.7 L115.0 1083.7 L115.2 1081.4 L116.0 1079.1 L117.6 1076.8 L119.9 1074.5 L122.8 1072.2 L126.2 1069.9 L130.3 1067.6 L134.7 1065.3 L139.6 1063.0 L144.7 1060.7 L150.1 1058.4 L155.6 1056.1 L161.1 1053.8 L166.6 1051.5 L171.8 1049.2 L176.9 1046.9 L181.5 1044.6 L185.8 1042.3 L189.6 1040.0 L192.8 1037.7 L195.3 1035.3 L197.3 1033.0 L198.5 1030.7 L199.0 1028.4Z" fill="#f8f5d2" opacity="0.9"/>
<path d="M115.3 843.0 L116.3 845.3 L118.0 847.6 L120.4 849.9 L123.4 852.2 L127.0 854.5 L131.1 856.8 L135.6 859.1 L140.6 861.4 L145.8 863.7 L151.2 866.0 L156.7 868.3 L162.2 870.7 L167.6 873.0 L172.8 875.3 L177.8 877.6 L182.4 879.9 L186.6 882.2 L190.2 884.5 L193.3 886.8 L195.8 889.1 L197.5 891.4 L198.6 893.7 L199.0 896.0 L198.6 898.3 L198.6 920.3 L199.0 918.0 L198.6 915.7 L197.5 913.4 L195.8 911.1 L193.3 908.8 L190.2 906.5 L186.6 904.2 L182.4 901.9 L177.8 899.6 L172.8 897.3 L167.6 895.0 L162.2 892.7 L156.7 890.3 L151.2 888.0 L145.8 885.7 L140.6 883.4 L135.6 881.1 L131.1 878.8 L127.0 876.5 L123.4 874.2 L120.4 871.9 L118.0 869.6 L116.3 867.3 L115.3 865.0Z" fill="#f6f2c2" opacity="0.9"/>
<path d="M115.0 951.2 L115.4 953.5 L116.6 955.8 L118.4 958.1 L120.9 960.4 L124.1 962.7 L127.8 965.0 L132.0 967.3 L136.6 969.6 L141.6 971.9 L146.9 974.2 L152.3 976.5 L157.8 978.8 L163.3 981.1 L168.7 983.4 L173.9 985.7 L178.8 988.0 L183.3 990.3 L187.4 992.6 L190.9 994.9 L193.9 997.2 L196.2 999.5 L197.8 1001.8 L198.8 1004.1 L199.0 1006.4 L199.0 1028.4 L198.8 1026.1 L197.8 1023.8 L196.2 1021.5 L193.9 1019.2 L190.9 1016.9 L187.4 1014.6 L183.3 1012.3 L178.8 1010.0 L173.9 1007.7 L168.7 1005.4 L163.3 1003.1 L157.8 1000.8 L152.3 998.5 L146.9 996.2 L141.6 993.9 L136.6 991.6 L132.0 989.3 L127.8 987.0 L124.1 984.7 L120.9 982.4 L118.4 980.1 L116.6 977.8 L115.4 975.5 L115.0 973.2Z" fill="#f6f2c2" opacity="0.9"/>
<path d="M115.0 1061.7 L115.6 1064.0 L116.9 1066.3 L118.9 1068.6 L121.5 1070.9 L124.8 1073.2 L128.6 1075.5 L132.9 1077.8 L137.6 1080.1 L142.7 1082.4 L148.0 1084.7 L153.4 1087.0 L153.4 1109.0 L148.0 1106.7 L142.7 1104.4 L137.6 1102.1 L132.9 1099.8 L128.6 1097.5 L124.8 1095.2 L121.5 1092.9 L118.9 1090.6 L116.9 1088.3 L115.6 1086.0 L115.0 1083.7Z" fill="#f6f2c2" opacity="0.9"/>
<path d="M187.4 767.0 L183.3 769.3 L179.8 771.6 L177.0 773.9 L174.9 776.2 L173.6 778.5 L173.0 780.8 L173.3 783.1 L173.3 805.1 L173.0 802.8 L173.6 800.5 L174.9 798.2 L177.0 795.9 L179.8 793.6 L183.3 791.3 L187.4 789.0Z" fill="#f7f3cc" opacity="1.0"/>
<path d="M264.7 838.4 L263.5 840.7 L261.6 843.0 L259.0 845.3 L255.7 847.6 L251.7 849.9 L247.2 852.2 L242.2 854.5 L236.8 856.8 L231.1 859.1 L225.1 861.4 L219.1 863.7 L213.1 866.0 L207.2 868.3 L201.4 870.6 L196.0 872.9 L191.0 875.2 L186.4 877.5 L182.5 879.8 L179.1 882.1 L176.5 884.4 L174.5 886.7 L173.4 889.0 L173.4 911.0 L174.5 908.7 L176.5 906.4 L179.1 904.1 L182.5 901.8 L186.4 899.5 L191.0 897.2 L196.0 894.9 L201.4 892.6 L207.2 890.3 L213.1 888.0 L219.1 885.7 L225.1 883.4 L231.1 881.1 L236.8 878.8 L242.2 876.5 L247.2 874.2 L251.7 871.9 L255.7 869.6 L259.0 867.3 L261.6 865.0 L263.5 862.7 L264.7 860.4Z" fill="#f7f3cc" opacity="1.0"/>
<path d="M173.3 783.1 L174.3 785.4 L176.1 787.7 L178.7 790.0 L181.9 792.3 L185.8 794.6 L190.3 796.9 L195.3 799.2 L200.6 801.5 L206.3 803.8 L212.2 806.1 L218.2 808.4 L224.3 810.7 L230.2 813.0 L236.0 815.3 L241.4 817.6 L246.5 819.9 L251.1 822.2 L255.1 824.5 L258.6 826.8 L261.3 829.2 L263.3 831.5 L264.5 833.8 L265.0 836.1 L264.7 838.4 L264.7 860.4 L265.0 858.1 L264.5 855.8 L263.3 853.5 L261.3 851.2 L258.6 848.8 L255.1 846.5 L251.1 844.2 L246.5 841.9 L241.4 839.6 L236.0 837.3 L230.2 835.0 L224.3 832.7 L218.2 830.4 L212.2 828.1 L206.3 825.8 L200.6 823.5 L195.3 821.2 L190.3 818.9 L185.8 816.6 L181.9 814.3 L178.7 812.0 L176.1 809.7 L174.3 807.4 L173.3 805.1Z" fill="#f3ec8c" opacity="1.0"/>
<path d="M191.4 759.0 L187.3 761.3 L183.8 763.6 L181.0 765.9 L178.9 768.2 L177.6 770.5 L177.0 772.8 L177.3 775.1 L177.3 797.1 L177.0 794.8 L177.6 792.5 L178.9 790.2 L181.0 787.9 L183.8 785.6 L187.3 783.3 L191.4 781.0Z" fill="#dfe1f6" opacity="1.0"/>
<path d="M268.7 830.4 L267.5 832.7 L265.6 835.0 L263.0 837.3 L259.7 839.6 L255.7 841.9 L251.2 844.2 L246.2 846.5 L240.8 848.8 L235.1 851.1 L229.1 853.4 L223.1 855.7 L217.1 858.0 L211.2 860.3 L205.4 862.6 L200.0 864.9 L195.0 867.2 L190.4 869.5 L186.5 871.8 L183.1 874.1 L180.5 876.4 L178.5 878.7 L177.4 881.0 L177.4 903.0 L178.5 900.7 L180.5 898.4 L183.1 896.1 L186.5 893.8 L190.4 891.5 L195.0 889.2 L200.0 886.9 L205.4 884.6 L211.2 882.3 L217.1 880.0 L223.1 877.7 L229.1 875.4 L235.1 873.1 L240.8 870.8 L246.2 868.5 L251.2 866.2 L255.7 863.9 L259.7 861.6 L263.0 859.3 L265.6 857.0 L267.5 854.7 L268.7 852.4Z" fill="#dfe1f6" opacity="1.0"/>
<path d="M177.3 775.1 L178.3 777.4 L180.1 779.7 L182.7 782.0 L185.9 784.3 L189.8 786.6 L194.3 788.9 L199.3 791.2 L204.6 793.5 L210.3 795.8 L216.2 798.1 L222.2 800.4 L228.3 802.7 L234.2 805.0 L240.0 807.3 L245.4 809.6 L250.5 811.9 L255.1 814.2 L259.1 816.5 L262.6 818.8 L265.3 821.2 L267.3 823.5 L268.5 825.8 L269.0 828.1 L268.7 830.4 L268.7 852.4 L269.0 850.1 L268.5 847.8 L267.3 845.5 L265.3 843.2 L262.6 840.8 L259.1 838.5 L255.1 836.2 L250.5 833.9 L245.4 831.6 L240.0 829.3 L234.2 827.0 L228.3 824.7 L222.2 822.4 L216.2 820.1 L210.3 817.8 L204.6 815.5 L199.3 813.2 L194.3 810.9 L189.8 808.6 L185.9 806.3 L182.7 804.0 L180.1 801.7 L178.3 799.4 L177.3 797.1Z" fill="#8a90da" opacity="1.0"/>
<path d="M285 855 C 300 840, 340 838, 368 846 L 366 862 C 340 856, 305 858, 288 872 Z" fill="#f6f1bd" stroke="#f6f1bd" stroke-width="0" stroke-linecap="round" stroke-linejoin="round" />
<path d="M285 850 C 300 835, 340 832, 368 840 L 368 848 C 340 842, 305 846, 288 858 Z" fill="#dcdff5" stroke="#dcdff5" stroke-width="0" stroke-linecap="round" stroke-linejoin="round" />
<path d="M262 905 C 280 898, 310 898, 330 906 L 328 918 C 305 912, 282 914, 265 920 Z" fill="#f6f1bd" stroke="#f6f1bd" stroke-width="0" stroke-linecap="round" stroke-linejoin="round" />
<path d="M32.6 732.0 L28.2 733.7 L24.2 735.3 L20.8 737.0 L17.9 738.7 L15.6 740.3 L14.0 742.0 L13.1 743.7 L12.8 745.3 L12.8 767.3 L13.1 765.7 L14.0 764.0 L15.6 762.3 L17.9 760.7 L20.8 759.0 L24.2 757.3 L28.2 755.7 L32.6 754.0Z" fill="#6a70c8" opacity="1.0"/>
<path d="M94.2 785.3 L93.7 787.0 L92.5 788.7 L90.6 790.3 L88.1 792.0 L85.0 793.7 L81.3 795.3 L77.2 797.0 L72.6 798.7 L67.7 800.3 L62.6 802.0 L57.3 803.7 L51.9 805.3 L46.5 807.0 L41.3 808.7 L36.2 810.3 L31.4 812.0 L27.0 813.7 L23.0 815.3 L19.6 817.0 L16.7 818.7 L14.4 820.3 L12.8 822.0 L11.9 823.7 L11.6 825.3 L11.6 847.3 L11.9 845.7 L12.8 844.0 L14.4 842.3 L16.7 840.7 L19.6 839.0 L23.0 837.3 L27.0 835.7 L31.4 834.0 L36.2 832.3 L41.3 830.7 L46.5 829.0 L51.9 827.3 L57.3 825.7 L62.6 824.0 L67.7 822.3 L72.6 820.7 L77.2 819.0 L81.3 817.3 L85.0 815.7 L88.1 814.0 L90.6 812.3 L92.5 810.7 L93.7 809.0 L94.2 807.3Z" fill="#6a70c8" opacity="1.0"/>
<path d="M93.0 865.3 L92.5 867.0 L91.3 868.7 L89.4 870.3 L86.9 872.0 L83.8 873.7 L80.1 875.3 L76.0 877.0 L71.4 878.7 L66.5 880.3 L61.4 882.0 L56.1 883.7 L50.7 885.3 L45.3 887.0 L40.1 888.7 L35.0 890.3 L30.2 892.0 L25.8 893.7 L21.8 895.3 L18.4 897.0 L15.5 898.7 L13.2 900.3 L11.6 902.0 L10.7 903.7 L10.4 905.3 L10.4 927.3 L10.7 925.7 L11.6 924.0 L13.2 922.3 L15.5 920.7 L18.4 919.0 L21.8 917.3 L25.8 915.7 L30.2 914.0 L35.0 912.3 L40.1 910.7 L45.3 909.0 L50.7 907.3 L56.1 905.7 L61.4 904.0 L66.5 902.3 L71.4 900.7 L76.0 899.0 L80.1 897.3 L83.8 895.7 L86.9 894.0 L89.4 892.3 L91.3 890.7 L92.5 889.0 L93.0 887.3Z" fill="#6a70c8" opacity="1.0"/>
<path d="M91.8 945.3 L91.3 947.0 L90.1 948.7 L88.2 950.3 L85.7 952.0 L82.6 953.7 L78.9 955.3 L74.8 957.0 L70.2 958.7 L65.3 960.3 L60.2 962.0 L54.9 963.7 L49.5 965.3 L44.1 967.0 L38.9 968.7 L33.8 970.3 L29.0 972.0 L24.6 973.7 L20.6 975.3 L17.2 977.0 L14.3 978.7 L12.0 980.3 L10.4 982.0 L9.5 983.7 L9.2 985.3 L9.2 1007.3 L9.5 1005.7 L10.4 1004.0 L12.0 1002.3 L14.3 1000.7 L17.2 999.0 L20.6 997.3 L24.6 995.7 L29.0 994.0 L33.8 992.3 L38.9 990.7 L44.1 989.0 L49.5 987.3 L54.9 985.7 L60.2 984.0 L65.3 982.3 L70.2 980.7 L74.8 979.0 L78.9 977.3 L82.6 975.7 L85.7 974.0 L88.2 972.3 L90.1 970.7 L91.3 969.0 L91.8 967.3Z" fill="#6a70c8" opacity="1.0"/>
<path d="M90.6 1025.3 L90.1 1027.0 L88.9 1028.7 L87.0 1030.3 L84.5 1032.0 L81.4 1033.7 L77.7 1035.3 L73.6 1037.0 L69.0 1038.7 L64.1 1040.3 L59.0 1042.0 L53.7 1043.7 L48.3 1045.3 L42.9 1047.0 L37.7 1048.7 L32.6 1050.3 L27.8 1052.0 L23.4 1053.7 L19.4 1055.3 L16.0 1057.0 L13.1 1058.7 L10.8 1060.3 L9.2 1062.0 L8.3 1063.7 L8.0 1065.3 L8.0 1087.3 L8.3 1085.7 L9.2 1084.0 L10.8 1082.3 L13.1 1080.7 L16.0 1079.0 L19.4 1077.3 L23.4 1075.7 L27.8 1074.0 L32.6 1072.3 L37.7 1070.7 L42.9 1069.0 L48.3 1067.3 L53.7 1065.7 L59.0 1064.0 L64.1 1062.3 L69.0 1060.7 L73.6 1059.0 L77.7 1057.3 L81.4 1055.7 L84.5 1054.0 L87.0 1052.3 L88.9 1050.7 L90.1 1049.0 L90.6 1047.3Z" fill="#6a70c8" opacity="1.0"/>
<path d="M89.4 1105.3 L88.9 1107.0 L87.7 1108.7 L85.8 1110.3 L83.3 1112.0 L80.2 1113.7 L76.5 1115.3 L72.4 1117.0 L67.8 1118.7 L62.9 1120.3 L57.8 1122.0 L52.5 1123.7 L47.1 1125.3 L41.7 1127.0 L36.5 1128.7 L31.4 1130.3 L26.6 1132.0 L22.2 1133.7 L18.2 1135.3 L14.8 1137.0 L11.9 1138.7 L9.6 1140.3 L8.0 1142.0 L8.0 1164.0 L9.6 1162.3 L11.9 1160.7 L14.8 1159.0 L18.2 1157.3 L22.2 1155.7 L26.6 1154.0 L31.4 1152.3 L36.5 1150.7 L41.7 1149.0 L47.1 1147.3 L52.5 1145.7 L57.8 1144.0 L62.9 1142.3 L67.8 1140.7 L72.4 1139.0 L76.5 1137.3 L80.2 1135.7 L83.3 1134.0 L85.8 1132.3 L87.7 1130.7 L88.9 1129.0 L89.4 1127.3Z" fill="#6a70c8" opacity="1.0"/>
<path d="M12.8 745.3 L13.3 747.0 L14.4 748.7 L16.2 750.3 L18.7 752.0 L21.8 753.7 L25.4 755.3 L29.5 757.0 L34.0 758.7 L38.8 760.3 L43.9 762.0 L49.2 763.7 L54.5 765.3 L59.8 767.0 L65.0 768.7 L70.0 770.3 L74.8 772.0 L79.1 773.7 L83.1 775.3 L86.5 777.0 L89.3 778.7 L91.5 780.3 L93.1 782.0 L94.0 783.7 L94.2 785.3 L94.2 807.3 L94.0 805.7 L93.1 804.0 L91.5 802.3 L89.3 800.7 L86.5 799.0 L83.1 797.3 L79.1 795.7 L74.8 794.0 L70.0 792.3 L65.0 790.7 L59.8 789.0 L54.5 787.3 L49.2 785.7 L43.9 784.0 L38.8 782.3 L34.0 780.7 L29.5 779.0 L25.4 777.3 L21.8 775.7 L18.7 774.0 L16.2 772.3 L14.4 770.7 L13.3 769.0 L12.8 767.3Z" fill="#7c83d6" opacity="1.0"/>
<path d="M11.6 825.3 L12.1 827.0 L13.2 828.7 L15.0 830.3 L17.5 832.0 L20.6 833.7 L24.2 835.3 L28.3 837.0 L32.8 838.7 L37.6 840.3 L42.7 842.0 L48.0 843.7 L53.3 845.3 L58.6 847.0 L63.8 848.7 L68.8 850.3 L73.6 852.0 L77.9 853.7 L81.9 855.3 L85.3 857.0 L88.1 858.7 L90.3 860.3 L91.9 862.0 L92.8 863.7 L93.0 865.3 L93.0 887.3 L92.8 885.7 L91.9 884.0 L90.3 882.3 L88.1 880.7 L85.3 879.0 L81.9 877.3 L77.9 875.7 L73.6 874.0 L68.8 872.3 L63.8 870.7 L58.6 869.0 L53.3 867.3 L48.0 865.7 L42.7 864.0 L37.6 862.3 L32.8 860.7 L28.3 859.0 L24.2 857.3 L20.6 855.7 L17.5 854.0 L15.0 852.3 L13.2 850.7 L12.1 849.0 L11.6 847.3Z" fill="#7c83d6" opacity="1.0"/>
<path d="M10.4 905.3 L10.9 907.0 L12.0 908.7 L13.8 910.3 L16.3 912.0 L19.4 913.7 L23.0 915.3 L27.1 917.0 L31.6 918.7 L36.4 920.3 L41.5 922.0 L46.8 923.7 L52.1 925.3 L57.4 927.0 L62.6 928.7 L67.6 930.3 L72.4 932.0 L76.7 933.7 L80.7 935.3 L84.1 937.0 L86.9 938.7 L89.1 940.3 L90.7 942.0 L91.6 943.7 L91.8 945.3 L91.8 967.3 L91.6 965.7 L90.7 964.0 L89.1 962.3 L86.9 960.7 L84.1 959.0 L80.7 957.3 L76.7 955.7 L72.4 954.0 L67.6 952.3 L62.6 950.7 L57.4 949.0 L52.1 947.3 L46.8 945.7 L41.5 944.0 L36.4 942.3 L31.6 940.7 L27.1 939.0 L23.0 937.3 L19.4 935.7 L16.3 934.0 L13.8 932.3 L12.0 930.7 L10.9 929.0 L10.4 927.3Z" fill="#7c83d6" opacity="1.0"/>
<path d="M9.2 985.3 L9.7 987.0 L10.8 988.7 L12.6 990.3 L15.1 992.0 L18.2 993.7 L21.8 995.3 L25.9 997.0 L30.4 998.7 L35.2 1000.3 L40.3 1002.0 L45.6 1003.7 L50.9 1005.3 L56.2 1007.0 L61.4 1008.7 L66.4 1010.3 L71.2 1012.0 L75.5 1013.7 L79.5 1015.3 L82.9 1017.0 L85.7 1018.7 L87.9 1020.3 L89.5 1022.0 L90.4 1023.7 L90.6 1025.3 L90.6 1047.3 L90.4 1045.7 L89.5 1044.0 L87.9 1042.3 L85.7 1040.7 L82.9 1039.0 L79.5 1037.3 L75.5 1035.7 L71.2 1034.0 L66.4 1032.3 L61.4 1030.7 L56.2 1029.0 L50.9 1027.3 L45.6 1025.7 L40.3 1024.0 L35.2 1022.3 L30.4 1020.7 L25.9 1019.0 L21.8 1017.3 L18.2 1015.7 L15.1 1014.0 L12.6 1012.3 L10.8 1010.7 L9.7 1009.0 L9.2 1007.3Z" fill="#7c83d6" opacity="1.0"/>
<path d="M8.0 1065.3 L8.5 1067.0 L9.6 1068.7 L11.4 1070.3 L13.9 1072.0 L17.0 1073.7 L20.6 1075.3 L24.7 1077.0 L29.2 1078.7 L34.0 1080.3 L39.1 1082.0 L44.4 1083.7 L49.7 1085.3 L55.0 1087.0 L60.2 1088.7 L65.2 1090.3 L70.0 1092.0 L74.3 1093.7 L78.3 1095.3 L81.7 1097.0 L84.5 1098.7 L86.7 1100.3 L88.3 1102.0 L89.2 1103.7 L89.4 1105.3 L89.4 1127.3 L89.2 1125.7 L88.3 1124.0 L86.7 1122.3 L84.5 1120.7 L81.7 1119.0 L78.3 1117.3 L74.3 1115.7 L70.0 1114.0 L65.2 1112.3 L60.2 1110.7 L55.0 1109.0 L49.7 1107.3 L44.4 1105.7 L39.1 1104.0 L34.0 1102.3 L29.2 1100.7 L24.7 1099.0 L20.6 1097.3 L17.0 1095.7 L13.9 1094.0 L11.4 1092.3 L9.6 1090.7 L8.5 1089.0 L8.0 1087.3Z" fill="#7c83d6" opacity="1.0"/>
<path d="M29.6 739.0 L25.2 740.7 L21.2 742.3 L17.8 744.0 L14.9 745.7 L12.6 747.3 L11.0 749.0 L10.1 750.7 L9.8 752.3 L9.8 774.3 L10.1 772.7 L11.0 771.0 L12.6 769.3 L14.9 767.7 L17.8 766.0 L21.2 764.3 L25.2 762.7 L29.6 761.0Z" fill="#e2d440" opacity="1.0"/>
<path d="M91.2 792.3 L90.7 794.0 L89.5 795.7 L87.6 797.3 L85.1 799.0 L82.0 800.7 L78.3 802.3 L74.2 804.0 L69.6 805.7 L64.7 807.3 L59.6 809.0 L54.3 810.7 L48.9 812.3 L43.5 814.0 L38.3 815.7 L33.2 817.3 L28.4 819.0 L24.0 820.7 L20.0 822.3 L16.6 824.0 L13.7 825.7 L11.4 827.3 L9.8 829.0 L8.9 830.7 L8.6 832.3 L8.6 854.3 L8.9 852.7 L9.8 851.0 L11.4 849.3 L13.7 847.7 L16.6 846.0 L20.0 844.3 L24.0 842.7 L28.4 841.0 L33.2 839.3 L38.3 837.7 L43.5 836.0 L48.9 834.3 L54.3 832.7 L59.6 831.0 L64.7 829.3 L69.6 827.7 L74.2 826.0 L78.3 824.3 L82.0 822.7 L85.1 821.0 L87.6 819.3 L89.5 817.7 L90.7 816.0 L91.2 814.3Z" fill="#e2d440" opacity="1.0"/>
<path d="M90.0 872.3 L89.5 874.0 L88.3 875.7 L86.4 877.3 L83.9 879.0 L80.8 880.7 L77.1 882.3 L73.0 884.0 L68.4 885.7 L63.5 887.3 L58.4 889.0 L53.1 890.7 L47.7 892.3 L42.3 894.0 L37.1 895.7 L32.0 897.3 L27.2 899.0 L22.8 900.7 L18.8 902.3 L15.4 904.0 L12.5 905.7 L10.2 907.3 L8.6 909.0 L7.7 910.7 L7.4 912.3 L7.4 934.3 L7.7 932.7 L8.6 931.0 L10.2 929.3 L12.5 927.7 L15.4 926.0 L18.8 924.3 L22.8 922.7 L27.2 921.0 L32.0 919.3 L37.1 917.7 L42.3 916.0 L47.7 914.3 L53.1 912.7 L58.4 911.0 L63.5 909.3 L68.4 907.7 L73.0 906.0 L77.1 904.3 L80.8 902.7 L83.9 901.0 L86.4 899.3 L88.3 897.7 L89.5 896.0 L90.0 894.3Z" fill="#e2d440" opacity="1.0"/>
<path d="M88.8 952.3 L88.3 954.0 L87.1 955.7 L85.2 957.3 L82.7 959.0 L79.6 960.7 L75.9 962.3 L71.8 964.0 L67.2 965.7 L62.3 967.3 L57.2 969.0 L51.9 970.7 L46.5 972.3 L41.1 974.0 L35.9 975.7 L30.8 977.3 L26.0 979.0 L21.6 980.7 L17.6 982.3 L14.2 984.0 L11.3 985.7 L9.0 987.3 L7.4 989.0 L6.5 990.7 L6.2 992.3 L6.2 1014.3 L6.5 1012.7 L7.4 1011.0 L9.0 1009.3 L11.3 1007.7 L14.2 1006.0 L17.6 1004.3 L21.6 1002.7 L26.0 1001.0 L30.8 999.3 L35.9 997.7 L41.1 996.0 L46.5 994.3 L51.9 992.7 L57.2 991.0 L62.3 989.3 L67.2 987.7 L71.8 986.0 L75.9 984.3 L79.6 982.7 L82.7 981.0 L85.2 979.3 L87.1 977.7 L88.3 976.0 L88.8 974.3Z" fill="#e2d440" opacity="1.0"/>
<path d="M87.6 1032.3 L87.1 1034.0 L85.9 1035.7 L84.0 1037.3 L81.5 1039.0 L78.4 1040.7 L74.7 1042.3 L70.6 1044.0 L66.0 1045.7 L61.1 1047.3 L56.0 1049.0 L50.7 1050.7 L45.3 1052.3 L39.9 1054.0 L34.7 1055.7 L29.6 1057.3 L24.8 1059.0 L20.4 1060.7 L16.4 1062.3 L13.0 1064.0 L10.1 1065.7 L7.8 1067.3 L6.2 1069.0 L5.3 1070.7 L5.0 1072.3 L5.0 1094.3 L5.3 1092.7 L6.2 1091.0 L7.8 1089.3 L10.1 1087.7 L13.0 1086.0 L16.4 1084.3 L20.4 1082.7 L24.8 1081.0 L29.6 1079.3 L34.7 1077.7 L39.9 1076.0 L45.3 1074.3 L50.7 1072.7 L56.0 1071.0 L61.1 1069.3 L66.0 1067.7 L70.6 1066.0 L74.7 1064.3 L78.4 1062.7 L81.5 1061.0 L84.0 1059.3 L85.9 1057.7 L87.1 1056.0 L87.6 1054.3Z" fill="#e2d440" opacity="1.0"/>
<path d="M86.4 1112.3 L85.9 1114.0 L84.7 1115.7 L82.8 1117.3 L80.3 1119.0 L77.2 1120.7 L73.5 1122.3 L69.4 1124.0 L64.8 1125.7 L59.9 1127.3 L54.8 1129.0 L49.5 1130.7 L44.1 1132.3 L38.7 1134.0 L33.5 1135.7 L28.4 1137.3 L23.6 1139.0 L19.2 1140.7 L15.2 1142.3 L11.8 1144.0 L8.9 1145.7 L6.6 1147.3 L5.0 1149.0 L5.0 1171.0 L6.6 1169.3 L8.9 1167.7 L11.8 1166.0 L15.2 1164.3 L19.2 1162.7 L23.6 1161.0 L28.4 1159.3 L33.5 1157.7 L38.7 1156.0 L44.1 1154.3 L49.5 1152.7 L54.8 1151.0 L59.9 1149.3 L64.8 1147.7 L69.4 1146.0 L73.5 1144.3 L77.2 1142.7 L80.3 1141.0 L82.8 1139.3 L84.7 1137.7 L85.9 1136.0 L86.4 1134.3Z" fill="#e2d440" opacity="1.0"/>
<path d="M9.8 752.3 L10.3 754.0 L11.4 755.7 L13.2 757.3 L15.7 759.0 L18.8 760.7 L22.4 762.3 L26.5 764.0 L31.0 765.7 L35.8 767.3 L40.9 769.0 L46.2 770.7 L51.5 772.3 L56.8 774.0 L62.0 775.7 L67.0 777.3 L71.8 779.0 L76.1 780.7 L80.1 782.3 L83.5 784.0 L86.3 785.7 L88.5 787.3 L90.1 789.0 L91.0 790.7 L91.2 792.3 L91.2 814.3 L91.0 812.7 L90.1 811.0 L88.5 809.3 L86.3 807.7 L83.5 806.0 L80.1 804.3 L76.1 802.7 L71.8 801.0 L67.0 799.3 L62.0 797.7 L56.8 796.0 L51.5 794.3 L46.2 792.7 L40.9 791.0 L35.8 789.3 L31.0 787.7 L26.5 786.0 L22.4 784.3 L18.8 782.7 L15.7 781.0 L13.2 779.3 L11.4 777.7 L10.3 776.0 L9.8 774.3Z" fill="#f0e44a" opacity="1.0"/>
<path d="M8.6 832.3 L9.1 834.0 L10.2 835.7 L12.0 837.3 L14.5 839.0 L17.6 840.7 L21.2 842.3 L25.3 844.0 L29.8 845.7 L34.6 847.3 L39.7 849.0 L45.0 850.7 L50.3 852.3 L55.6 854.0 L60.8 855.7 L65.8 857.3 L70.6 859.0 L74.9 860.7 L78.9 862.3 L82.3 864.0 L85.1 865.7 L87.3 867.3 L88.9 869.0 L89.8 870.7 L90.0 872.3 L90.0 894.3 L89.8 892.7 L88.9 891.0 L87.3 889.3 L85.1 887.7 L82.3 886.0 L78.9 884.3 L74.9 882.7 L70.6 881.0 L65.8 879.3 L60.8 877.7 L55.6 876.0 L50.3 874.3 L45.0 872.7 L39.7 871.0 L34.6 869.3 L29.8 867.7 L25.3 866.0 L21.2 864.3 L17.6 862.7 L14.5 861.0 L12.0 859.3 L10.2 857.7 L9.1 856.0 L8.6 854.3Z" fill="#f0e44a" opacity="1.0"/>
<path d="M7.4 912.3 L7.9 914.0 L9.0 915.7 L10.8 917.3 L13.3 919.0 L16.4 920.7 L20.0 922.3 L24.1 924.0 L28.6 925.7 L33.4 927.3 L38.5 929.0 L43.8 930.7 L49.1 932.3 L54.4 934.0 L59.6 935.7 L64.6 937.3 L69.4 939.0 L73.7 940.7 L77.7 942.3 L81.1 944.0 L83.9 945.7 L86.1 947.3 L87.7 949.0 L88.6 950.7 L88.8 952.3 L88.8 974.3 L88.6 972.7 L87.7 971.0 L86.1 969.3 L83.9 967.7 L81.1 966.0 L77.7 964.3 L73.7 962.7 L69.4 961.0 L64.6 959.3 L59.6 957.7 L54.4 956.0 L49.1 954.3 L43.8 952.7 L38.5 951.0 L33.4 949.3 L28.6 947.7 L24.1 946.0 L20.0 944.3 L16.4 942.7 L13.3 941.0 L10.8 939.3 L9.0 937.7 L7.9 936.0 L7.4 934.3Z" fill="#f0e44a" opacity="1.0"/>
<path d="M6.2 992.3 L6.7 994.0 L7.8 995.7 L9.6 997.3 L12.1 999.0 L15.2 1000.7 L18.8 1002.3 L22.9 1004.0 L27.4 1005.7 L32.2 1007.3 L37.3 1009.0 L42.6 1010.7 L47.9 1012.3 L53.2 1014.0 L58.4 1015.7 L63.4 1017.3 L68.2 1019.0 L72.5 1020.7 L76.5 1022.3 L79.9 1024.0 L82.7 1025.7 L84.9 1027.3 L86.5 1029.0 L87.4 1030.7 L87.6 1032.3 L87.6 1054.3 L87.4 1052.7 L86.5 1051.0 L84.9 1049.3 L82.7 1047.7 L79.9 1046.0 L76.5 1044.3 L72.5 1042.7 L68.2 1041.0 L63.4 1039.3 L58.4 1037.7 L53.2 1036.0 L47.9 1034.3 L42.6 1032.7 L37.3 1031.0 L32.2 1029.3 L27.4 1027.7 L22.9 1026.0 L18.8 1024.3 L15.2 1022.7 L12.1 1021.0 L9.6 1019.3 L7.8 1017.7 L6.7 1016.0 L6.2 1014.3Z" fill="#f0e44a" opacity="1.0"/>
<path d="M5.0 1072.3 L5.5 1074.0 L6.6 1075.7 L8.4 1077.3 L10.9 1079.0 L14.0 1080.7 L17.6 1082.3 L21.7 1084.0 L26.2 1085.7 L31.0 1087.3 L36.1 1089.0 L41.4 1090.7 L46.7 1092.3 L52.0 1094.0 L57.2 1095.7 L62.2 1097.3 L67.0 1099.0 L71.3 1100.7 L75.3 1102.3 L78.7 1104.0 L81.5 1105.7 L83.7 1107.3 L85.3 1109.0 L86.2 1110.7 L86.4 1112.3 L86.4 1134.3 L86.2 1132.7 L85.3 1131.0 L83.7 1129.3 L81.5 1127.7 L78.7 1126.0 L75.3 1124.3 L71.3 1122.7 L67.0 1121.0 L62.2 1119.3 L57.2 1117.7 L52.0 1116.0 L46.7 1114.3 L41.4 1112.7 L36.1 1111.0 L31.0 1109.3 L26.2 1107.7 L21.7 1106.0 L17.6 1104.3 L14.0 1102.7 L10.9 1101.0 L8.4 1099.3 L6.6 1097.7 L5.5 1096.0 L5.0 1094.3Z" fill="#f0e44a" opacity="1.0"/>
<path d="M384.9 740.0 L388.3 741.7 L391.0 743.4 L393.1 745.1 L394.4 746.9 L395.0 748.6 L394.8 750.3 L394.8 774.3 L395.0 772.6 L394.4 770.9 L393.1 769.1 L391.0 767.4 L388.3 765.7 L384.9 764.0Z" fill="#9a9230" opacity="1.0"/>
<path d="M307.2 791.4 L308.2 793.1 L309.9 794.8 L312.3 796.5 L315.4 798.2 L319.1 800.0 L323.4 801.7 L328.1 803.4 L333.2 805.1 L338.6 806.8 L344.3 808.5 L350.0 810.2 L355.8 812.0 L361.5 813.7 L367.0 815.4 L372.2 817.1 L377.1 818.8 L381.5 820.5 L385.4 822.2 L388.7 823.9 L391.3 825.7 L393.3 827.4 L394.5 829.1 L395.0 830.8 L394.7 832.5 L394.7 856.5 L395.0 854.8 L394.5 853.1 L393.3 851.4 L391.3 849.7 L388.7 847.9 L385.4 846.2 L381.5 844.5 L377.1 842.8 L372.2 841.1 L367.0 839.4 L361.5 837.7 L355.8 836.0 L350.0 834.2 L344.3 832.5 L338.6 830.8 L333.2 829.1 L328.1 827.4 L323.4 825.7 L319.1 824.0 L315.4 822.2 L312.3 820.5 L309.9 818.8 L308.2 817.1 L307.2 815.4Z" fill="#9a9230" opacity="1.0"/>
<path d="M307.3 873.6 L308.4 875.3 L310.2 877.1 L312.7 878.8 L315.9 880.5 L319.7 882.2 L324.0 883.9 L328.8 885.6 L333.9 887.3 L339.4 889.1 L345.0 890.8 L350.8 892.5 L356.6 894.2 L362.2 895.9 L367.7 897.6 L372.9 899.3 L377.7 901.0 L382.0 902.8 L385.9 904.5 L389.1 906.2 L391.6 907.9 L393.5 909.6 L394.6 911.3 L395.0 913.0 L395.0 937.0 L394.6 935.3 L393.5 933.6 L391.6 931.9 L389.1 930.2 L385.9 928.5 L382.0 926.8 L377.7 925.0 L372.9 923.3 L367.7 921.6 L362.2 919.9 L356.6 918.2 L350.8 916.5 L345.0 914.8 L339.4 913.1 L333.9 911.3 L328.8 909.6 L324.0 907.9 L319.7 906.2 L315.9 904.5 L312.7 902.8 L310.2 901.1 L308.4 899.3 L307.3 897.6Z" fill="#9a9230" opacity="1.0"/>
<path d="M307.0 954.2 L307.4 955.9 L308.6 957.6 L310.5 959.3 L313.1 961.0 L316.4 962.7 L320.2 964.4 L324.6 966.1 L329.5 967.9 L334.7 969.6 L340.2 971.3 L345.8 973.0 L345.8 997.0 L340.2 995.3 L334.7 993.6 L329.5 991.9 L324.6 990.1 L320.2 988.4 L316.4 986.7 L313.1 985.0 L310.5 983.3 L308.6 981.6 L307.4 979.9 L307.0 978.2Z" fill="#9a9230" opacity="1.0"/>
<path d="M394.8 750.3 L393.9 752.0 L392.2 753.7 L389.8 755.4 L386.8 757.1 L383.1 758.8 L378.9 760.6 L374.2 762.3 L369.2 764.0 L363.8 765.7 L358.1 767.4 L352.4 769.1 L346.6 770.8 L340.9 772.6 L335.4 774.3 L330.2 776.0 L325.3 777.7 L320.8 779.4 L316.9 781.1 L313.5 782.8 L310.8 784.5 L308.8 786.3 L307.5 788.0 L307.0 789.7 L307.2 791.4 L307.2 815.4 L307.0 813.7 L307.5 812.0 L308.8 810.3 L310.8 808.5 L313.5 806.8 L316.9 805.1 L320.8 803.4 L325.3 801.7 L330.2 800.0 L335.4 798.3 L340.9 796.6 L346.6 794.8 L352.4 793.1 L358.1 791.4 L363.8 789.7 L369.2 788.0 L374.2 786.3 L378.9 784.6 L383.1 782.8 L386.8 781.1 L389.8 779.4 L392.2 777.7 L393.9 776.0 L394.8 774.3Z" fill="#f0e44a" opacity="1.0"/>
<path d="M394.7 832.5 L393.7 834.2 L391.9 835.9 L389.5 837.7 L386.3 839.4 L382.6 841.1 L378.3 842.8 L373.6 844.5 L368.4 846.2 L363.0 847.9 L357.3 849.6 L351.6 851.4 L345.8 853.1 L340.2 854.8 L334.7 856.5 L329.5 858.2 L324.6 859.9 L320.2 861.6 L316.4 863.4 L313.1 865.1 L310.5 866.8 L308.6 868.5 L307.4 870.2 L307.0 871.9 L307.3 873.6 L307.3 897.6 L307.0 895.9 L307.4 894.2 L308.6 892.5 L310.5 890.8 L313.1 889.1 L316.4 887.4 L320.2 885.6 L324.6 883.9 L329.5 882.2 L334.7 880.5 L340.2 878.8 L345.8 877.1 L351.6 875.4 L357.3 873.6 L363.0 871.9 L368.4 870.2 L373.6 868.5 L378.3 866.8 L382.6 865.1 L386.3 863.4 L389.5 861.7 L391.9 859.9 L393.7 858.2 L394.7 856.5Z" fill="#f0e44a" opacity="1.0"/>
<path d="M395.0 913.0 L394.6 914.8 L393.5 916.5 L391.6 918.2 L389.1 919.9 L385.9 921.6 L382.0 923.3 L377.7 925.0 L372.9 926.7 L367.7 928.5 L362.2 930.2 L356.6 931.9 L350.8 933.6 L345.0 935.3 L339.4 937.0 L333.9 938.7 L328.8 940.4 L324.0 942.2 L319.7 943.9 L315.9 945.6 L312.7 947.3 L310.2 949.0 L308.4 950.7 L307.3 952.4 L307.0 954.2 L307.0 978.2 L307.3 976.4 L308.4 974.7 L310.2 973.0 L312.7 971.3 L315.9 969.6 L319.7 967.9 L324.0 966.2 L328.8 964.4 L333.9 962.7 L339.4 961.0 L345.0 959.3 L350.8 957.6 L356.6 955.9 L362.2 954.2 L367.7 952.5 L372.9 950.7 L377.7 949.0 L382.0 947.3 L385.9 945.6 L389.1 943.9 L391.6 942.2 L393.5 940.5 L394.6 938.8 L395.0 937.0Z" fill="#f0e44a" opacity="1.0"/>
<path d="M388.9 732.0 L392.3 733.7 L395.0 735.4 L397.1 737.2 L398.4 738.9 L399.0 740.6 L398.8 742.3 L398.8 766.3 L399.0 764.6 L398.4 762.9 L397.1 761.2 L395.0 759.4 L392.3 757.7 L388.9 756.0Z" fill="#565cab" opacity="1.0"/>
<path d="M311.3 783.7 L312.4 785.4 L314.3 787.1 L316.8 788.8 L320.0 790.6 L323.9 792.3 L328.2 794.0 L333.1 795.7 L338.3 797.4 L343.8 799.2 L349.5 800.9 L355.3 802.6 L361.0 804.3 L366.7 806.1 L372.2 807.8 L377.4 809.5 L382.2 811.2 L386.5 812.9 L390.3 814.7 L393.4 816.4 L395.9 818.1 L397.7 819.8 L398.7 821.6 L399.0 823.3 L399.0 847.3 L398.7 845.6 L397.7 843.8 L395.9 842.1 L393.4 840.4 L390.3 838.7 L386.5 836.9 L382.2 835.2 L377.4 833.5 L372.2 831.8 L366.7 830.1 L361.0 828.3 L355.3 826.6 L349.5 824.9 L343.8 823.2 L338.3 821.4 L333.1 819.7 L328.2 818.0 L323.9 816.3 L320.0 814.6 L316.8 812.8 L314.3 811.1 L312.4 809.4 L311.3 807.7Z" fill="#565cab" opacity="1.0"/>
<path d="M311.0 864.6 L311.7 866.3 L313.1 868.1 L315.2 869.8 L318.0 871.5 L321.5 873.2 L325.5 874.9 L330.0 876.7 L335.0 878.4 L340.4 880.1 L346.0 881.8 L351.7 883.6 L357.5 885.3 L363.3 887.0 L368.9 888.7 L374.2 890.4 L379.3 892.2 L383.9 893.9 L388.0 895.6 L391.6 897.3 L394.5 899.1 L396.7 900.8 L398.2 902.5 L398.9 904.2 L398.9 905.9 L398.9 929.9 L398.9 928.2 L398.2 926.5 L396.7 924.8 L394.5 923.1 L391.6 921.3 L388.0 919.6 L383.9 917.9 L379.3 916.2 L374.2 914.4 L368.9 912.7 L363.3 911.0 L357.5 909.3 L351.7 907.6 L346.0 905.8 L340.4 904.1 L335.0 902.4 L330.0 900.7 L325.5 898.9 L321.5 897.2 L318.0 895.5 L315.2 893.8 L313.1 892.1 L311.7 890.3 L311.0 888.6Z" fill="#565cab" opacity="1.0"/>
<path d="M398.8 742.3 L397.8 744.1 L396.1 745.8 L393.7 747.5 L390.6 749.2 L386.9 750.9 L382.7 752.7 L377.9 754.4 L372.8 756.1 L367.3 757.8 L361.7 759.6 L355.9 761.3 L350.1 763.0 L344.4 764.7 L338.8 766.4 L333.6 768.2 L328.7 769.9 L324.3 771.6 L320.4 773.3 L317.1 775.1 L314.5 776.8 L312.6 778.5 L311.4 780.2 L311.0 781.9 L311.3 783.7 L311.3 807.7 L311.0 805.9 L311.4 804.2 L312.6 802.5 L314.5 800.8 L317.1 799.1 L320.4 797.3 L324.3 795.6 L328.7 793.9 L333.6 792.2 L338.8 790.4 L344.4 788.7 L350.1 787.0 L355.9 785.3 L361.7 783.6 L367.3 781.8 L372.8 780.1 L377.9 778.4 L382.7 776.7 L386.9 774.9 L390.6 773.2 L393.7 771.5 L396.1 769.8 L397.8 768.1 L398.8 766.3Z" fill="#7c83d6" opacity="1.0"/>
<path d="M399.0 823.3 L398.5 825.0 L397.3 826.7 L395.3 828.4 L392.6 830.2 L389.3 831.9 L385.3 833.6 L380.9 835.3 L376.0 837.1 L370.7 838.8 L365.1 840.5 L359.4 842.2 L353.6 843.9 L347.8 845.7 L342.2 847.4 L336.8 849.1 L331.7 850.8 L327.0 852.6 L322.7 854.3 L319.1 856.0 L316.0 857.7 L313.7 859.4 L312.1 861.2 L311.2 862.9 L311.0 864.6 L311.0 888.6 L311.2 886.9 L312.1 885.2 L313.7 883.4 L316.0 881.7 L319.1 880.0 L322.7 878.3 L327.0 876.6 L331.7 874.8 L336.8 873.1 L342.2 871.4 L347.8 869.7 L353.6 867.9 L359.4 866.2 L365.1 864.5 L370.7 862.8 L376.0 861.1 L380.9 859.3 L385.3 857.6 L389.3 855.9 L392.6 854.2 L395.3 852.4 L397.3 850.7 L398.5 849.0 L399.0 847.3Z" fill="#7c83d6" opacity="1.0"/>
<path d="M398.9 905.9 L398.1 907.7 L396.6 909.4 L394.3 911.1 L391.4 912.8 L387.8 914.6 L383.7 916.3 L379.0 918.0 L379.0 942.0 L383.7 940.3 L387.8 938.6 L391.4 936.8 L394.3 935.1 L396.6 933.4 L398.1 931.7 L398.9 929.9Z" fill="#7c83d6" opacity="1.0"/>
<path d="M300 965 C 330 975, 365 1000, 360 1020 C 355 1040, 300 1045, 310 1060 C 320 1080, 350 1100, 380 1108" fill="none" stroke="#7c83d6" stroke-width="6" stroke-linecap="round" stroke-linejoin="round" />
<path d="M305 960 C 335 975, 360 995, 355 1015 C 350 1035, 300 1040, 308 1055 C 318 1070, 345 1080, 370 1090" fill="none" stroke="#f0e44a" stroke-width="6" stroke-linecap="round" stroke-linejoin="round" />
<path d="M370 1040 C 380 1030, 395 1025, 405 1030 L 405 1110 L 375 1110 Z" fill="#c8ccf2" stroke="#c8ccf2" stroke-width="0" stroke-linecap="round" stroke-linejoin="round" />
<path d="M360 1070 L 385 1090" fill="none" stroke="#f0e44a" stroke-width="8" stroke-linecap="round" stroke-linejoin="round" />
<path d="M90 868 L110 875 L128 862 L145 868" fill="none" stroke="#f0e44a" stroke-width="6" stroke-linecap="round" stroke-linejoin="round" />
<path d="M130 855 L150 858" fill="none" stroke="#7c83d6" stroke-width="6" stroke-linecap="round" stroke-linejoin="round" />
<path d="M138 850 L142 862" fill="none" stroke="#c8a030" stroke-width="7" stroke-linecap="round" stroke-linejoin="round" />
<path d="M95 950 L120 945 L140 950 L165 945" fill="none" stroke="#7c83d6" stroke-width="6" stroke-linecap="round" stroke-linejoin="round" />
<path d="M92 957 L118 950 L140 955 L165 950" fill="none" stroke="#f0e44a" stroke-width="6" stroke-linecap="round" stroke-linejoin="round" />
<path d="M165 945 L175 940" fill="none" stroke="#e04848" stroke-width="7" stroke-linecap="round" stroke-linejoin="round" />
<path d="M150 987 L170 980 L185 985 L205 980 L230 985" fill="none" stroke="#f0e44a" stroke-width="6" stroke-linecap="round" stroke-linejoin="round" />
<path d="M195 975 L210 965 L235 972 M200 990 L240 990" fill="none" stroke="#7c83d6" stroke-width="7" stroke-linecap="round" stroke-linejoin="round" />
<path d="M248 925 L262 918 L278 925 L280 940 L266 948 L250 940 Z" fill="none" stroke="#7c83d6" stroke-width="6" stroke-linecap="round" stroke-linejoin="round" />
<path d="M225 915 L240 920" fill="none" stroke="#e04848" stroke-width="7" stroke-linecap="round" stroke-linejoin="round" />
<path d="M245 930 L262 923 L278 932 L280 950 L265 958 L248 950 Z" fill="none" stroke="#f0e44a" stroke-width="6" stroke-linecap="round" stroke-linejoin="round" />
<path d="M235 920 L247 930" fill="none" stroke="#e04848" stroke-width="6" stroke-linecap="round" stroke-linejoin="round" />
<path d="M280 945 L300 960" fill="none" stroke="#f0e44a" stroke-width="6" stroke-linecap="round" stroke-linejoin="round" />
<path d="M216 935 L232 950 M224 951 L233 951 L233 942" fill="none" stroke="#f09010" stroke-width="3" stroke-linecap="round" stroke-linejoin="round" />
<path d="M247 981 L235 995 M234 986 L234 996 L243 996" fill="none" stroke="#f09010" stroke-width="3" stroke-linecap="round" stroke-linejoin="round" />
</g>
<text x="80.4" y="858.8" font-size="24" font-weight="bold" fill="#000">M202<tspan font-size="15" dy="-10">5.54</tspan></text>
<text x="211" y="904" font-size="24" font-weight="bold" fill="#000">Y440<tspan font-size="15" dy="-10">7.53</tspan></text>
<text x="100.5" y="937.5" font-size="24" font-weight="bold" fill="#000">Y206<tspan font-size="15" dy="-10">5.58</tspan></text>
<text x="323" y="953.6" font-size="25" font-weight="bold" fill="#000">TM7</text>
<text x="28.5" y="1009.5" font-size="25" font-weight="bold" fill="#000">TM5</text>
<text x="169" y="1039.7" font-size="24" font-weight="bold" fill="#000">R121<tspan font-size="15" dy="-10">3.50</tspan></text>
<text x="355.8" y="1074" font-size="25" font-weight="bold" fill="#000">H8</text>
<text x="124" y="1085" font-size="25" font-weight="bold" fill="#cdb92e" textLength="177" lengthAdjust="spacingAndGlyphs">Ixo-M2R-βArr1</text>
<text x="124" y="1115" font-size="25" font-weight="bold" fill="#5a68c6" textLength="165" lengthAdjust="spacingAndGlyphs">Ixo-M2R-GoA</text>
<text x="3" y="43" font-size="52" fill="#000" font-weight="bold" text-anchor="start" >a</text>
<text x="-3.5" y="441" font-size="52" fill="#000" font-weight="bold" text-anchor="start" >b</text>
<text x="506" y="40" font-size="52" fill="#000" font-weight="bold" text-anchor="start" >c</text>
<text x="1007" y="41.5" font-size="52" fill="#000" font-weight="bold" text-anchor="start" >d</text>
<text x="1" y="823.5" font-size="52" fill="#000" font-weight="bold" text-anchor="start" >e</text>
<text x="1489" y="38.5" font-size="52" fill="#000" font-weight="bold" text-anchor="start" >f</text>
</svg></body></html>
